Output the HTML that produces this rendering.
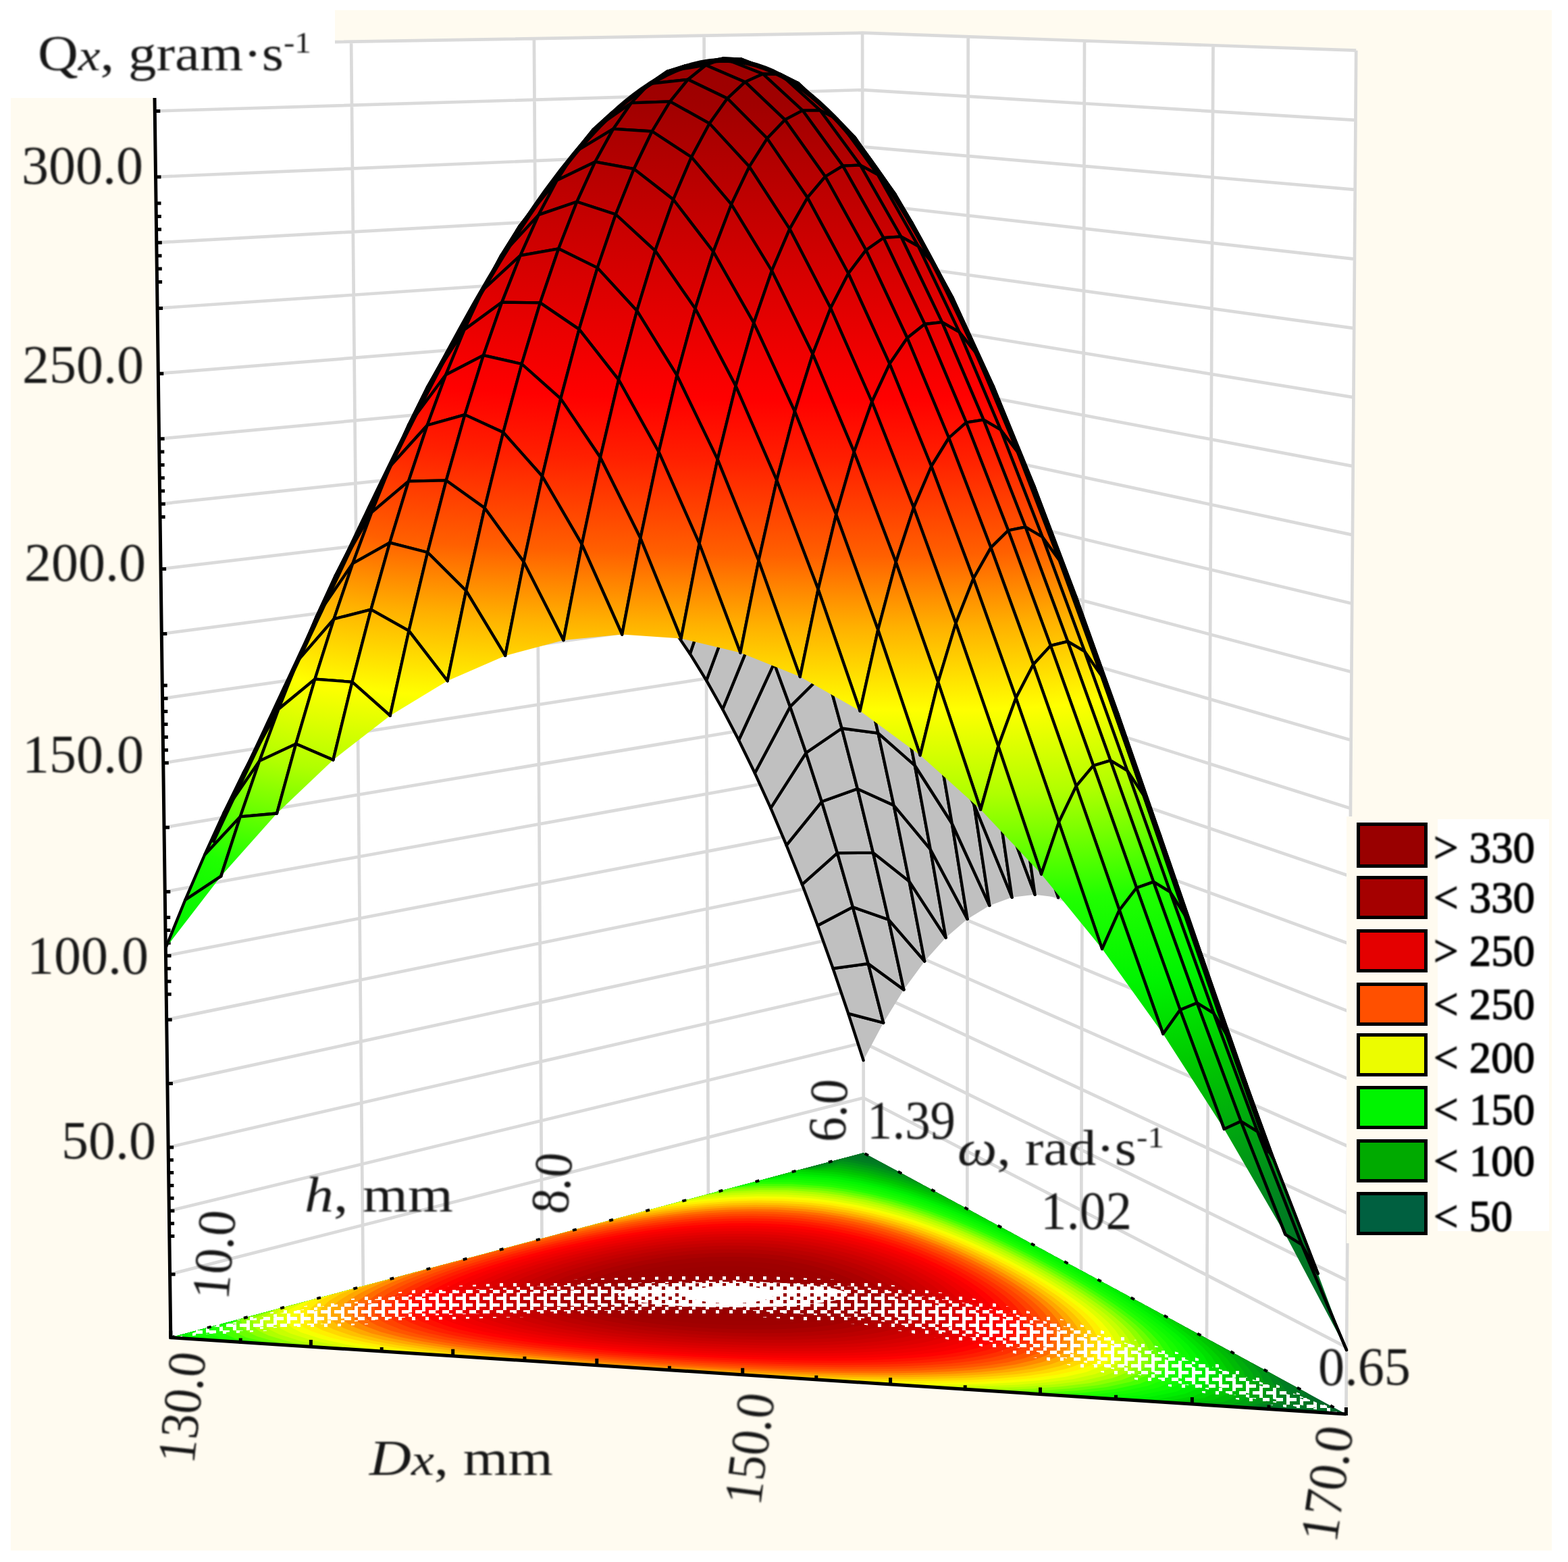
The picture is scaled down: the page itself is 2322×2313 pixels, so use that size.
<!DOCTYPE html><html><head><meta charset="utf-8"><style>html,body{margin:0;padding:0;background:#fff;overflow:hidden}svg{display:block}</style></head><body><svg width="2322" height="2313" viewBox="0 0 2322 2313">
<defs><filter id="tb" x="-5%" y="-5%" width="110%" height="110%"><feGaussianBlur stdDeviation="0.9"/></filter><pattern id="st0" width="20" height="20" patternUnits="userSpaceOnUse"><rect width="5" height="5" fill="#fff"/><rect x="10" y="10" width="5" height="5" fill="#fff"/></pattern><pattern id="st1" width="20" height="10" patternUnits="userSpaceOnUse"><rect x="5" y="5" width="5" height="5" fill="#fff"/><rect x="15" y="0" width="5" height="5" fill="#fff"/></pattern><pattern id="st2" width="10" height="10" patternUnits="userSpaceOnUse"><rect x="5" y="0" width="5" height="5" fill="#fff"/></pattern><pattern id="st3" width="20" height="10" patternUnits="userSpaceOnUse"><rect width="10" height="5" fill="#fff"/><rect x="10" y="5" width="10" height="5" fill="#fff"/></pattern><linearGradient id="g1" gradientUnits="userSpaceOnUse" x1="1028.8" y1="108.9" x2="1030.9" y2="83.1"><stop offset="0" stop-color="#9c0000"/><stop offset="1" stop-color="#9b0000"/></linearGradient><linearGradient id="g2" gradientUnits="userSpaceOnUse" x1="772.7" y1="336.2" x2="850.6" y2="223.7"><stop offset="0" stop-color="#ca0000"/><stop offset="0.237" stop-color="#c40000"/><stop offset="1" stop-color="#b10000"/></linearGradient><linearGradient id="g3" gradientUnits="userSpaceOnUse" x1="910.9" y1="199" x2="929.7" y2="116.6"><stop offset="0" stop-color="#aa0000"/><stop offset="0.617" stop-color="#a00000"/><stop offset="1" stop-color="#9e0000"/></linearGradient><linearGradient id="g4" gradientUnits="userSpaceOnUse" x1="1114.1" y1="111.4" x2="1113.2" y2="85.1"><stop offset="0" stop-color="#9d0000"/><stop offset="1" stop-color="#9b0000"/></linearGradient><linearGradient id="g5" gradientUnits="userSpaceOnUse" x1="622.5" y1="561.7" x2="729.5" y2="441.3"><stop offset="0" stop-color="#ff0300"/><stop offset="0.0485" stop-color="#ff0000"/><stop offset="0.948" stop-color="#e00000"/><stop offset="1" stop-color="#de0000"/></linearGradient><linearGradient id="g6" gradientUnits="userSpaceOnUse" x1="1003" y1="125.4" x2="1004" y2="95.1"><stop offset="0" stop-color="#9e0000"/><stop offset="1" stop-color="#9c0000"/></linearGradient><linearGradient id="g7" gradientUnits="userSpaceOnUse" x1="766.9" y1="384.7" x2="801.3" y2="260.2"><stop offset="0" stop-color="#d30000"/><stop offset="0.608" stop-color="#c40000"/><stop offset="1" stop-color="#ba0000"/></linearGradient><linearGradient id="g8" gradientUnits="userSpaceOnUse" x1="889.4" y1="228.7" x2="897.5" y2="148.5"><stop offset="0" stop-color="#b10000"/><stop offset="1" stop-color="#a00000"/></linearGradient><linearGradient id="g9" gradientUnits="userSpaceOnUse" x1="1202.3" y1="181.2" x2="1193.8" y2="105.8"><stop offset="0" stop-color="#a60000"/><stop offset="0.387" stop-color="#a00000"/><stop offset="1" stop-color="#9d0000"/></linearGradient><linearGradient id="g10" gradientUnits="userSpaceOnUse" x1="475.7" y1="821.9" x2="604.6" y2="723.5"><stop offset="0" stop-color="#ff9900"/><stop offset="0.415" stop-color="#ff6000"/><stop offset="1" stop-color="#ff3100"/></linearGradient><linearGradient id="g11" gradientUnits="userSpaceOnUse" x1="615.7" y1="631.8" x2="680.2" y2="484.4"><stop offset="0" stop-color="#ff1700"/><stop offset="0.424" stop-color="#ff0000"/><stop offset="1" stop-color="#ec0000"/></linearGradient><linearGradient id="g12" gradientUnits="userSpaceOnUse" x1="1308.4" y1="294.1" x2="1257.6" y2="170"><stop offset="0" stop-color="#be0000"/><stop offset="1" stop-color="#a60000"/></linearGradient><linearGradient id="g13" gradientUnits="userSpaceOnUse" x1="1087.6" y1="121.4" x2="1087.5" y2="86.4"><stop offset="0" stop-color="#9e0000"/><stop offset="1" stop-color="#9b0000"/></linearGradient><linearGradient id="g14" gradientUnits="userSpaceOnUse" x1="338.4" y1="1110.3" x2="469.1" y2="1017.5"><stop offset="0" stop-color="#8dff00"/><stop offset="0.2" stop-color="#b0ff00"/><stop offset="0.867" stop-color="#ffff00"/><stop offset="1" stop-color="#ffef00"/></linearGradient><linearGradient id="g15" gradientUnits="userSpaceOnUse" x1="746" y1="434.6" x2="767.7" y2="312.5"><stop offset="0" stop-color="#de0000"/><stop offset="1" stop-color="#c50000"/></linearGradient><linearGradient id="g16" gradientUnits="userSpaceOnUse" x1="976.4" y1="153.5" x2="977.5" y2="116.5"><stop offset="0" stop-color="#a00000"/><stop offset="0.0355" stop-color="#a00000"/><stop offset="1" stop-color="#9d0000"/></linearGradient><linearGradient id="g17" gradientUnits="userSpaceOnUse" x1="1421.4" y1="371" x2="1315.3" y2="355.2"><stop offset="0" stop-color="#e00000"/><stop offset="0.0135" stop-color="#e00000"/><stop offset="0.837" stop-color="#c40000"/><stop offset="1" stop-color="#be0000"/></linearGradient><linearGradient id="g18" gradientUnits="userSpaceOnUse" x1="863.5" y1="269.9" x2="869.7" y2="187.9"><stop offset="0" stop-color="#ba0000"/><stop offset="1" stop-color="#a90000"/></linearGradient><linearGradient id="g19" gradientUnits="userSpaceOnUse" x1="463.2" y1="907.5" x2="560.6" y2="764.9"><stop offset="0" stop-color="#ffc400"/><stop offset="0.184" stop-color="#ffb000"/><stop offset="0.802" stop-color="#ff6000"/><stop offset="1" stop-color="#ff5100"/></linearGradient><linearGradient id="g20" gradientUnits="userSpaceOnUse" x1="1173" y1="164.8" x2="1171.2" y2="108.2"><stop offset="0" stop-color="#a30000"/><stop offset="0.213" stop-color="#a00000"/><stop offset="1" stop-color="#9d0000"/></linearGradient><linearGradient id="g21" gradientUnits="userSpaceOnUse" x1="598.9" y1="695.7" x2="641.4" y2="549.2"><stop offset="0" stop-color="#ff3100"/><stop offset="0.25" stop-color="#ff2000"/><stop offset="0.874" stop-color="#ff0000"/><stop offset="1" stop-color="#fb0000"/></linearGradient><linearGradient id="g22" gradientUnits="userSpaceOnUse" x1="316.7" y1="1185.4" x2="434.5" y2="1070.7"><stop offset="0" stop-color="#57ff00"/><stop offset="0.56" stop-color="#b0ff00"/><stop offset="1" stop-color="#e0ff00"/></linearGradient><linearGradient id="g23" gradientUnits="userSpaceOnUse" x1="1061.1" y1="145.7" x2="1061.3" y2="96.5"><stop offset="0" stop-color="#9f0000"/><stop offset="1" stop-color="#9c0000"/></linearGradient><linearGradient id="g24" gradientUnits="userSpaceOnUse" x1="721.2" y1="492.7" x2="737.9" y2="373.5"><stop offset="0" stop-color="#ec0000"/><stop offset="0.445" stop-color="#e00000"/><stop offset="1" stop-color="#d20000"/></linearGradient><linearGradient id="g25" gradientUnits="userSpaceOnUse" x1="1262" y1="262.1" x2="1252.3" y2="159.9"><stop offset="0" stop-color="#b80000"/><stop offset="1" stop-color="#a30000"/></linearGradient><linearGradient id="g26" gradientUnits="userSpaceOnUse" x1="949.6" y1="194" x2="950.9" y2="149.2"><stop offset="0" stop-color="#a90000"/><stop offset="0.949" stop-color="#a00000"/><stop offset="1" stop-color="#a00000"/></linearGradient><linearGradient id="g27" gradientUnits="userSpaceOnUse" x1="836.9" y1="320.7" x2="842.4" y2="237"><stop offset="0" stop-color="#c50000"/><stop offset="0.0693" stop-color="#c40000"/><stop offset="1" stop-color="#b30000"/></linearGradient><linearGradient id="g28" gradientUnits="userSpaceOnUse" x1="450.9" y1="982.1" x2="516" y2="830.8"><stop offset="0" stop-color="#ffef00"/><stop offset="0.62" stop-color="#ffb000"/><stop offset="1" stop-color="#ff8200"/></linearGradient><linearGradient id="g29" gradientUnits="userSpaceOnUse" x1="1364.3" y1="400.9" x2="1321" y2="252.5"><stop offset="0" stop-color="#d60000"/><stop offset="0.594" stop-color="#c40000"/><stop offset="1" stop-color="#b80000"/></linearGradient><linearGradient id="g30" gradientUnits="userSpaceOnUse" x1="576.7" y1="764.4" x2="607.9" y2="624"><stop offset="0" stop-color="#ff5100"/><stop offset="0.765" stop-color="#ff2000"/><stop offset="1" stop-color="#ff1400"/></linearGradient><linearGradient id="g31" gradientUnits="userSpaceOnUse" x1="1146.5" y1="177.6" x2="1145.6" y2="109.2"><stop offset="0" stop-color="#a50000"/><stop offset="0.359" stop-color="#a00000"/><stop offset="1" stop-color="#9d0000"/></linearGradient><linearGradient id="g32" gradientUnits="userSpaceOnUse" x1="1498.3" y1="517.2" x2="1359" y2="448.6"><stop offset="0" stop-color="#ff0000"/><stop offset="0.74" stop-color="#e00000"/><stop offset="1" stop-color="#d60000"/></linearGradient><linearGradient id="g33" gradientUnits="userSpaceOnUse" x1="305.8" y1="1266" x2="387.2" y2="1127.3"><stop offset="0" stop-color="#1fff00"/><stop offset="0.0248" stop-color="#20ff00"/><stop offset="1" stop-color="#adff00"/></linearGradient><linearGradient id="g34" gradientUnits="userSpaceOnUse" x1="695.1" y1="559.1" x2="709.1" y2="443.4"><stop offset="0" stop-color="#fb0000"/><stop offset="1" stop-color="#e10000"/></linearGradient><linearGradient id="g35" gradientUnits="userSpaceOnUse" x1="1034.4" y1="182.7" x2="1035" y2="117.8"><stop offset="0" stop-color="#a60000"/><stop offset="0.457" stop-color="#a00000"/><stop offset="1" stop-color="#9d0000"/></linearGradient><linearGradient id="g36" gradientUnits="userSpaceOnUse" x1="809.9" y1="380.7" x2="815.2" y2="296.3"><stop offset="0" stop-color="#d20000"/><stop offset="0.798" stop-color="#c40000"/><stop offset="1" stop-color="#c00000"/></linearGradient><linearGradient id="g37" gradientUnits="userSpaceOnUse" x1="922.6" y1="249.7" x2="924.3" y2="191.3"><stop offset="0" stop-color="#b50000"/><stop offset="1" stop-color="#a90000"/></linearGradient><linearGradient id="g38" gradientUnits="userSpaceOnUse" x1="432.4" y1="1055.5" x2="477.6" y2="910.7"><stop offset="0" stop-color="#e0ff00"/><stop offset="0.328" stop-color="#ffff00"/><stop offset="1" stop-color="#ffc000"/></linearGradient><linearGradient id="g39" gradientUnits="userSpaceOnUse" x1="1233" y1="246.4" x2="1229.5" y2="162"><stop offset="0" stop-color="#b40000"/><stop offset="1" stop-color="#a20000"/></linearGradient><linearGradient id="g40" gradientUnits="userSpaceOnUse" x1="552.3" y1="839.5" x2="576.6" y2="707.2"><stop offset="0" stop-color="#ff8200"/><stop offset="0.332" stop-color="#ff6000"/><stop offset="1" stop-color="#ff3800"/></linearGradient><linearGradient id="g41" gradientUnits="userSpaceOnUse" x1="1323.9" y1="368.5" x2="1310.1" y2="240.8"><stop offset="0" stop-color="#cf0000"/><stop offset="0.41" stop-color="#c40000"/><stop offset="1" stop-color="#b40000"/></linearGradient><linearGradient id="g42" gradientUnits="userSpaceOnUse" x1="291" y1="1338.2" x2="343.5" y2="1203.6"><stop offset="0" stop-color="#0ef900"/><stop offset="0.514" stop-color="#20ff00"/><stop offset="1" stop-color="#5eff00"/></linearGradient><linearGradient id="g43" gradientUnits="userSpaceOnUse" x1="1119.9" y1="205.1" x2="1119.6" y2="121.2"><stop offset="0" stop-color="#ab0000"/><stop offset="0.618" stop-color="#a00000"/><stop offset="1" stop-color="#9e0000"/></linearGradient><linearGradient id="g44" gradientUnits="userSpaceOnUse" x1="668.6" y1="633.7" x2="680.7" y2="522.3"><stop offset="0" stop-color="#ff1400"/><stop offset="0.523" stop-color="#ff0000"/><stop offset="1" stop-color="#f30000"/></linearGradient><linearGradient id="g45" gradientUnits="userSpaceOnUse" x1="1428.8" y1="528.7" x2="1377.1" y2="359.4"><stop offset="0" stop-color="#f30000"/><stop offset="0.505" stop-color="#e00000"/><stop offset="1" stop-color="#cf0000"/></linearGradient><linearGradient id="g46" gradientUnits="userSpaceOnUse" x1="782.8" y1="450.1" x2="788" y2="365.9"><stop offset="0" stop-color="#e10000"/><stop offset="0.0686" stop-color="#e00000"/><stop offset="1" stop-color="#cf0000"/></linearGradient><linearGradient id="g47" gradientUnits="userSpaceOnUse" x1="1007.6" y1="232.5" x2="1008.6" y2="150.5"><stop offset="0" stop-color="#b10000"/><stop offset="0.972" stop-color="#a00000"/><stop offset="1" stop-color="#a00000"/></linearGradient><linearGradient id="g48" gradientUnits="userSpaceOnUse" x1="410.4" y1="1132.7" x2="442.8" y2="999.4"><stop offset="0" stop-color="#adff00"/><stop offset="0.0255" stop-color="#b0ff00"/><stop offset="0.945" stop-color="#ffff00"/><stop offset="1" stop-color="#fffa00"/></linearGradient><linearGradient id="g49" gradientUnits="userSpaceOnUse" x1="895.3" y1="317" x2="897.7" y2="240.1"><stop offset="0" stop-color="#c40000"/><stop offset="1" stop-color="#b30000"/></linearGradient><linearGradient id="g50" gradientUnits="userSpaceOnUse" x1="258.1" y1="1408.7" x2="303.5" y2="1288.5"><stop offset="0" stop-color="#00ed00"/><stop offset="0.155" stop-color="#00f400"/><stop offset="1" stop-color="#1afd00"/></linearGradient><linearGradient id="g51" gradientUnits="userSpaceOnUse" x1="1564.7" y1="667.3" x2="1414.2" y2="576.3"><stop offset="0" stop-color="#ff3c00"/><stop offset="0.29" stop-color="#ff2000"/><stop offset="0.731" stop-color="#ff0000"/><stop offset="1" stop-color="#f30000"/></linearGradient><linearGradient id="g52" gradientUnits="userSpaceOnUse" x1="1206.3" y1="261.8" x2="1204.2" y2="163.2"><stop offset="0" stop-color="#b80000"/><stop offset="1" stop-color="#a20000"/></linearGradient><linearGradient id="g53" gradientUnits="userSpaceOnUse" x1="526.8" y1="921.4" x2="546.3" y2="798.5"><stop offset="0" stop-color="#ffc000"/><stop offset="0.196" stop-color="#ffb000"/><stop offset="1" stop-color="#ff6400"/></linearGradient><linearGradient id="g54" gradientUnits="userSpaceOnUse" x1="641.7" y1="716.3" x2="652.5" y2="610.4"><stop offset="0" stop-color="#ff3800"/><stop offset="0.489" stop-color="#ff2000"/><stop offset="1" stop-color="#ff0d00"/></linearGradient><linearGradient id="g55" gradientUnits="userSpaceOnUse" x1="1093.3" y1="246.7" x2="1093.4" y2="145.7"><stop offset="0" stop-color="#b40000"/><stop offset="0.925" stop-color="#a00000"/><stop offset="1" stop-color="#9f0000"/></linearGradient><linearGradient id="g56" gradientUnits="userSpaceOnUse" x1="1294.2" y1="352.9" x2="1288.2" y2="243.5"><stop offset="0" stop-color="#cb0000"/><stop offset="0.32" stop-color="#c40000"/><stop offset="1" stop-color="#b40000"/></linearGradient><linearGradient id="g57" gradientUnits="userSpaceOnUse" x1="755" y1="537.9" x2="760.7" y2="445.9"><stop offset="0" stop-color="#f50000"/><stop offset="1" stop-color="#e10000"/></linearGradient><linearGradient id="g58" gradientUnits="userSpaceOnUse" x1="386.3" y1="1214.9" x2="409.9" y2="1095.6"><stop offset="0" stop-color="#5eff00"/><stop offset="0.731" stop-color="#b0ff00"/><stop offset="1" stop-color="#c5ff00"/></linearGradient><linearGradient id="g59" gradientUnits="userSpaceOnUse" x1="980.5" y1="295.2" x2="982.1" y2="194.6"><stop offset="0" stop-color="#bf0000"/><stop offset="1" stop-color="#a90000"/></linearGradient><linearGradient id="g60" gradientUnits="userSpaceOnUse" x1="867.8" y1="396" x2="871.1" y2="299.3"><stop offset="0" stop-color="#d50000"/><stop offset="0.825" stop-color="#c40000"/><stop offset="1" stop-color="#c00000"/></linearGradient><linearGradient id="g61" gradientUnits="userSpaceOnUse" x1="1387.3" y1="496.2" x2="1367.5" y2="346"><stop offset="0" stop-color="#eb0000"/><stop offset="0.328" stop-color="#e00000"/><stop offset="1" stop-color="#cb0000"/></linearGradient><linearGradient id="g62" gradientUnits="userSpaceOnUse" x1="500.7" y1="1010.2" x2="516.4" y2="897.8"><stop offset="0" stop-color="#fffa00"/><stop offset="1" stop-color="#ffb200"/></linearGradient><linearGradient id="g63" gradientUnits="userSpaceOnUse" x1="352.4" y1="1302.1" x2="371.6" y2="1197.5"><stop offset="0" stop-color="#1afd00"/><stop offset="0.219" stop-color="#20ff00"/><stop offset="1" stop-color="#6cff00"/></linearGradient><linearGradient id="g64" gradientUnits="userSpaceOnUse" x1="1179.7" y1="292.7" x2="1178.5" y2="177.2"><stop offset="0" stop-color="#be0000"/><stop offset="1" stop-color="#a50000"/></linearGradient><linearGradient id="g65" gradientUnits="userSpaceOnUse" x1="1496.8" y1="673.4" x2="1431.1" y2="488.1"><stop offset="0" stop-color="#ff2100"/><stop offset="0.015" stop-color="#ff2000"/><stop offset="0.507" stop-color="#ff0000"/><stop offset="1" stop-color="#eb0000"/></linearGradient><linearGradient id="g66" gradientUnits="userSpaceOnUse" x1="613.8" y1="816.2" x2="624.2" y2="707.8"><stop offset="0" stop-color="#ff6b00"/><stop offset="0.13" stop-color="#ff6000"/><stop offset="1" stop-color="#ff3500"/></linearGradient><linearGradient id="g67" gradientUnits="userSpaceOnUse" x1="1628.9" y1="817.7" x2="1472.7" y2="734.9"><stop offset="0" stop-color="#ffa300"/><stop offset="0.387" stop-color="#ff6000"/><stop offset="1" stop-color="#ff2100"/></linearGradient><linearGradient id="g68" gradientUnits="userSpaceOnUse" x1="726.8" y1="639.1" x2="733.8" y2="527.3"><stop offset="0" stop-color="#ff1500"/><stop offset="0.529" stop-color="#ff0000"/><stop offset="1" stop-color="#f30000"/></linearGradient><linearGradient id="g69" gradientUnits="userSpaceOnUse" x1="1066.4" y1="302.5" x2="1067.1" y2="182.8"><stop offset="0" stop-color="#c00000"/><stop offset="1" stop-color="#a60000"/></linearGradient><linearGradient id="g70" gradientUnits="userSpaceOnUse" x1="840" y1="486.9" x2="844.5" y2="368.9"><stop offset="0" stop-color="#e90000"/><stop offset="0.338" stop-color="#e00000"/><stop offset="1" stop-color="#cf0000"/></linearGradient><linearGradient id="g71" gradientUnits="userSpaceOnUse" x1="953.3" y1="370.9" x2="955.6" y2="250.4"><stop offset="0" stop-color="#cf0000"/><stop offset="0.435" stop-color="#c40000"/><stop offset="1" stop-color="#b50000"/></linearGradient><linearGradient id="g72" gradientUnits="userSpaceOnUse" x1="1267.3" y1="370.7" x2="1263.3" y2="245"><stop offset="0" stop-color="#cf0000"/><stop offset="0.413" stop-color="#c40000"/><stop offset="1" stop-color="#b40000"/></linearGradient><linearGradient id="g73" gradientUnits="userSpaceOnUse" x1="472.1" y1="1122.7" x2="486.8" y2="1005.3"><stop offset="0" stop-color="#baff00"/><stop offset="0.912" stop-color="#ffff00"/><stop offset="1" stop-color="#fff800"/></linearGradient><linearGradient id="g74" gradientUnits="userSpaceOnUse" x1="585.1" y1="932.3" x2="596.7" y2="805.4"><stop offset="0" stop-color="#ffc300"/><stop offset="0.226" stop-color="#ffb000"/><stop offset="1" stop-color="#ff6400"/></linearGradient><linearGradient id="g75" gradientUnits="userSpaceOnUse" x1="1356.5" y1="480.8" x2="1347" y2="349.3"><stop offset="0" stop-color="#e70000"/><stop offset="0.242" stop-color="#e00000"/><stop offset="1" stop-color="#cb0000"/></linearGradient><linearGradient id="g76" gradientUnits="userSpaceOnUse" x1="439.6" y1="1208" x2="452" y2="1103.2"><stop offset="0" stop-color="#6cff00"/><stop offset="0.695" stop-color="#b0ff00"/><stop offset="1" stop-color="#c5ff00"/></linearGradient><linearGradient id="g77" gradientUnits="userSpaceOnUse" x1="1153" y1="339.1" x2="1152.5" y2="205"><stop offset="0" stop-color="#c80000"/><stop offset="0.14" stop-color="#c40000"/><stop offset="1" stop-color="#ab0000"/></linearGradient><linearGradient id="g78" gradientUnits="userSpaceOnUse" x1="698.5" y1="750.9" x2="707.1" y2="615.3"><stop offset="0" stop-color="#ff4600"/><stop offset="0.603" stop-color="#ff2000"/><stop offset="1" stop-color="#ff0d00"/></linearGradient><linearGradient id="g79" gradientUnits="userSpaceOnUse" x1="1452.3" y1="641.4" x2="1424.7" y2="472.4"><stop offset="0" stop-color="#ff1400"/><stop offset="0.34" stop-color="#ff0000"/><stop offset="1" stop-color="#e70000"/></linearGradient><linearGradient id="g80" gradientUnits="userSpaceOnUse" x1="1039.4" y1="372.4" x2="1040.7" y2="232.8"><stop offset="0" stop-color="#cf0000"/><stop offset="0.377" stop-color="#c40000"/><stop offset="1" stop-color="#b10000"/></linearGradient><linearGradient id="g81" gradientUnits="userSpaceOnUse" x1="812.1" y1="589.6" x2="817.9" y2="449"><stop offset="0" stop-color="#ff0200"/><stop offset="0.0395" stop-color="#ff0000"/><stop offset="1" stop-color="#e10000"/></linearGradient><linearGradient id="g82" gradientUnits="userSpaceOnUse" x1="925.8" y1="459.7" x2="929.1" y2="317.8"><stop offset="0" stop-color="#e20000"/><stop offset="0.072" stop-color="#e00000"/><stop offset="0.999" stop-color="#c40000"/><stop offset="1" stop-color="#c40000"/></linearGradient><linearGradient id="g83" gradientUnits="userSpaceOnUse" x1="1567.3" y1="830.7" x2="1483.8" y2="635.8"><stop offset="0" stop-color="#ff7400"/><stop offset="0.129" stop-color="#ff6000"/><stop offset="0.826" stop-color="#ff2000"/><stop offset="1" stop-color="#ff1400"/></linearGradient><linearGradient id="g84" gradientUnits="userSpaceOnUse" x1="1688.5" y1="972.1" x2="1536.8" y2="914.1"><stop offset="0" stop-color="#e7ff00"/><stop offset="0.158" stop-color="#ffff00"/><stop offset="0.673" stop-color="#ffb000"/><stop offset="1" stop-color="#ff7400"/></linearGradient><linearGradient id="g85" gradientUnits="userSpaceOnUse" x1="1240.5" y1="405.2" x2="1237.8" y2="261.1"><stop offset="0" stop-color="#d60000"/><stop offset="0.595" stop-color="#c40000"/><stop offset="1" stop-color="#b80000"/></linearGradient><linearGradient id="g86" gradientUnits="userSpaceOnUse" x1="556.4" y1="1057.9" x2="569.8" y2="904.4"><stop offset="0" stop-color="#e9ff00"/><stop offset="0.225" stop-color="#ffff00"/><stop offset="1" stop-color="#ffb200"/></linearGradient><linearGradient id="g87" gradientUnits="userSpaceOnUse" x1="670.1" y1="873.5" x2="680.4" y2="712.6"><stop offset="0" stop-color="#ff9400"/><stop offset="0.416" stop-color="#ff6000"/><stop offset="1" stop-color="#ff3500"/></linearGradient><linearGradient id="g88" gradientUnits="userSpaceOnUse" x1="1126.2" y1="400.8" x2="1126.3" y2="246.7"><stop offset="0" stop-color="#d50000"/><stop offset="0.522" stop-color="#c40000"/><stop offset="1" stop-color="#b40000"/></linearGradient><linearGradient id="g89" gradientUnits="userSpaceOnUse" x1="525.5" y1="1127.9" x2="535.4" y2="1011"><stop offset="0" stop-color="#baff00"/><stop offset="0.912" stop-color="#ffff00"/><stop offset="1" stop-color="#fff800"/></linearGradient><linearGradient id="g90" gradientUnits="userSpaceOnUse" x1="1329.2" y1="501" x2="1322.7" y2="351.4"><stop offset="0" stop-color="#eb0000"/><stop offset="0.339" stop-color="#e00000"/><stop offset="1" stop-color="#cb0000"/></linearGradient><linearGradient id="g91" gradientUnits="userSpaceOnUse" x1="784" y1="704.3" x2="791.3" y2="539.7"><stop offset="0" stop-color="#ff2e00"/><stop offset="0.188" stop-color="#ff2000"/><stop offset="0.736" stop-color="#ff0000"/><stop offset="1" stop-color="#f50000"/></linearGradient><linearGradient id="g92" gradientUnits="userSpaceOnUse" x1="1012.2" y1="456.7" x2="1014.4" y2="295.6"><stop offset="0" stop-color="#e10000"/><stop offset="0.0346" stop-color="#e00000"/><stop offset="0.852" stop-color="#c40000"/><stop offset="1" stop-color="#bf0000"/></linearGradient><linearGradient id="g93" gradientUnits="userSpaceOnUse" x1="898.1" y1="561.7" x2="902.6" y2="397"><stop offset="0" stop-color="#f90000"/><stop offset="0.685" stop-color="#e00000"/><stop offset="1" stop-color="#d50000"/></linearGradient><linearGradient id="g94" gradientUnits="userSpaceOnUse" x1="1419.9" y1="626.5" x2="1406" y2="476"><stop offset="0" stop-color="#ff0e00"/><stop offset="0.265" stop-color="#ff0000"/><stop offset="1" stop-color="#e70000"/></linearGradient><linearGradient id="g95" gradientUnits="userSpaceOnUse" x1="1213.7" y1="456.3" x2="1212.1" y2="292.4"><stop offset="0" stop-color="#e10000"/><stop offset="0.0244" stop-color="#e00000"/><stop offset="0.832" stop-color="#c40000"/><stop offset="1" stop-color="#be0000"/></linearGradient><linearGradient id="g96" gradientUnits="userSpaceOnUse" x1="1518.7" y1="800.5" x2="1481.7" y2="616.8"><stop offset="0" stop-color="#ff5a00"/><stop offset="0.703" stop-color="#ff2000"/><stop offset="1" stop-color="#ff0d00"/></linearGradient><linearGradient id="g97" gradientUnits="userSpaceOnUse" x1="641.5" y1="1006.8" x2="653.7" y2="819.3"><stop offset="0" stop-color="#fff000"/><stop offset="0.526" stop-color="#ffb000"/><stop offset="1" stop-color="#ff6b00"/></linearGradient><linearGradient id="g98" gradientUnits="userSpaceOnUse" x1="1639.7" y1="996.3" x2="1535.6" y2="799.8"><stop offset="0" stop-color="#ffee00"/><stop offset="0.448" stop-color="#ffb000"/><stop offset="0.935" stop-color="#ff6000"/><stop offset="1" stop-color="#ff5a00"/></linearGradient><linearGradient id="g99" gradientUnits="userSpaceOnUse" x1="1740.7" y1="1132.3" x2="1609.6" y2="1104.9"><stop offset="0" stop-color="#54ff00"/><stop offset="0.396" stop-color="#b0ff00"/><stop offset="0.892" stop-color="#ffff00"/><stop offset="1" stop-color="#ffee00"/></linearGradient><linearGradient id="g100" gradientUnits="userSpaceOnUse" x1="755.8" y1="831.1" x2="764.7" y2="641.1"><stop offset="0" stop-color="#ff7000"/><stop offset="0.105" stop-color="#ff6000"/><stop offset="0.835" stop-color="#ff2000"/><stop offset="1" stop-color="#ff1500"/></linearGradient><linearGradient id="g101" gradientUnits="userSpaceOnUse" x1="1099.1" y1="478.2" x2="1100.1" y2="302.6"><stop offset="0" stop-color="#e60000"/><stop offset="0.148" stop-color="#e00000"/><stop offset="0.9" stop-color="#c40000"/><stop offset="1" stop-color="#c00000"/></linearGradient><linearGradient id="g102" gradientUnits="userSpaceOnUse" x1="611.3" y1="1061.9" x2="619.5" y2="935"><stop offset="0" stop-color="#e9ff00"/><stop offset="0.271" stop-color="#ffff00"/><stop offset="1" stop-color="#ffc300"/></linearGradient><linearGradient id="g103" gradientUnits="userSpaceOnUse" x1="870.2" y1="676.8" x2="876.1" y2="488"><stop offset="0" stop-color="#ff2000"/><stop offset="0.00143" stop-color="#ff2000"/><stop offset="0.479" stop-color="#ff0000"/><stop offset="1" stop-color="#e90000"/></linearGradient><linearGradient id="g104" gradientUnits="userSpaceOnUse" x1="984.7" y1="555.4" x2="988" y2="371.5"><stop offset="0" stop-color="#f70000"/><stop offset="0.569" stop-color="#e00000"/><stop offset="1" stop-color="#cf0000"/></linearGradient><linearGradient id="g105" gradientUnits="userSpaceOnUse" x1="1302.2" y1="539.1" x2="1297.7" y2="369.8"><stop offset="0" stop-color="#f40000"/><stop offset="0.519" stop-color="#e00000"/><stop offset="1" stop-color="#cf0000"/></linearGradient><linearGradient id="g106" gradientUnits="userSpaceOnUse" x1="1392" y1="649.1" x2="1382.4" y2="479.1"><stop offset="0" stop-color="#ff1500"/><stop offset="0.357" stop-color="#ff0000"/><stop offset="1" stop-color="#e70000"/></linearGradient><linearGradient id="g107" gradientUnits="userSpaceOnUse" x1="1186.8" y1="524.3" x2="1186.2" y2="338.9"><stop offset="0" stop-color="#f00000"/><stop offset="0.387" stop-color="#e00000"/><stop offset="1" stop-color="#c80000"/></linearGradient><linearGradient id="g108" gradientUnits="userSpaceOnUse" x1="727.3" y1="969.8" x2="738.2" y2="753.1"><stop offset="0" stop-color="#ffd500"/><stop offset="0.263" stop-color="#ffb000"/><stop offset="0.737" stop-color="#ff6000"/><stop offset="1" stop-color="#ff4600"/></linearGradient><linearGradient id="g109" gradientUnits="userSpaceOnUse" x1="842.1" y1="805.3" x2="849.7" y2="591"><stop offset="0" stop-color="#ff5c00"/><stop offset="0.604" stop-color="#ff2000"/><stop offset="1" stop-color="#ff0200"/></linearGradient><linearGradient id="g110" gradientUnits="userSpaceOnUse" x1="1071.8" y1="571.2" x2="1073.9" y2="372.7"><stop offset="0" stop-color="#fb0000"/><stop offset="0.6" stop-color="#e00000"/><stop offset="1" stop-color="#cf0000"/></linearGradient><linearGradient id="g111" gradientUnits="userSpaceOnUse" x1="1484.3" y1="786.4" x2="1465.3" y2="620.5"><stop offset="0" stop-color="#ff5200"/><stop offset="0.671" stop-color="#ff2000"/><stop offset="1" stop-color="#ff0d00"/></linearGradient><linearGradient id="g112" gradientUnits="userSpaceOnUse" x1="957" y1="668.6" x2="961.6" y2="460.5"><stop offset="0" stop-color="#ff1c00"/><stop offset="0.384" stop-color="#ff0000"/><stop offset="1" stop-color="#e20000"/></linearGradient><linearGradient id="g113" gradientUnits="userSpaceOnUse" x1="697.3" y1="1010" x2="704.2" y2="875.5"><stop offset="0" stop-color="#fff000"/><stop offset="0.733" stop-color="#ffb000"/><stop offset="1" stop-color="#ff9400"/></linearGradient><linearGradient id="g114" gradientUnits="userSpaceOnUse" x1="1586.3" y1="969.8" x2="1538.6" y2="775.7"><stop offset="0" stop-color="#ffd300"/><stop offset="0.281" stop-color="#ffb000"/><stop offset="0.826" stop-color="#ff6000"/><stop offset="1" stop-color="#ff5100"/></linearGradient><linearGradient id="g115" gradientUnits="userSpaceOnUse" x1="1275.2" y1="595.1" x2="1272.2" y2="404.6"><stop offset="0" stop-color="#ff0100"/><stop offset="0.02" stop-color="#ff0000"/><stop offset="0.753" stop-color="#e00000"/><stop offset="1" stop-color="#d60000"/></linearGradient><linearGradient id="g116" gradientUnits="userSpaceOnUse" x1="1713.3" y1="1165.8" x2="1587.5" y2="977.5"><stop offset="0" stop-color="#94ff00"/><stop offset="0.136" stop-color="#b0ff00"/><stop offset="0.689" stop-color="#ffff00"/><stop offset="1" stop-color="#ffd300"/></linearGradient><linearGradient id="g117" gradientUnits="userSpaceOnUse" x1="1785.3" y1="1300.5" x2="1690.8" y2="1297.9"><stop offset="0" stop-color="#00f200"/><stop offset="0.0265" stop-color="#00f400"/><stop offset="0.512" stop-color="#20ff00"/><stop offset="1" stop-color="#94ff00"/></linearGradient><linearGradient id="g118" gradientUnits="userSpaceOnUse" x1="1159.6" y1="609.1" x2="1160.2" y2="400.9"><stop offset="0" stop-color="#ff0600"/><stop offset="0.0845" stop-color="#ff0000"/><stop offset="0.752" stop-color="#e00000"/><stop offset="1" stop-color="#d50000"/></linearGradient><linearGradient id="g119" gradientUnits="userSpaceOnUse" x1="813.8" y1="947.1" x2="823.3" y2="705.9"><stop offset="0" stop-color="#ffc400"/><stop offset="0.126" stop-color="#ffb000"/><stop offset="0.552" stop-color="#ff6000"/><stop offset="1" stop-color="#ff2e00"/></linearGradient><linearGradient id="g120" gradientUnits="userSpaceOnUse" x1="1364.7" y1="690.9" x2="1357.9" y2="499.9"><stop offset="0" stop-color="#ff2400"/><stop offset="0.0494" stop-color="#ff2000"/><stop offset="0.53" stop-color="#ff0000"/><stop offset="1" stop-color="#eb0000"/></linearGradient><linearGradient id="g121" gradientUnits="userSpaceOnUse" x1="1044.3" y1="679.9" x2="1047.6" y2="457.2"><stop offset="0" stop-color="#ff2000"/><stop offset="0.402" stop-color="#ff0000"/><stop offset="1" stop-color="#e10000"/></linearGradient><linearGradient id="g122" gradientUnits="userSpaceOnUse" x1="929" y1="796.4" x2="935.3" y2="562.6"><stop offset="0" stop-color="#ff5600"/><stop offset="0.504" stop-color="#ff2000"/><stop offset="0.891" stop-color="#ff0000"/><stop offset="1" stop-color="#f90000"/></linearGradient><linearGradient id="g123" gradientUnits="userSpaceOnUse" x1="783.7" y1="972.5" x2="789.7" y2="832.7"><stop offset="0" stop-color="#ffd500"/><stop offset="0.408" stop-color="#ffb000"/><stop offset="1" stop-color="#ff7000"/></linearGradient><linearGradient id="g124" gradientUnits="userSpaceOnUse" x1="1455.8" y1="811.6" x2="1442.6" y2="624.7"><stop offset="0" stop-color="#ff5c00"/><stop offset="0.717" stop-color="#ff2000"/><stop offset="1" stop-color="#ff0e00"/></linearGradient><linearGradient id="g125" gradientUnits="userSpaceOnUse" x1="1248.1" y1="669.3" x2="1246.6" y2="456"><stop offset="0" stop-color="#ff1b00"/><stop offset="0.364" stop-color="#ff0000"/><stop offset="1" stop-color="#e10000"/></linearGradient><linearGradient id="g126" gradientUnits="userSpaceOnUse" x1="1549.5" y1="956.8" x2="1524.8" y2="779.4"><stop offset="0" stop-color="#ffc700"/><stop offset="0.208" stop-color="#ffb000"/><stop offset="0.809" stop-color="#ff6000"/><stop offset="1" stop-color="#ff5100"/></linearGradient><linearGradient id="g127" gradientUnits="userSpaceOnUse" x1="1132.3" y1="710.9" x2="1134.1" y2="478.4"><stop offset="0" stop-color="#ff2d00"/><stop offset="0.123" stop-color="#ff2000"/><stop offset="0.514" stop-color="#ff0000"/><stop offset="1" stop-color="#e60000"/></linearGradient><linearGradient id="g128" gradientUnits="userSpaceOnUse" x1="900.9" y1="938.7" x2="909.1" y2="678"><stop offset="0" stop-color="#ffbc00"/><stop offset="0.0724" stop-color="#ffb000"/><stop offset="0.467" stop-color="#ff6000"/><stop offset="1" stop-color="#ff2000"/></linearGradient><linearGradient id="g129" gradientUnits="userSpaceOnUse" x1="1016.5" y1="804.5" x2="1021.5" y2="556.1"><stop offset="0" stop-color="#ff5900"/><stop offset="0.499" stop-color="#ff2000"/><stop offset="0.864" stop-color="#ff0000"/><stop offset="1" stop-color="#f70000"/></linearGradient><linearGradient id="g130" gradientUnits="userSpaceOnUse" x1="1655" y1="1145.6" x2="1595.6" y2="945.7"><stop offset="0" stop-color="#b9ff00"/><stop offset="0.549" stop-color="#ffff00"/><stop offset="1" stop-color="#ffc600"/></linearGradient><linearGradient id="g131" gradientUnits="userSpaceOnUse" x1="1786.7" y1="1334.5" x2="1640.7" y2="1166.3"><stop offset="0" stop-color="#11fa00"/><stop offset="0.257" stop-color="#20ff00"/><stop offset="0.937" stop-color="#b0ff00"/><stop offset="1" stop-color="#b9ff00"/></linearGradient><linearGradient id="g132" gradientUnits="userSpaceOnUse" x1="1826.4" y1="1477.6" x2="1776.7" y2="1485.2"><stop offset="0" stop-color="#00b20a"/><stop offset="0.262" stop-color="#00c800"/><stop offset="0.746" stop-color="#00f400"/><stop offset="1" stop-color="#11fa00"/></linearGradient><linearGradient id="g133" gradientUnits="userSpaceOnUse" x1="1337.5" y1="752" x2="1332.9" y2="538.3"><stop offset="0" stop-color="#ff4000"/><stop offset="0.327" stop-color="#ff2000"/><stop offset="0.756" stop-color="#ff0000"/><stop offset="1" stop-color="#f40000"/></linearGradient><linearGradient id="g134" gradientUnits="userSpaceOnUse" x1="870.6" y1="949.3" x2="875.7" y2="806.6"><stop offset="0" stop-color="#ffc400"/><stop offset="0.213" stop-color="#ffb000"/><stop offset="0.935" stop-color="#ff6000"/><stop offset="1" stop-color="#ff5c00"/></linearGradient><linearGradient id="g135" gradientUnits="userSpaceOnUse" x1="1220.8" y1="761.8" x2="1220.9" y2="524.2"><stop offset="0" stop-color="#ff4400"/><stop offset="0.331" stop-color="#ff2000"/><stop offset="0.716" stop-color="#ff0000"/><stop offset="1" stop-color="#f00000"/></linearGradient><linearGradient id="g136" gradientUnits="userSpaceOnUse" x1="1428" y1="857.1" x2="1418.7" y2="647.8"><stop offset="0" stop-color="#ff7b00"/><stop offset="0.171" stop-color="#ff6000"/><stop offset="0.849" stop-color="#ff2000"/><stop offset="1" stop-color="#ff1500"/></linearGradient><linearGradient id="g137" gradientUnits="userSpaceOnUse" x1="1104.6" y1="829.8" x2="1108.1" y2="571.6"><stop offset="0" stop-color="#ff6600"/><stop offset="0.0315" stop-color="#ff6000"/><stop offset="0.572" stop-color="#ff2000"/><stop offset="0.925" stop-color="#ff0000"/><stop offset="1" stop-color="#fb0000"/></linearGradient><linearGradient id="g138" gradientUnits="userSpaceOnUse" x1="988.5" y1="945" x2="995.4" y2="669.5"><stop offset="0" stop-color="#ffbf00"/><stop offset="0.0813" stop-color="#ffb000"/><stop offset="0.456" stop-color="#ff6000"/><stop offset="0.962" stop-color="#ff2000"/><stop offset="1" stop-color="#ff1c00"/></linearGradient><linearGradient id="g139" gradientUnits="userSpaceOnUse" x1="1520.2" y1="984.7" x2="1503.2" y2="784.5"><stop offset="0" stop-color="#ffd700"/><stop offset="0.309" stop-color="#ffb000"/><stop offset="0.84" stop-color="#ff6000"/><stop offset="1" stop-color="#ff5200"/></linearGradient><linearGradient id="g140" gradientUnits="userSpaceOnUse" x1="1310.2" y1="832.5" x2="1307.6" y2="594.7"><stop offset="0" stop-color="#ff6700"/><stop offset="0.0385" stop-color="#ff6000"/><stop offset="0.63" stop-color="#ff2000"/><stop offset="1" stop-color="#ff0100"/></linearGradient><linearGradient id="g141" gradientUnits="userSpaceOnUse" x1="957.9" y1="944.1" x2="962.3" y2="797.5"><stop offset="0" stop-color="#ffbf00"/><stop offset="0.153" stop-color="#ffb000"/><stop offset="0.856" stop-color="#ff6000"/><stop offset="1" stop-color="#ff5600"/></linearGradient><linearGradient id="g142" gradientUnits="userSpaceOnUse" x1="1615.4" y1="1134.2" x2="1584.9" y2="949"><stop offset="0" stop-color="#c5ff00"/><stop offset="0.505" stop-color="#ffff00"/><stop offset="1" stop-color="#ffc600"/></linearGradient><linearGradient id="g143" gradientUnits="userSpaceOnUse" x1="1193.3" y1="872.5" x2="1195.1" y2="609.2"><stop offset="0" stop-color="#ff8600"/><stop offset="0.188" stop-color="#ff6000"/><stop offset="0.72" stop-color="#ff2000"/><stop offset="1" stop-color="#ff0600"/></linearGradient><linearGradient id="g144" gradientUnits="userSpaceOnUse" x1="1724.5" y1="1324.1" x2="1653" y2="1123.3"><stop offset="0" stop-color="#1dfe00"/><stop offset="0.0586" stop-color="#20ff00"/><stop offset="0.825" stop-color="#b0ff00"/><stop offset="1" stop-color="#c6ff00"/></linearGradient><linearGradient id="g145" gradientUnits="userSpaceOnUse" x1="1076.7" y1="965.9" x2="1082.2" y2="680.6"><stop offset="0" stop-color="#ffcb00"/><stop offset="0.144" stop-color="#ffb000"/><stop offset="0.506" stop-color="#ff6000"/><stop offset="0.997" stop-color="#ff2000"/><stop offset="1" stop-color="#ff2000"/></linearGradient><linearGradient id="g146" gradientUnits="userSpaceOnUse" x1="1857.5" y1="1498.1" x2="1697.7" y2="1363"><stop offset="0" stop-color="#00cb00"/><stop offset="0.508" stop-color="#00f400"/><stop offset="1" stop-color="#1dfe00"/></linearGradient><linearGradient id="g147" gradientUnits="userSpaceOnUse" x1="1400.4" y1="923.3" x2="1394.2" y2="690"><stop offset="0" stop-color="#ffad00"/><stop offset="0.433" stop-color="#ff6000"/><stop offset="1" stop-color="#ff2400"/></linearGradient><linearGradient id="g148" gradientUnits="userSpaceOnUse" x1="1045.4" y1="965.2" x2="1049.4" y2="805.4"><stop offset="0" stop-color="#ffcb00"/><stop offset="0.257" stop-color="#ffb000"/><stop offset="0.904" stop-color="#ff6000"/><stop offset="1" stop-color="#ff5900"/></linearGradient><linearGradient id="g149" gradientUnits="userSpaceOnUse" x1="1282.7" y1="932.6" x2="1282.2" y2="669.1"><stop offset="0" stop-color="#ffb300"/><stop offset="0.0186" stop-color="#ffb000"/><stop offset="0.414" stop-color="#ff6000"/><stop offset="0.949" stop-color="#ff2000"/><stop offset="1" stop-color="#ff1b00"/></linearGradient><linearGradient id="g150" gradientUnits="userSpaceOnUse" x1="1491.9" y1="1034.1" x2="1480" y2="810"><stop offset="0" stop-color="#fff500"/><stop offset="0.489" stop-color="#ffb000"/><stop offset="0.962" stop-color="#ff6000"/><stop offset="1" stop-color="#ff5c00"/></linearGradient><linearGradient id="g151" gradientUnits="userSpaceOnUse" x1="1165.5" y1="1001.7" x2="1169.4" y2="711.3"><stop offset="0" stop-color="#ffe100"/><stop offset="0.258" stop-color="#ffb000"/><stop offset="0.616" stop-color="#ff6000"/><stop offset="1" stop-color="#ff2d00"/></linearGradient><linearGradient id="g152" gradientUnits="userSpaceOnUse" x1="1585.1" y1="1164.8" x2="1564.4" y2="955.1"><stop offset="0" stop-color="#b4ff00"/><stop offset="0.575" stop-color="#ffff00"/><stop offset="1" stop-color="#ffc700"/></linearGradient><linearGradient id="g153" gradientUnits="userSpaceOnUse" x1="1372.8" y1="1010.2" x2="1369.3" y2="751.4"><stop offset="0" stop-color="#ffe500"/><stop offset="0.319" stop-color="#ffb000"/><stop offset="0.724" stop-color="#ff6000"/><stop offset="1" stop-color="#ff4000"/></linearGradient><linearGradient id="g154" gradientUnits="userSpaceOnUse" x1="1133.5" y1="1001" x2="1137" y2="830.5"><stop offset="0" stop-color="#ffe100"/><stop offset="0.44" stop-color="#ffb000"/><stop offset="1" stop-color="#ff6600"/></linearGradient><linearGradient id="g155" gradientUnits="userSpaceOnUse" x1="1681.7" y1="1314.8" x2="1645.7" y2="1125.7"><stop offset="0" stop-color="#26ff00"/><stop offset="0.808" stop-color="#b0ff00"/><stop offset="1" stop-color="#c6ff00"/></linearGradient><linearGradient id="g156" gradientUnits="userSpaceOnUse" x1="1794.6" y1="1501.6" x2="1711" y2="1304.9"><stop offset="0" stop-color="#00dc00"/><stop offset="0.333" stop-color="#00f400"/><stop offset="0.951" stop-color="#20ff00"/><stop offset="1" stop-color="#29ff00"/></linearGradient><linearGradient id="g157" gradientUnits="userSpaceOnUse" x1="1255" y1="1052.4" x2="1256.8" y2="761.8"><stop offset="0" stop-color="#feff00"/><stop offset="0.00675" stop-color="#ffff00"/><stop offset="0.429" stop-color="#ffb000"/><stop offset="0.788" stop-color="#ff6000"/><stop offset="1" stop-color="#ff4400"/></linearGradient><linearGradient id="g158" gradientUnits="userSpaceOnUse" x1="1922.1" y1="1653.3" x2="1762" y2="1563.7"><stop offset="0" stop-color="#009119"/><stop offset="0.745" stop-color="#00c800"/><stop offset="1" stop-color="#00dc00"/></linearGradient><linearGradient id="g159" gradientUnits="userSpaceOnUse" x1="1463.9" y1="1105.4" x2="1456.1" y2="856"><stop offset="0" stop-color="#dcff00"/><stop offset="0.222" stop-color="#ffff00"/><stop offset="0.72" stop-color="#ffb000"/><stop offset="1" stop-color="#ff7b00"/></linearGradient><linearGradient id="g160" gradientUnits="userSpaceOnUse" x1="1222.1" y1="1051.9" x2="1224.9" y2="873"><stop offset="0" stop-color="#feff00"/><stop offset="0.011" stop-color="#ffff00"/><stop offset="0.696" stop-color="#ffb000"/><stop offset="1" stop-color="#ff8600"/></linearGradient><linearGradient id="g161" gradientUnits="userSpaceOnUse" x1="1556.2" y1="1218.2" x2="1542.1" y2="983.1"><stop offset="0" stop-color="#86ff00"/><stop offset="0.195" stop-color="#b0ff00"/><stop offset="0.73" stop-color="#ffff00"/><stop offset="1" stop-color="#ffd700"/></linearGradient><linearGradient id="g162" gradientUnits="userSpaceOnUse" x1="1345.1" y1="1118.1" x2="1344.3" y2="832.3"><stop offset="0" stop-color="#d4ff00"/><stop offset="0.234" stop-color="#ffff00"/><stop offset="0.665" stop-color="#ffb000"/><stop offset="1" stop-color="#ff6700"/></linearGradient><linearGradient id="g163" gradientUnits="userSpaceOnUse" x1="1650.5" y1="1348.4" x2="1626.5" y2="1132.7"><stop offset="0" stop-color="#1afd00"/><stop offset="0.106" stop-color="#20ff00"/><stop offset="0.846" stop-color="#b0ff00"/><stop offset="1" stop-color="#c5ff00"/></linearGradient><linearGradient id="g164" gradientUnits="userSpaceOnUse" x1="1311.4" y1="1117.7" x2="1313.1" y2="932.9"><stop offset="0" stop-color="#d4ff00"/><stop offset="0.361" stop-color="#ffff00"/><stop offset="1" stop-color="#ffb300"/></linearGradient><linearGradient id="g165" gradientUnits="userSpaceOnUse" x1="1435.9" y1="1198.8" x2="1431.7" y2="922.6"><stop offset="0" stop-color="#9aff00"/><stop offset="0.0861" stop-color="#b0ff00"/><stop offset="0.536" stop-color="#ffff00"/><stop offset="0.986" stop-color="#ffb000"/><stop offset="1" stop-color="#ffad00"/></linearGradient><linearGradient id="g166" gradientUnits="userSpaceOnUse" x1="1748.4" y1="1495" x2="1707.4" y2="1305.8"><stop offset="0" stop-color="#00e300"/><stop offset="0.266" stop-color="#00f400"/><stop offset="0.946" stop-color="#20ff00"/><stop offset="1" stop-color="#29ff00"/></linearGradient><linearGradient id="g167" gradientUnits="userSpaceOnUse" x1="1865.2" y1="1674.3" x2="1769.7" y2="1486.9"><stop offset="0" stop-color="#00a211"/><stop offset="0.593" stop-color="#00c800"/><stop offset="1" stop-color="#00e400"/></linearGradient><linearGradient id="g168" gradientUnits="userSpaceOnUse" x1="1976.1" y1="1799.9" x2="1838.4" y2="1761.2"><stop offset="0" stop-color="#007026"/><stop offset="0.532" stop-color="#008020"/><stop offset="1" stop-color="#00a211"/></linearGradient><linearGradient id="g169" gradientUnits="userSpaceOnUse" x1="1527.7" y1="1294.7" x2="1518.8" y2="1032.9"><stop offset="0" stop-color="#41ff00"/><stop offset="0.463" stop-color="#b0ff00"/><stop offset="0.942" stop-color="#ffff00"/><stop offset="1" stop-color="#fff500"/></linearGradient><linearGradient id="g170" gradientUnits="userSpaceOnUse" x1="1401.3" y1="1198.7" x2="1401.4" y2="1010.2"><stop offset="0" stop-color="#9aff00"/><stop offset="0.126" stop-color="#b0ff00"/><stop offset="0.783" stop-color="#ffff00"/><stop offset="1" stop-color="#ffe500"/></linearGradient><linearGradient id="g171" gradientUnits="userSpaceOnUse" x1="1620.9" y1="1405.7" x2="1605" y2="1163.2"><stop offset="0" stop-color="#0cf800"/><stop offset="0.322" stop-color="#20ff00"/><stop offset="0.977" stop-color="#b0ff00"/><stop offset="1" stop-color="#b4ff00"/></linearGradient><linearGradient id="g172" gradientUnits="userSpaceOnUse" x1="1492" y1="1295" x2="1489.8" y2="1105"><stop offset="0" stop-color="#41ff00"/><stop offset="0.635" stop-color="#b0ff00"/><stop offset="1" stop-color="#dcff00"/></linearGradient><linearGradient id="g173" gradientUnits="userSpaceOnUse" x1="1716" y1="1531.6" x2="1689.6" y2="1313.7"><stop offset="0" stop-color="#00d800"/><stop offset="0.377" stop-color="#00f400"/><stop offset="0.97" stop-color="#20ff00"/><stop offset="1" stop-color="#26ff00"/></linearGradient><linearGradient id="g174" gradientUnits="userSpaceOnUse" x1="1583.8" y1="1406.6" x2="1578" y2="1217.3"><stop offset="0" stop-color="#0cf800"/><stop offset="0.409" stop-color="#20ff00"/><stop offset="1" stop-color="#86ff00"/></linearGradient><linearGradient id="g175" gradientUnits="userSpaceOnUse" x1="1815.1" y1="1671.2" x2="1770.3" y2="1485.6"><stop offset="0" stop-color="#00a80e"/><stop offset="0.55" stop-color="#00c800"/><stop offset="1" stop-color="#00e400"/></linearGradient><linearGradient id="g176" gradientUnits="userSpaceOnUse" x1="1936.1" y1="1838.2" x2="1829.5" y2="1665.8"><stop offset="0" stop-color="#007723"/><stop offset="0.332" stop-color="#008020"/><stop offset="1" stop-color="#00a90e"/></linearGradient><linearGradient id="g177" gradientUnits="userSpaceOnUse" x1="1677.3" y1="1533.8" x2="1665.7" y2="1347.2"><stop offset="0" stop-color="#00d800"/><stop offset="0.437" stop-color="#00f400"/><stop offset="1" stop-color="#1afd00"/></linearGradient><linearGradient id="g178" gradientUnits="userSpaceOnUse" x1="1995.6" y1="1910" x2="1926.5" y2="1908.8"><stop offset="0" stop-color="#00632b"/><stop offset="1" stop-color="#007723"/></linearGradient><linearGradient id="g179" gradientUnits="userSpaceOnUse" x1="1774.3" y1="1676.6" x2="1752.4" y2="1494.8"><stop offset="0" stop-color="#00a80e"/><stop offset="0.562" stop-color="#00c800"/><stop offset="1" stop-color="#00e300"/></linearGradient><linearGradient id="g180" gradientUnits="userSpaceOnUse" x1="1879.8" y1="1833.9" x2="1836.4" y2="1660.8"><stop offset="0" stop-color="#007b22"/><stop offset="0.233" stop-color="#008020"/><stop offset="1" stop-color="#00a90e"/></linearGradient><linearGradient id="g181" gradientUnits="userSpaceOnUse" x1="2011.7" y1="1986.2" x2="1898.9" y2="1831.3"><stop offset="0" stop-color="#00632b"/><stop offset="1" stop-color="#007b22"/></linearGradient></defs>
<rect width="2322" height="2313" fill="#fff"/>
<rect x="16" y="15" width="2282" height="2281" fill="#fffbf0"/>
<polygon points="228,66.8 1277.1,48.7 2008.2,74.7 1993.4,2093.9 252.8,1980.6" fill="#fff"/>
<path d="M251.6,1886.9L1278.7,1625.7L1994.1,1995.1M250.4,1793L1278.6,1544.1L1994.8,1896.1M249.2,1698.9L1278.5,1462.3L1995.5,1796.9M247.9,1604.6L1278.4,1380.4L1996.3,1697.5M246.7,1510L1278.3,1298.4L1997,1597.8M245.5,1415.3L1278.3,1216.2L1997.7,1497.9M244.3,1320.4L1278.2,1133.8L1998.5,1397.8M243,1225.2L1278.1,1051.3L1999.2,1297.5M241.8,1129.8L1278,968.6L1999.9,1196.9M240.5,1034.3L1277.9,885.8L2000.7,1096M239.3,938.5L1277.8,802.8L2001.4,995M238.1,842.5L1277.8,719.7L2002.2,893.7M236.8,746.3L1277.7,636.4L2002.9,792.1M235.6,649.8L1277.6,552.9L2003.7,690.4M234.3,553.2L1277.5,469.3L2004.4,588.4M233.1,456.4L1277.4,385.5L2005.2,486.1M231.8,359.3L1277.3,301.5L2005.9,383.6M230.5,262L1277.3,217.4L2006.7,280.9M229.3,164.5L1277.2,133.1L2007.4,177.9M228,66.8L1277.1,48.7L2008.2,74.7M537.9,1904.6L520.1,61.7M802.5,1834.1L790.9,57.1M1048.9,1768.4L1042.6,52.7M1278.8,1707.1L1277.1,48.7M1432.3,1790.2L1433.7,54.3M1601,1881.5L1606,60.4M1787,1982.2L1796.5,67.2M1993.4,2093.9L2008.2,74.7" fill="none" stroke="#dadada" stroke-width="4.7"/>
<polygon points="252.8,1980.6 1278.8,1707.1 1993.4,2093.9" fill="#00612c"/>
<polygon points="1458.2,1804.2 1477.1,1814.5 1495,1824.1 1512.2,1833.4 1528.7,1842.4 1544.8,1851.1 1560.7,1859.7 1576.4,1868.2 1592.1,1876.7 1608,1885.3 1624.1,1894 1640.7,1903 1657.9,1912.3 1675.8,1922 1694.8,1932.2 1715,1943.2 1736.8,1955 1760.6,1967.9 1787,1982.2 1816.6,1998.2 1850.4,2016.5 1889.6,2037.7 1936.1,2062.9 1982,2090.3 1981.5,2091.4 1981.5,2091.5 1980.9,2092.7 1847.1,2084.3 1730.6,2076.8 1635.5,2070.6 1555.8,2065.4 1487.5,2060.9 1427.8,2057.1 1374.8,2053.6 1327.1,2050.5 1283.4,2047.7 1243,2045 1205.3,2042.6 1169.6,2040.3 1135.6,2038.1 1102.8,2035.9 1070.9,2033.9 1039.6,2031.8 1008.7,2029.8 977.8,2027.8 946.7,2025.8 915.1,2023.7 882.8,2021.6 849.3,2019.4 814.4,2017.2 777.7,2014.8 738.6,2012.2 696.5,2009.5 650.7,2006.5 600.1,2003.2 543.7,1999.5 479.5,1995.4 405.3,1990.5 317.7,1984.8 259.4,1981.1 252.8,1980.6 258,1979.3 282.3,1972.8 351.2,1954.4 406.8,1939.6 453.1,1927.2 492.4,1916.7 526.6,1907.6 556.8,1899.6 583.9,1892.4 608.6,1885.8 631.3,1879.7 652.4,1874.1 672.3,1868.8 691.3,1863.7 709.5,1858.9 727.2,1854.2 744.4,1849.6 761.5,1845 778.4,1840.5 795.4,1836 812.7,1831.4 830.3,1826.7 848.4,1821.8 867.3,1816.8 887.1,1811.5 908.1,1805.9 930.6,1799.9 955.1,1793.4 981.9,1786.2 1011.7,1778.3 1045.4,1769.3 1084.2,1759 1129.6,1746.9 1184.1,1732.3 1251.3,1714.4 1273.8,1708.4 1278.8,1707.1 1281.2,1708.4 1303.4,1720.4 1336.9,1738.6 1366.4,1754.5 1392.6,1768.7 1416.3,1781.5 1438.1,1793.3" fill="#006a28"/>
<polygon points="1458.2,1804.2 1477.1,1814.5 1495,1824.1 1512.2,1833.4 1528.7,1842.4 1544.8,1851.1 1560.7,1859.7 1576.4,1868.2 1592.1,1876.7 1608,1885.3 1624.1,1894 1640.7,1903 1657.9,1912.3 1675.8,1922 1694.8,1932.2 1715,1943.2 1736.8,1955 1760.6,1967.9 1787,1982.2 1816.6,1998.2 1850.4,2016.5 1889.6,2037.7 1936.1,2062.9 1964.7,2087 1964.2,2088 1964.1,2088.1 1963.4,2089.3 1847.1,2084.3 1730.6,2076.8 1635.5,2070.6 1555.8,2065.4 1487.5,2060.9 1427.8,2057.1 1374.8,2053.6 1327.1,2050.5 1283.4,2047.7 1243,2045 1205.3,2042.6 1169.6,2040.3 1135.6,2038.1 1102.8,2035.9 1070.9,2033.9 1039.6,2031.8 1008.7,2029.8 977.8,2027.8 946.7,2025.8 915.1,2023.7 882.8,2021.6 849.3,2019.4 814.4,2017.2 777.7,2014.8 738.6,2012.2 696.5,2009.5 650.7,2006.5 600.1,2003.2 543.7,1999.5 479.5,1995.4 405.3,1990.5 317.7,1984.8 259.4,1981.1 252.8,1980.6 258,1979.3 282.3,1972.8 351.2,1954.4 406.8,1939.6 453.1,1927.2 492.4,1916.7 526.6,1907.6 556.8,1899.6 583.9,1892.4 608.6,1885.8 631.3,1879.7 652.4,1874.1 672.3,1868.8 691.3,1863.7 709.5,1858.9 727.2,1854.2 744.4,1849.6 761.5,1845 778.4,1840.5 795.4,1836 812.7,1831.4 830.3,1826.7 848.4,1821.8 867.3,1816.8 887.1,1811.5 908.1,1805.9 930.6,1799.9 955.1,1793.4 981.9,1786.2 1011.7,1778.3 1045.4,1769.3 1084.2,1759 1129.6,1746.9 1184.1,1732.3 1251.3,1714.4 1273.8,1708.4 1278.8,1707.1 1281.2,1708.4 1303.4,1720.4 1336.9,1738.6 1366.4,1754.5 1392.6,1768.7 1416.3,1781.5 1438.1,1793.3" fill="#006f26"/>
<polygon points="1458.2,1804.2 1477.1,1814.5 1495,1824.1 1512.2,1833.4 1528.7,1842.4 1544.8,1851.1 1560.7,1859.7 1576.4,1868.2 1592.1,1876.7 1608,1885.3 1624.1,1894 1640.7,1903 1657.9,1912.3 1675.8,1922 1694.8,1932.2 1715,1943.2 1736.8,1955 1760.6,1967.9 1787,1982.2 1816.6,1998.2 1850.4,2016.5 1889.6,2037.7 1936.1,2062.9 1947.9,2083.7 1947.3,2084.7 1947.2,2084.8 1946.4,2085.9 1847.1,2084.3 1730.6,2076.8 1635.5,2070.6 1555.8,2065.4 1487.5,2060.9 1427.8,2057.1 1374.8,2053.6 1327.1,2050.5 1283.4,2047.7 1243,2045 1205.3,2042.6 1169.6,2040.3 1135.6,2038.1 1102.8,2035.9 1070.9,2033.9 1039.6,2031.8 1008.7,2029.8 977.8,2027.8 946.7,2025.8 915.1,2023.7 882.8,2021.6 849.3,2019.4 814.4,2017.2 777.7,2014.8 738.6,2012.2 696.5,2009.5 650.7,2006.5 600.1,2003.2 543.7,1999.5 479.5,1995.4 405.3,1990.5 317.7,1984.8 259.4,1981.1 252.8,1980.6 258,1979.3 282.3,1972.8 351.2,1954.4 406.8,1939.6 453.1,1927.2 492.4,1916.7 526.6,1907.6 556.8,1899.6 583.9,1892.4 608.6,1885.8 631.3,1879.7 652.4,1874.1 672.3,1868.8 691.3,1863.7 709.5,1858.9 727.2,1854.2 744.4,1849.6 761.5,1845 778.4,1840.5 795.4,1836 812.7,1831.4 830.3,1826.7 848.4,1821.8 867.3,1816.8 887.1,1811.5 908.1,1805.9 930.6,1799.9 955.1,1793.4 981.9,1786.2 1011.7,1778.3 1045.4,1769.3 1084.2,1759 1129.6,1746.9 1184.1,1732.3 1251.3,1714.4 1273.5,1708.7 1276.6,1709.3 1279.7,1709.9 1303.4,1720.4 1336.9,1738.6 1366.4,1754.5 1392.6,1768.7 1416.3,1781.5 1438.1,1793.3" fill="#007424"/>
<polygon points="1458.2,1804.2 1477.1,1814.5 1495,1824.1 1512.2,1833.4 1528.7,1842.4 1544.8,1851.1 1560.7,1859.7 1576.4,1868.2 1592.1,1876.7 1608,1885.3 1624.1,1894 1640.7,1903 1657.9,1912.3 1675.8,1922 1694.8,1932.2 1715,1943.2 1736.8,1955 1760.6,1967.9 1787,1982.2 1816.6,1998.2 1850.4,2016.5 1889.6,2037.7 1931.9,2062.2 1931.5,2080.5 1930.8,2081.5 1930.7,2081.6 1929.9,2082.7 1847.1,2084.3 1730.6,2076.8 1635.5,2070.6 1555.8,2065.4 1487.5,2060.9 1427.8,2057.1 1374.8,2053.6 1327.1,2050.5 1283.4,2047.7 1243,2045 1205.3,2042.6 1169.6,2040.3 1135.6,2038.1 1102.8,2035.9 1070.9,2033.9 1039.6,2031.8 1008.7,2029.8 977.8,2027.8 946.7,2025.8 915.1,2023.7 882.8,2021.6 849.3,2019.4 814.4,2017.2 777.7,2014.8 738.6,2012.2 696.5,2009.5 650.7,2006.5 600.1,2003.2 543.7,1999.5 479.5,1995.4 405.3,1990.5 317.7,1984.8 259.4,1981.1 252.8,1980.6 258,1979.3 282.3,1972.8 351.2,1954.4 406.8,1939.6 453.1,1927.2 492.4,1916.7 526.6,1907.6 556.8,1899.6 583.9,1892.4 608.6,1885.8 631.3,1879.7 652.4,1874.1 672.3,1868.8 691.3,1863.7 709.5,1858.9 727.2,1854.2 744.4,1849.6 761.5,1845 778.4,1840.5 795.4,1836 812.7,1831.4 830.3,1826.7 848.4,1821.8 867.3,1816.8 887.1,1811.5 908.1,1805.9 930.6,1799.9 955.1,1793.4 981.9,1786.2 1011.7,1778.3 1045.4,1769.3 1084.2,1759 1129.6,1746.9 1184.1,1732.3 1251.3,1714.4 1270.3,1712 1273.4,1712.6 1276.5,1713.1 1303.4,1720.4 1336.9,1738.6 1366.4,1754.5 1392.6,1768.7 1416.3,1781.5 1438.1,1793.3" fill="#007923"/>
<polygon points="1458.2,1804.2 1477.1,1814.5 1495,1824.1 1512.2,1833.4 1528.7,1842.4 1544.8,1851.1 1560.7,1859.7 1576.4,1868.2 1592.1,1876.7 1608,1885.3 1624.1,1894 1640.7,1903 1657.9,1912.3 1675.8,1922 1694.8,1932.2 1715,1943.2 1736.8,1955 1760.6,1967.9 1787,1982.2 1816.6,1998.2 1850.4,2016.5 1889.6,2037.7 1917.4,2059.7 1915.4,2077.4 1914.7,2078.3 1914.6,2078.5 1913.7,2079.5 1847.1,2084.3 1730.6,2076.8 1635.5,2070.6 1555.8,2065.4 1487.5,2060.9 1427.8,2057.1 1374.8,2053.6 1327.1,2050.5 1283.4,2047.7 1243,2045 1205.3,2042.6 1169.6,2040.3 1135.6,2038.1 1102.8,2035.9 1070.9,2033.9 1039.6,2031.8 1008.7,2029.8 977.8,2027.8 946.7,2025.8 915.1,2023.7 882.8,2021.6 849.3,2019.4 814.4,2017.2 777.7,2014.8 738.6,2012.2 696.5,2009.5 650.7,2006.5 600.1,2003.2 543.7,1999.5 479.5,1995.4 405.3,1990.5 317.7,1984.8 259.4,1981.1 252.8,1980.6 258,1979.3 282.3,1972.8 351.2,1954.4 406.8,1939.6 453.1,1927.2 492.4,1916.7 526.6,1907.6 556.8,1899.6 583.9,1892.4 608.6,1885.8 631.3,1879.7 652.4,1874.1 672.3,1868.8 691.3,1863.7 709.5,1858.9 727.2,1854.2 744.4,1849.6 761.5,1845 778.4,1840.5 795.4,1836 812.7,1831.4 830.3,1826.7 848.4,1821.8 867.3,1816.8 887.1,1811.5 908.1,1805.9 930.6,1799.9 955.1,1793.4 981.9,1786.2 1011.7,1778.3 1045.4,1769.3 1084.2,1759 1129.6,1746.9 1184.1,1732.3 1251.3,1714.4 1267.2,1715.2 1270.3,1715.8 1273.3,1716.3 1301.1,1722.4 1336.9,1738.6 1366.4,1754.5 1392.6,1768.7 1416.3,1781.5 1438.1,1793.3" fill="#007e21"/>
<polygon points="1458.2,1804.2 1477.1,1814.5 1495,1824.1 1512.2,1833.4 1528.7,1842.4 1544.8,1851.1 1560.7,1859.7 1576.4,1868.2 1592.1,1876.7 1608,1885.3 1624.1,1894 1640.7,1903 1657.9,1912.3 1675.8,1922 1694.8,1932.2 1715,1943.2 1736.8,1955 1760.6,1967.9 1787,1982.2 1816.6,1998.2 1850.4,2016.5 1889.6,2037.7 1903,2057.2 1899.7,2074.3 1899,2075.2 1898.9,2075.4 1897.9,2076.4 1847.1,2084.3 1730.6,2076.8 1635.5,2070.6 1555.8,2065.4 1487.5,2060.9 1427.8,2057.1 1374.8,2053.6 1327.1,2050.5 1283.4,2047.7 1243,2045 1205.3,2042.6 1169.6,2040.3 1135.6,2038.1 1102.8,2035.9 1070.9,2033.9 1039.6,2031.8 1008.7,2029.8 977.8,2027.8 946.7,2025.8 915.1,2023.7 882.8,2021.6 849.3,2019.4 814.4,2017.2 777.7,2014.8 738.6,2012.2 696.5,2009.5 650.7,2006.5 600.1,2003.2 543.7,1999.5 479.5,1995.4 405.3,1990.5 317.7,1984.8 259.4,1981.1 252.8,1980.6 258,1979.3 282.3,1972.8 351.2,1954.4 406.8,1939.6 453.1,1927.2 492.4,1916.7 526.6,1907.6 556.8,1899.6 583.9,1892.4 608.6,1885.8 631.3,1879.7 652.4,1874.1 672.3,1868.8 691.3,1863.7 709.5,1858.9 727.2,1854.2 744.4,1849.6 761.5,1845 778.4,1840.5 795.4,1836 812.7,1831.4 830.3,1826.7 848.4,1821.8 867.3,1816.8 887.1,1811.5 908.1,1805.9 930.6,1799.9 955.1,1793.4 981.9,1786.2 1011.7,1778.3 1045.4,1769.3 1084.2,1759 1129.6,1746.9 1184.1,1732.3 1249.7,1716.2 1264.2,1718.4 1267.2,1718.9 1270.2,1719.5 1297.8,1725.2 1336.9,1738.6 1366.4,1754.5 1392.6,1768.7 1416.3,1781.5 1438.1,1793.3" fill="#00881c"/>
<polygon points="1458.2,1804.2 1477.1,1814.5 1495,1824.1 1512.2,1833.4 1528.7,1842.4 1544.8,1851.1 1560.7,1859.7 1576.4,1868.2 1592.1,1876.7 1608,1885.3 1624.1,1894 1640.7,1903 1657.9,1912.3 1675.8,1922 1694.8,1932.2 1715,1943.2 1736.8,1955 1760.6,1967.9 1787,1982.2 1816.6,1998.2 1850.4,2016.5 1879.2,2036.1 1888.8,2054.7 1884.3,2071.3 1883.5,2072.2 1883.4,2072.3 1882.4,2073.3 1847.1,2084.3 1730.6,2076.8 1635.5,2070.6 1555.8,2065.4 1487.5,2060.9 1427.8,2057.1 1374.8,2053.6 1327.1,2050.5 1283.4,2047.7 1243,2045 1205.3,2042.6 1169.6,2040.3 1135.6,2038.1 1102.8,2035.9 1070.9,2033.9 1039.6,2031.8 1008.7,2029.8 977.8,2027.8 946.7,2025.8 915.1,2023.7 882.8,2021.6 849.3,2019.4 814.4,2017.2 777.7,2014.8 738.6,2012.2 696.5,2009.5 650.7,2006.5 600.1,2003.2 543.7,1999.5 479.5,1995.4 405.3,1990.5 317.7,1984.8 259.4,1981.1 252.8,1980.6 258,1979.3 282.3,1972.8 351.2,1954.4 406.8,1939.6 453.1,1927.2 492.4,1916.7 526.6,1907.6 556.8,1899.6 583.9,1892.4 608.6,1885.8 631.3,1879.7 652.4,1874.1 672.3,1868.8 691.3,1863.7 709.5,1858.9 727.2,1854.2 744.4,1849.6 761.5,1845 778.4,1840.5 795.4,1836 812.7,1831.4 830.3,1826.7 848.4,1821.8 867.3,1816.8 887.1,1811.5 908.1,1805.9 930.6,1799.9 955.1,1793.4 981.9,1786.2 1011.7,1778.3 1045.4,1769.3 1084.2,1759 1129.6,1746.9 1184.1,1732.3 1246.9,1719.5 1261.2,1721.6 1264.2,1722.1 1267.1,1722.6 1294.5,1728.1 1335.9,1739.2 1366.4,1754.5 1392.6,1768.7 1416.3,1781.5 1438.1,1793.3" fill="#009517"/>
<polygon points="1458.2,1804.2 1477.1,1814.5 1495,1824.1 1512.2,1833.4 1528.7,1842.4 1544.8,1851.1 1560.7,1859.7 1576.4,1868.2 1592.1,1876.7 1608,1885.3 1624.1,1894 1640.7,1903 1657.9,1912.3 1675.8,1922 1694.8,1932.2 1715,1943.2 1736.8,1955 1760.6,1967.9 1787,1982.2 1816.6,1998.2 1850.4,2016.5 1866.6,2034.2 1874.7,2052.3 1869.2,2068.4 1868.3,2069.3 1868.2,2069.4 1867.2,2070.3 1840.7,2082.9 1730.6,2076.8 1635.5,2070.6 1555.8,2065.4 1487.5,2060.9 1427.8,2057.1 1374.8,2053.6 1327.1,2050.5 1283.4,2047.7 1243,2045 1205.3,2042.6 1169.6,2040.3 1135.6,2038.1 1102.8,2035.9 1070.9,2033.9 1039.6,2031.8 1008.7,2029.8 977.8,2027.8 946.7,2025.8 915.1,2023.7 882.8,2021.6 849.3,2019.4 814.4,2017.2 777.7,2014.8 738.6,2012.2 696.5,2009.5 650.7,2006.5 600.1,2003.2 543.7,1999.5 479.5,1995.4 405.3,1990.5 317.7,1984.8 259.4,1981.1 252.8,1980.6 258,1979.3 282.3,1972.8 351.2,1954.4 406.8,1939.6 453.1,1927.2 492.4,1916.7 526.6,1907.6 556.8,1899.6 583.9,1892.4 608.6,1885.8 631.3,1879.7 652.4,1874.1 672.3,1868.8 691.3,1863.7 709.5,1858.9 727.2,1854.2 744.4,1849.6 761.5,1845 778.4,1840.5 795.4,1836 812.7,1831.4 830.3,1826.7 848.4,1821.8 867.3,1816.8 887.1,1811.5 908.1,1805.9 930.6,1799.9 955.1,1793.4 981.9,1786.2 1011.7,1778.3 1045.4,1769.3 1084.2,1759 1129.6,1746.9 1184.1,1732.3 1244.1,1722.7 1258.2,1724.7 1261.2,1725.1 1264.1,1725.6 1291.1,1730.9 1332.4,1741.7 1366.4,1754.5 1392.6,1768.7 1416.3,1781.5 1438.1,1793.3" fill="#00a111"/>
<polygon points="1458.2,1804.2 1477.1,1814.5 1495,1824.1 1512.2,1833.4 1528.7,1842.4 1544.8,1851.1 1560.7,1859.7 1576.4,1868.2 1592.1,1876.7 1608,1885.3 1624.1,1894 1640.7,1903 1657.9,1912.3 1675.8,1922 1694.8,1932.2 1715,1943.2 1736.8,1955 1760.6,1967.9 1787,1982.2 1816.6,1998.2 1839.6,2015 1854,2032.3 1860.7,2049.9 1854.2,2065.5 1853.4,2066.3 1853.2,2066.4 1852.2,2067.4 1825.9,2079.7 1730.6,2076.8 1635.5,2070.6 1555.8,2065.4 1487.5,2060.9 1427.8,2057.1 1374.8,2053.6 1327.1,2050.5 1283.4,2047.7 1243,2045 1205.3,2042.6 1169.6,2040.3 1135.6,2038.1 1102.8,2035.9 1070.9,2033.9 1039.6,2031.8 1008.7,2029.8 977.8,2027.8 946.7,2025.8 915.1,2023.7 882.8,2021.6 849.3,2019.4 814.4,2017.2 777.7,2014.8 738.6,2012.2 696.5,2009.5 650.7,2006.5 600.1,2003.2 543.7,1999.5 479.5,1995.4 405.3,1990.5 317.7,1984.8 259.4,1981.1 252.8,1980.6 258,1979.3 282.3,1972.8 351.2,1954.4 406.8,1939.6 453.1,1927.2 492.4,1916.7 526.6,1907.6 556.8,1899.6 583.9,1892.4 608.6,1885.8 631.3,1879.7 652.4,1874.1 672.3,1868.8 691.3,1863.7 709.5,1858.9 727.2,1854.2 744.4,1849.6 761.5,1845 778.4,1840.5 795.4,1836 812.7,1831.4 830.3,1826.7 848.4,1821.8 867.3,1816.8 887.1,1811.5 908.1,1805.9 930.6,1799.9 955.1,1793.4 981.9,1786.2 1011.7,1778.3 1045.4,1769.3 1084.2,1759 1129.6,1746.9 1184.1,1732.3 1241.4,1725.8 1255.3,1727.7 1258.2,1728.2 1261.1,1728.7 1287.9,1733.7 1328.7,1744.1 1364.6,1755.5 1392.6,1768.7 1416.3,1781.5 1438.1,1793.3" fill="#00ad0c"/>
<polygon points="1458.2,1804.2 1477.1,1814.5 1495,1824.1 1512.2,1833.4 1528.7,1842.4 1544.8,1851.1 1560.7,1859.7 1576.4,1868.2 1592.1,1876.7 1608,1885.3 1624.1,1894 1640.7,1903 1657.9,1912.3 1675.8,1922 1694.8,1932.2 1715,1943.2 1736.8,1955 1760.6,1967.9 1787,1982.2 1811.3,1997.6 1828.3,2013.5 1841.4,2030.4 1846.8,2047.5 1839.5,2062.6 1838.6,2063.4 1838.5,2063.6 1837.4,2064.5 1811.3,2076.5 1730.6,2076.8 1635.5,2070.6 1555.8,2065.4 1487.5,2060.9 1427.8,2057.1 1374.8,2053.6 1327.1,2050.5 1283.4,2047.7 1243,2045 1205.3,2042.6 1169.6,2040.3 1135.6,2038.1 1102.8,2035.9 1070.9,2033.9 1039.6,2031.8 1008.7,2029.8 977.8,2027.8 946.7,2025.8 915.1,2023.7 882.8,2021.6 849.3,2019.4 814.4,2017.2 777.7,2014.8 738.6,2012.2 696.5,2009.5 650.7,2006.5 600.1,2003.2 543.7,1999.5 479.5,1995.4 405.3,1990.5 317.7,1984.8 259.4,1981.1 252.8,1980.6 258,1979.3 282.3,1972.8 351.2,1954.4 406.8,1939.6 453.1,1927.2 492.4,1916.7 526.6,1907.6 556.8,1899.6 583.9,1892.4 608.6,1885.8 631.3,1879.7 652.4,1874.1 672.3,1868.8 691.3,1863.7 709.5,1858.9 727.2,1854.2 744.4,1849.6 761.5,1845 778.4,1840.5 795.4,1836 812.7,1831.4 830.3,1826.7 848.4,1821.8 867.3,1816.8 887.1,1811.5 908.1,1805.9 930.6,1799.9 955.1,1793.4 981.9,1786.2 1011.7,1778.3 1045.4,1769.3 1084.2,1759 1129.6,1746.9 1184.1,1732.3 1238.6,1728.9 1252.4,1730.8 1255.2,1731.2 1258.1,1731.7 1284.6,1736.5 1325.1,1746.6 1360.7,1757.6 1392.2,1768.9 1416.3,1781.5 1438.1,1793.3" fill="#00ba06"/>
<polygon points="1458.2,1804.2 1477.1,1814.5 1495,1824.1 1512.2,1833.4 1528.7,1842.4 1544.8,1851.1 1560.7,1859.7 1576.4,1868.2 1592.1,1876.7 1608,1885.3 1624.1,1894 1640.7,1903 1657.9,1912.3 1675.8,1922 1694.8,1932.2 1715,1943.2 1736.8,1955 1760.6,1967.9 1783.4,1981.8 1801,1996.4 1816.9,2012.1 1828.9,2028.5 1833.1,2045.1 1825,2059.8 1824.1,2060.6 1823.9,2060.7 1822.8,2061.6 1796.9,2073.3 1730.6,2076.8 1635.5,2070.6 1555.8,2065.4 1487.5,2060.9 1427.8,2057.1 1374.8,2053.6 1327.1,2050.5 1283.4,2047.7 1243,2045 1205.3,2042.6 1169.6,2040.3 1135.6,2038.1 1102.8,2035.9 1070.9,2033.9 1039.6,2031.8 1008.7,2029.8 977.8,2027.8 946.7,2025.8 915.1,2023.7 882.8,2021.6 849.3,2019.4 814.4,2017.2 777.7,2014.8 738.6,2012.2 696.5,2009.5 650.7,2006.5 600.1,2003.2 543.7,1999.5 479.5,1995.4 405.3,1990.5 317.7,1984.8 259.4,1981.1 252.8,1980.6 258,1979.3 282.3,1972.8 351.2,1954.4 406.8,1939.6 453.1,1927.2 492.4,1916.7 526.6,1907.6 556.8,1899.6 583.9,1892.4 608.6,1885.8 631.3,1879.7 652.4,1874.1 672.3,1868.8 691.3,1863.7 709.5,1858.9 727.2,1854.2 744.4,1849.6 761.5,1845 778.4,1840.5 795.4,1836 812.7,1831.4 830.3,1826.7 848.4,1821.8 867.3,1816.8 887.1,1811.5 908.1,1805.9 930.6,1799.9 955.1,1793.4 981.9,1786.2 1011.7,1778.3 1045.4,1769.3 1084.2,1759 1129.6,1746.9 1184.1,1732.3 1235.9,1732 1249.5,1733.8 1252.3,1734.2 1255.1,1734.6 1281.3,1739.3 1321.5,1749 1356.9,1759.7 1388.2,1770.7 1416.2,1781.6 1438.1,1793.3" fill="#00c601"/>
<polygon points="1458.2,1804.2 1477.1,1814.5 1495,1824.1 1512.2,1833.4 1528.7,1842.4 1544.8,1851.1 1560.7,1859.7 1576.4,1868.2 1592.1,1876.7 1608,1885.3 1624.1,1894 1640.7,1903 1657.9,1912.3 1675.8,1922 1694.8,1932.2 1715,1943.2 1736.8,1955 1756.3,1967.6 1773.8,1980.9 1790.6,1995.3 1805.5,2010.6 1816.4,2026.6 1819.4,2042.7 1810.6,2057 1809.7,2057.8 1809.6,2057.9 1808.4,2058.7 1782.8,2070.2 1730.6,2076.8 1635.5,2070.6 1555.8,2065.4 1487.5,2060.9 1427.8,2057.1 1374.8,2053.6 1327.1,2050.5 1283.4,2047.7 1243,2045 1205.3,2042.6 1169.6,2040.3 1135.6,2038.1 1102.8,2035.9 1070.9,2033.9 1039.6,2031.8 1008.7,2029.8 977.8,2027.8 946.7,2025.8 915.1,2023.7 882.8,2021.6 849.3,2019.4 814.4,2017.2 777.7,2014.8 738.6,2012.2 696.5,2009.5 650.7,2006.5 600.1,2003.2 543.7,1999.5 479.5,1995.4 405.3,1990.5 317.7,1984.8 259.4,1981.1 252.8,1980.6 258,1979.3 282.3,1972.8 351.2,1954.4 406.8,1939.6 453.1,1927.2 492.4,1916.7 526.6,1907.6 556.8,1899.6 583.9,1892.4 608.6,1885.8 631.3,1879.7 652.4,1874.1 672.3,1868.8 691.3,1863.7 709.5,1858.9 727.2,1854.2 744.4,1849.6 761.5,1845 778.4,1840.5 795.4,1836 812.7,1831.4 830.3,1826.7 848.4,1821.8 867.3,1816.8 887.1,1811.5 908.1,1805.9 930.6,1799.9 955.1,1793.4 981.9,1786.2 1011.7,1778.3 1045.4,1769.3 1084.2,1759 1129.6,1746.9 1184.1,1732.3 1233.3,1735.1 1246.6,1736.8 1249.4,1737.2 1252.2,1737.6 1278.1,1742.1 1317.9,1751.4 1353,1761.9 1384.2,1772.6 1412,1783.2 1437.3,1793.6" fill="#00d300"/>
<polygon points="1455.9,1804.9 1477.1,1814.5 1495,1824.1 1512.2,1833.4 1528.7,1842.4 1544.8,1851.1 1560.7,1859.7 1576.4,1868.2 1592.1,1876.7 1608,1885.3 1624.1,1894 1640.7,1903 1657.9,1912.3 1675.8,1922 1694.8,1932.2 1713.3,1943.1 1730.3,1954.6 1747.3,1966.9 1764.2,1980 1780.2,1994.1 1794.1,2009 1803.8,2024.7 1805.8,2040.4 1796.4,2054.3 1795.5,2055 1795.4,2055.1 1794.2,2055.9 1768.8,2067.1 1725.8,2075.6 1635.5,2070.6 1555.8,2065.4 1487.5,2060.9 1427.8,2057.1 1374.8,2053.6 1327.1,2050.5 1283.4,2047.7 1243,2045 1205.3,2042.6 1169.6,2040.3 1135.6,2038.1 1102.8,2035.9 1070.9,2033.9 1039.6,2031.8 1008.7,2029.8 977.8,2027.8 946.7,2025.8 915.1,2023.7 882.8,2021.6 849.3,2019.4 814.4,2017.2 777.7,2014.8 738.6,2012.2 696.5,2009.5 650.7,2006.5 600.1,2003.2 543.7,1999.5 479.5,1995.4 405.3,1990.5 317.7,1984.8 259.4,1981.1 252.8,1980.6 258,1979.3 282.3,1972.8 351.2,1954.4 406.8,1939.6 453.1,1927.2 492.4,1916.7 526.6,1907.6 556.8,1899.6 583.9,1892.4 608.6,1885.8 631.3,1879.7 652.4,1874.1 672.3,1868.8 691.3,1863.7 709.5,1858.9 727.2,1854.2 744.4,1849.6 761.5,1845 778.4,1840.5 795.4,1836 812.7,1831.4 830.3,1826.7 848.4,1821.8 867.3,1816.8 887.1,1811.5 908.1,1805.9 930.6,1799.9 955.1,1793.4 981.9,1786.2 1011.7,1778.3 1045.4,1769.3 1084.2,1759 1129.6,1746.9 1182.7,1734.8 1230.6,1738.1 1243.8,1739.8 1246.5,1740.2 1249.3,1740.6 1274.8,1744.9 1314.3,1753.9 1349.1,1764 1380.1,1774.5 1407.8,1784.9 1432.9,1795" fill="#00e000"/>
<polygon points="1451.4,1806.2 1472.5,1815.6 1492.3,1824.7 1511,1833.6 1528.7,1842.4 1544.8,1851.1 1560.7,1859.7 1576.4,1868.2 1592.1,1876.7 1608,1885.3 1624.1,1894 1640.7,1903 1657.1,1912.3 1673,1922 1689.1,1932.1 1705.4,1942.8 1721.8,1954.1 1738.3,1966.2 1754.5,1979.1 1769.6,1992.9 1782.6,2007.5 1791.3,2022.8 1792.3,2038.1 1782.4,2051.5 1781.4,2052.3 1781.3,2052.4 1780.1,2053.2 1754.9,2064 1713.1,2072.4 1635.5,2070.6 1555.8,2065.4 1487.5,2060.9 1427.8,2057.1 1374.8,2053.6 1327.1,2050.5 1283.4,2047.7 1243,2045 1205.3,2042.6 1169.6,2040.3 1135.6,2038.1 1102.8,2035.9 1070.9,2033.9 1039.6,2031.8 1008.7,2029.8 977.8,2027.8 946.7,2025.8 915.1,2023.7 882.8,2021.6 849.3,2019.4 814.4,2017.2 777.7,2014.8 738.6,2012.2 696.5,2009.5 650.7,2006.5 600.1,2003.2 543.7,1999.5 479.5,1995.4 405.3,1990.5 317.7,1984.8 259.4,1981.1 252.8,1980.6 258,1979.3 282.3,1972.8 351.2,1954.4 406.8,1939.6 453.1,1927.2 492.4,1916.7 526.6,1907.6 556.8,1899.6 583.9,1892.4 608.6,1885.8 631.3,1879.7 652.4,1874.1 672.3,1868.8 691.3,1863.7 709.5,1858.9 727.2,1854.2 744.4,1849.6 761.5,1845 778.4,1840.5 795.4,1836 812.7,1831.4 830.3,1826.7 848.4,1821.8 867.3,1816.8 887.1,1811.5 908.1,1805.9 930.6,1799.9 955.1,1793.4 981.9,1786.2 1011.7,1778.3 1045.4,1769.3 1084.2,1759 1129.6,1746.9 1180.8,1737.9 1228,1741.2 1240.9,1742.8 1243.6,1743.1 1246.3,1743.5 1271.6,1747.7 1310.6,1756.4 1345.2,1766.2 1376,1776.4 1403.5,1786.6 1428.5,1796.5" fill="#00ed00"/>
<polygon points="1446.7,1807.6 1467.7,1816.8 1487.4,1825.8 1505.9,1834.6 1523.6,1843.2 1540.5,1851.7 1556.9,1860.1 1572.8,1868.5 1588.5,1877 1604,1885.5 1619.3,1894.2 1634.7,1903.1 1650.1,1912.3 1665.7,1921.9 1681.4,1931.9 1697.3,1942.4 1713.3,1953.6 1729.2,1965.4 1744.6,1978.1 1759,1991.7 1771.1,2006 1778.8,2020.9 1778.9,2035.7 1768.4,2048.8 1767.4,2049.5 1767.3,2049.6 1766.1,2050.4 1741.2,2061 1700.5,2069.3 1635.5,2070.6 1555.8,2065.4 1487.5,2060.9 1427.8,2057.1 1374.8,2053.6 1327.1,2050.5 1283.4,2047.7 1243,2045 1205.3,2042.6 1169.6,2040.3 1135.6,2038.1 1102.8,2035.9 1070.9,2033.9 1039.6,2031.8 1008.7,2029.8 977.8,2027.8 946.7,2025.8 915.1,2023.7 882.8,2021.6 849.3,2019.4 814.4,2017.2 777.7,2014.8 738.6,2012.2 696.5,2009.5 650.7,2006.5 600.1,2003.2 543.7,1999.5 479.5,1995.4 405.3,1990.5 317.7,1984.8 260.6,1981 259.1,1980.1 258,1979.3 282.3,1972.8 351.2,1954.4 406.8,1939.6 453.1,1927.2 492.4,1916.7 526.6,1907.6 556.8,1899.6 583.9,1892.4 608.6,1885.8 631.3,1879.7 652.4,1874.1 672.3,1868.8 691.3,1863.7 709.5,1858.9 727.2,1854.2 744.4,1849.6 761.5,1845 778.4,1840.5 795.4,1836 812.7,1831.4 830.3,1826.7 848.4,1821.8 867.3,1816.8 887.1,1811.5 908.1,1805.9 930.6,1799.9 955.1,1793.4 981.9,1786.2 1011.7,1778.3 1045.4,1769.3 1084.2,1759 1129.6,1746.9 1179,1741 1225.3,1744.2 1238.1,1745.7 1240.8,1746.1 1243.4,1746.4 1268.3,1750.5 1306.9,1758.9 1341.3,1768.4 1371.8,1778.3 1399.2,1788.3 1424,1798" fill="#05f600"/>
<polygon points="1442,1808.9 1462.9,1818 1482.4,1826.9 1500.8,1835.5 1518.2,1844 1535,1852.4 1551.2,1860.8 1567,1869.1 1582.4,1877.4 1597.7,1885.8 1612.8,1894.4 1627.9,1903.2 1643.1,1912.3 1658.3,1921.8 1673.7,1931.6 1689.1,1942 1704.6,1953 1719.9,1964.7 1734.7,1977.2 1748.3,1990.5 1759.5,2004.5 1766.2,2019 1765.5,2033.4 1754.6,2046.2 1753.6,2046.8 1753.4,2046.9 1752.3,2047.7 1727.7,2058 1688,2066.2 1635.5,2070.6 1555.8,2065.4 1487.5,2060.9 1427.8,2057.1 1374.8,2053.6 1327.1,2050.5 1283.4,2047.7 1243,2045 1205.3,2042.6 1169.6,2040.3 1135.6,2038.1 1102.8,2035.9 1070.9,2033.9 1039.6,2031.8 1008.7,2029.8 977.8,2027.8 946.7,2025.8 915.1,2023.7 882.8,2021.6 849.3,2019.4 814.4,2017.2 777.7,2014.8 738.6,2012.2 696.5,2009.5 650.7,2006.5 600.1,2003.2 543.7,1999.5 479.5,1995.4 405.3,1990.5 317.7,1984.8 279.1,1979.5 277.7,1978.6 276.5,1977.8 282.3,1972.8 351.2,1954.4 406.8,1939.6 453.1,1927.2 492.4,1916.7 526.6,1907.6 556.8,1899.6 583.9,1892.4 608.6,1885.8 631.3,1879.7 652.4,1874.1 672.3,1868.8 691.3,1863.7 709.5,1858.9 727.2,1854.2 744.4,1849.6 761.5,1845 778.4,1840.5 795.4,1836 812.7,1831.4 830.3,1826.7 848.4,1821.8 867.3,1816.8 887.1,1811.5 908.1,1805.9 930.6,1799.9 955.1,1793.4 981.9,1786.2 1011.7,1778.3 1045.4,1769.3 1084.2,1759 1129.6,1746.9 1177.2,1744.1 1222.7,1747.2 1235.3,1748.7 1237.9,1749 1240.5,1749.4 1265.1,1753.2 1303.3,1761.3 1337.3,1770.6 1367.6,1780.2 1394.8,1790 1419.4,1799.6" fill="#0ef900"/>
<polygon points="1437.2,1810.3 1457.9,1819.3 1477.3,1828 1495.5,1836.5 1512.8,1844.9 1529.4,1853.2 1545.4,1861.4 1561,1869.6 1576.3,1877.9 1591.3,1886.2 1606.2,1894.7 1621.1,1903.4 1635.9,1912.4 1650.8,1921.7 1665.8,1931.4 1680.8,1941.7 1695.8,1952.5 1710.6,1964 1724.7,1976.2 1737.5,1989.2 1747.8,2002.9 1753.6,2017.1 1752.1,2031.1 1740.8,2043.5 1739.8,2044.1 1739.7,2044.2 1738.5,2045 1714.2,2055 1675.6,2063.1 1627.4,2068.3 1555.8,2065.4 1487.5,2060.9 1427.8,2057.1 1374.8,2053.6 1327.1,2050.5 1283.4,2047.7 1243,2045 1205.3,2042.6 1169.6,2040.3 1135.6,2038.1 1102.8,2035.9 1070.9,2033.9 1039.6,2031.8 1008.7,2029.8 977.8,2027.8 946.7,2025.8 915.1,2023.7 882.8,2021.6 849.3,2019.4 814.4,2017.2 777.7,2014.8 738.6,2012.2 696.5,2009.5 650.7,2006.5 600.1,2003.2 543.7,1999.5 479.5,1995.4 405.3,1990.5 317.7,1984.8 297.3,1978 296,1977.2 294.7,1976.3 289.8,1972.2 351.2,1954.4 406.8,1939.6 453.1,1927.2 492.4,1916.7 526.6,1907.6 556.8,1899.6 583.9,1892.4 608.6,1885.8 631.3,1879.7 652.4,1874.1 672.3,1868.8 691.3,1863.7 709.5,1858.9 727.2,1854.2 744.4,1849.6 761.5,1845 778.4,1840.5 795.4,1836 812.7,1831.4 830.3,1826.7 848.4,1821.8 867.3,1816.8 887.1,1811.5 908.1,1805.9 930.6,1799.9 955.1,1793.4 981.9,1786.2 1011.7,1778.3 1045.4,1769.3 1084.2,1759 1129.5,1747.1 1175.4,1747.1 1220.1,1750.2 1232.5,1751.6 1235.1,1751.9 1237.6,1752.3 1261.8,1756 1299.6,1763.8 1333.2,1772.8 1363.3,1782.2 1390.3,1791.7 1414.8,1801.1" fill="#18fc00"/>
<polygon points="1432.3,1811.7 1452.9,1820.5 1472.1,1829.1 1490.2,1837.5 1507.3,1845.8 1523.7,1854 1539.6,1862.1 1555,1870.2 1570,1878.3 1584.8,1886.6 1599.5,1894.9 1614.1,1903.5 1628.6,1912.4 1643.2,1921.6 1657.8,1931.2 1672.4,1941.3 1686.9,1951.9 1701.1,1963.3 1714.6,1975.3 1726.6,1988 1736.1,2001.4 1741,2015.2 1738.8,2028.8 1727.1,2040.8 1726.1,2041.5 1726,2041.5 1724.8,2042.3 1700.8,2052.1 1663.2,2060.1 1616.5,2065.3 1555.8,2065.4 1487.5,2060.9 1427.8,2057.1 1374.8,2053.6 1327.1,2050.5 1283.4,2047.7 1243,2045 1205.3,2042.6 1169.6,2040.3 1135.6,2038.1 1102.8,2035.9 1070.9,2033.9 1039.6,2031.8 1008.7,2029.8 977.8,2027.8 946.7,2025.8 915.1,2023.7 882.8,2021.6 849.3,2019.4 814.4,2017.2 777.7,2014.8 738.6,2012.2 696.5,2009.5 650.7,2006.5 600.1,2003.2 543.7,1999.5 479.5,1995.4 405.3,1990.5 330.9,1983.6 315.1,1976.5 313.9,1975.7 312.7,1974.9 307.8,1970.9 351.2,1954.4 406.8,1939.6 453.1,1927.2 492.4,1916.7 526.6,1907.6 556.8,1899.6 583.9,1892.4 608.6,1885.8 631.3,1879.7 652.4,1874.1 672.3,1868.8 691.3,1863.7 709.5,1858.9 727.2,1854.2 744.4,1849.6 761.5,1845 778.4,1840.5 795.4,1836 812.7,1831.4 830.3,1826.7 848.4,1821.8 867.3,1816.8 887.1,1811.5 908.1,1805.9 930.6,1799.9 955.1,1793.4 981.9,1786.2 1011.7,1778.3 1045.4,1769.3 1084.2,1759 1128.6,1750.1 1173.5,1750.2 1217.5,1753.2 1229.6,1754.6 1232.2,1754.9 1234.7,1755.2 1258.6,1758.8 1295.8,1766.4 1329.2,1775 1359,1784.2 1385.8,1793.5 1410.1,1802.7" fill="#26ff00"/>
<polygon points="1427.4,1813.1 1447.8,1821.8 1466.8,1830.2 1484.7,1838.5 1501.7,1846.7 1517.9,1854.7 1533.6,1862.7 1548.8,1870.7 1563.6,1878.8 1578.2,1886.9 1592.6,1895.2 1606.9,1903.7 1621.2,1912.4 1635.5,1921.5 1649.7,1931 1663.9,1940.9 1677.9,1951.4 1691.5,1962.5 1704.3,1974.3 1715.7,1986.8 1724.3,1999.8 1728.4,2013.3 1725.5,2026.5 1713.5,2038.2 1712.5,2038.8 1712.4,2038.9 1711.2,2039.6 1687.5,2049.2 1650.9,2057 1605.6,2062.2 1555.5,2065.3 1487.5,2060.9 1427.8,2057.1 1374.8,2053.6 1327.1,2050.5 1283.4,2047.7 1243,2045 1205.3,2042.6 1169.6,2040.3 1135.6,2038.1 1102.8,2035.9 1070.9,2033.9 1039.6,2031.8 1008.7,2029.8 977.8,2027.8 946.7,2025.8 915.1,2023.7 882.8,2021.6 849.3,2019.4 814.4,2017.2 777.7,2014.8 738.6,2012.2 696.5,2009.5 650.7,2006.5 600.1,2003.2 543.7,1999.5 479.5,1995.4 405.3,1990.5 347.8,1982.1 332.7,1975.1 331.4,1974.3 330.3,1973.5 325.6,1969.6 351.2,1954.4 406.8,1939.6 453.1,1927.2 492.4,1916.7 526.6,1907.6 556.8,1899.6 583.9,1892.4 608.6,1885.8 631.3,1879.7 652.4,1874.1 672.3,1868.8 691.3,1863.7 709.5,1858.9 727.2,1854.2 744.4,1849.6 761.5,1845 778.4,1840.5 795.4,1836 812.7,1831.4 830.3,1826.7 848.4,1821.8 867.3,1816.8 887.1,1811.5 908.1,1805.9 930.6,1799.9 955.1,1793.4 981.9,1786.2 1011.7,1778.3 1045.4,1769.3 1084.2,1759 1127.6,1753.1 1171.7,1753.3 1214.9,1756.2 1226.8,1757.5 1229.3,1757.8 1231.8,1758.1 1255.3,1761.6 1292.1,1768.9 1325.1,1777.3 1354.6,1786.2 1381.2,1795.3 1405.3,1804.3" fill="#48ff00"/>
<polygon points="1422.4,1814.6 1442.6,1823.1 1461.5,1831.4 1479.2,1839.6 1496,1847.6 1512.1,1855.5 1527.5,1863.4 1542.5,1871.3 1557.1,1879.3 1571.5,1887.3 1585.7,1895.5 1599.7,1903.8 1613.7,1912.4 1627.6,1921.4 1641.4,1930.7 1655.2,1940.5 1668.7,1950.8 1681.8,1961.7 1694,1973.3 1704.6,1985.5 1712.4,1998.3 1715.7,2011.3 1712.1,2024.2 1699.9,2035.5 1698.9,2036.1 1698.8,2036.2 1697.6,2036.9 1674.3,2046.3 1638.7,2054 1594.7,2059.2 1546.1,2062.3 1487.5,2060.9 1427.8,2057.1 1374.8,2053.6 1327.1,2050.5 1283.4,2047.7 1243,2045 1205.3,2042.6 1169.6,2040.3 1135.6,2038.1 1102.8,2035.9 1070.9,2033.9 1039.6,2031.8 1008.7,2029.8 977.8,2027.8 946.7,2025.8 915.1,2023.7 882.8,2021.6 849.3,2019.4 814.4,2017.2 777.7,2014.8 738.6,2012.2 696.5,2009.5 650.7,2006.5 600.1,2003.2 543.7,1999.5 479.5,1995.4 405.3,1990.5 364.5,1980.5 350,1973.7 348.8,1972.9 347.6,1972.2 343,1968.3 351.2,1954.4 406.8,1939.6 453.1,1927.2 492.4,1916.7 526.6,1907.6 556.8,1899.6 583.9,1892.4 608.6,1885.8 631.3,1879.7 652.4,1874.1 672.3,1868.8 691.3,1863.7 709.5,1858.9 727.2,1854.2 744.4,1849.6 761.5,1845 778.4,1840.5 795.4,1836 812.7,1831.4 830.3,1826.7 848.4,1821.8 867.3,1816.8 887.1,1811.5 908.1,1805.9 930.6,1799.9 955.1,1793.4 981.9,1786.2 1011.7,1778.3 1045.4,1769.3 1084.2,1759 1126.7,1756.2 1169.9,1756.4 1212.2,1759.2 1224,1760.5 1226.5,1760.8 1228.9,1761.1 1252,1764.4 1288.3,1771.4 1320.9,1779.6 1350.2,1788.3 1376.6,1797.1 1400.5,1805.9" fill="#6bff00"/>
<polygon points="1417.3,1816.1 1437.3,1824.4 1456,1832.6 1473.5,1840.6 1490.2,1848.5 1506.1,1856.4 1521.3,1864.1 1536.1,1871.9 1550.5,1879.7 1564.7,1887.7 1578.6,1895.7 1592.3,1904 1606,1912.5 1619.6,1921.3 1633.1,1930.5 1646.4,1940.1 1659.4,1950.3 1671.9,1961 1683.5,1972.3 1693.4,1984.3 1700.5,1996.7 1703,2009.4 1698.8,2021.9 1686.4,2032.9 1685.4,2033.5 1685.3,2033.6 1684.1,2034.2 1661.2,2043.4 1626.5,2050.9 1583.8,2056.2 1536.6,2059.4 1487.5,2060.9 1427.8,2057.1 1374.8,2053.6 1327.1,2050.5 1283.4,2047.7 1243,2045 1205.3,2042.6 1169.6,2040.3 1135.6,2038.1 1102.8,2035.9 1070.9,2033.9 1039.6,2031.8 1008.7,2029.8 977.8,2027.8 946.7,2025.8 915.1,2023.7 882.8,2021.6 849.3,2019.4 814.4,2017.2 777.7,2014.8 738.6,2012.2 696.5,2009.5 650.7,2006.5 600.1,2003.2 543.7,1999.5 479.5,1995.4 416.2,1989.3 381,1979 367.1,1972.3 365.9,1971.6 364.8,1970.8 360.3,1967 356.5,1954.1 406.8,1939.6 453.1,1927.2 492.4,1916.7 526.6,1907.6 556.8,1899.6 583.9,1892.4 608.6,1885.8 631.3,1879.7 652.4,1874.1 672.3,1868.8 691.3,1863.7 709.5,1858.9 727.2,1854.2 744.4,1849.6 761.5,1845 778.4,1840.5 795.4,1836 812.7,1831.4 830.3,1826.7 848.4,1821.8 867.3,1816.8 887.1,1811.5 908.1,1805.9 930.6,1799.9 955.1,1793.4 981.9,1786.2 1011.7,1778.3 1045.4,1769.3 1084.1,1761 1125.7,1759.2 1168.1,1759.5 1209.6,1762.2 1221.2,1763.4 1223.6,1763.7 1226,1764 1248.7,1767.2 1284.5,1774 1316.8,1781.9 1345.7,1790.3 1371.9,1798.9 1395.6,1807.6" fill="#8dff00"/>
<polygon points="1412.1,1817.6 1431.9,1825.7 1450.4,1833.8 1467.8,1841.7 1484.3,1849.5 1499.9,1857.2 1515,1864.9 1529.6,1872.5 1543.8,1880.2 1557.7,1888 1571.4,1896 1584.8,1904.1 1598.2,1912.5 1611.4,1921.2 1624.5,1930.2 1637.4,1939.7 1650,1949.7 1661.9,1960.2 1672.9,1971.3 1682.1,1983 1688.4,1995.1 1690.3,2007.5 1685.5,2019.6 1672.9,2030.3 1671.9,2030.9 1671.8,2030.9 1670.6,2031.6 1648,2040.5 1614.3,2047.9 1573,2053.1 1527.2,2056.4 1479.7,2058.2 1427.8,2057.1 1374.8,2053.6 1327.1,2050.5 1283.4,2047.7 1243,2045 1205.3,2042.6 1169.6,2040.3 1135.6,2038.1 1102.8,2035.9 1070.9,2033.9 1039.6,2031.8 1008.7,2029.8 977.8,2027.8 946.7,2025.8 915.1,2023.7 882.8,2021.6 849.3,2019.4 814.4,2017.2 777.7,2014.8 738.6,2012.2 696.5,2009.5 650.7,2006.5 600.1,2003.2 543.7,1999.5 479.5,1995.4 431,1987.6 397.4,1977.5 384,1970.9 382.8,1970.2 381.8,1969.5 377.3,1965.8 373.2,1953.2 406.8,1939.6 453.1,1927.2 492.4,1916.7 526.6,1907.6 556.8,1899.6 583.9,1892.4 608.6,1885.8 631.3,1879.7 652.4,1874.1 672.3,1868.8 691.3,1863.7 709.5,1858.9 727.2,1854.2 744.4,1849.6 761.5,1845 778.4,1840.5 795.4,1836 812.7,1831.4 830.3,1826.7 848.4,1821.8 867.3,1816.8 887.1,1811.5 908.1,1805.9 930.6,1799.9 955.1,1793.4 981.9,1786.2 1011.7,1778.3 1045.4,1769.3 1083.9,1763.9 1124.8,1762.2 1166.3,1762.5 1207,1765.2 1218.3,1766.4 1220.7,1766.7 1223.1,1767 1245.4,1770.1 1280.7,1776.6 1312.5,1784.2 1341.2,1792.4 1367.1,1800.8 1390.6,1809.2" fill="#b0ff00"/>
<polygon points="1406.8,1819.1 1426.4,1827.1 1444.8,1835 1461.9,1842.8 1478.2,1850.4 1493.7,1858 1508.6,1865.6 1523,1873.1 1536.9,1880.7 1550.6,1888.4 1564,1896.3 1577.2,1904.3 1590.2,1912.5 1603.1,1921.1 1615.8,1930 1628.3,1939.3 1640.4,1949.1 1651.8,1959.4 1662.1,1970.3 1670.6,1981.7 1676.3,1993.5 1677.5,2005.5 1672.2,2017.3 1659.4,2027.7 1658.4,2028.2 1658.3,2028.3 1657.1,2028.9 1634.9,2037.6 1602.1,2044.9 1562,2050.1 1517.7,2053.4 1471.5,2055.3 1425.4,2056.1 1374.8,2053.6 1327.1,2050.5 1283.4,2047.7 1243,2045 1205.3,2042.6 1169.6,2040.3 1135.6,2038.1 1102.8,2035.9 1070.9,2033.9 1039.6,2031.8 1008.7,2029.8 977.8,2027.8 946.7,2025.8 915.1,2023.7 882.8,2021.6 849.3,2019.4 814.4,2017.2 777.7,2014.8 738.6,2012.2 696.5,2009.5 650.7,2006.5 600.1,2003.2 543.7,1999.5 486.4,1994.4 445.8,1986 413.6,1976 400.7,1969.6 399.6,1968.8 398.6,1968.1 394.2,1964.6 389.7,1952.3 406.8,1939.6 453.1,1927.2 492.4,1916.7 526.6,1907.6 556.8,1899.6 583.9,1892.4 608.6,1885.8 631.3,1879.7 652.4,1874.1 672.3,1868.8 691.3,1863.7 709.5,1858.9 727.2,1854.2 744.4,1849.6 761.5,1845 778.4,1840.5 795.4,1836 812.7,1831.4 830.3,1826.7 848.4,1821.8 867.3,1816.8 887.1,1811.5 908.1,1805.9 930.6,1799.9 955.1,1793.4 981.9,1786.2 1011.7,1778.3 1045.5,1769.9 1083.8,1766.8 1123.8,1765.3 1164.5,1765.6 1204.3,1768.2 1215.5,1769.4 1217.8,1769.6 1220.1,1769.9 1242.1,1772.9 1276.8,1779.2 1308.3,1786.6 1336.6,1794.5 1362.2,1802.7 1385.5,1810.9" fill="#c8ff00"/>
<polygon points="1401.4,1820.6 1420.9,1828.5 1439,1836.3 1456,1843.9 1472,1851.4 1487.3,1858.9 1502,1866.3 1516.2,1873.8 1529.9,1881.3 1543.3,1888.8 1556.5,1896.5 1569.4,1904.4 1582.1,1912.6 1594.7,1921 1607,1929.7 1619.1,1938.9 1630.6,1948.5 1641.5,1958.6 1651.2,1969.2 1659.1,1980.4 1664,1991.9 1664.6,2003.6 1658.8,2015 1645.9,2025.1 1645,2025.6 1644.8,2025.7 1643.7,2026.3 1621.8,2034.7 1589.9,2041.9 1551.1,2047 1508.1,2050.4 1463.3,2052.3 1418.4,2053.2 1374.4,2053.4 1327.1,2050.5 1283.4,2047.7 1243,2045 1205.3,2042.6 1169.6,2040.3 1135.6,2038.1 1102.8,2035.9 1070.9,2033.9 1039.6,2031.8 1008.7,2029.8 977.8,2027.8 946.7,2025.8 915.1,2023.7 882.8,2021.6 849.3,2019.4 814.4,2017.2 777.7,2014.8 738.6,2012.2 696.5,2009.5 650.7,2006.5 600.1,2003.2 543.7,1999.5 499.5,1992.7 460.6,1984.3 429.7,1974.5 417.3,1968.2 416.2,1967.5 415.2,1966.8 411,1963.3 406.2,1951.4 413.6,1939.3 453.1,1927.2 492.4,1916.7 526.6,1907.6 556.8,1899.6 583.9,1892.4 608.6,1885.8 631.3,1879.7 652.4,1874.1 672.3,1868.8 691.3,1863.7 709.5,1858.9 727.2,1854.2 744.4,1849.6 761.5,1845 778.4,1840.5 795.4,1836 812.7,1831.4 830.3,1826.7 848.4,1821.8 867.3,1816.8 887.1,1811.5 908.1,1805.9 930.6,1799.9 955.1,1793.4 981.9,1786.2 1011.7,1778.3 1046.1,1772.7 1083.6,1769.8 1122.8,1768.3 1162.6,1768.7 1201.7,1771.3 1212.6,1772.4 1214.9,1772.6 1217.2,1772.9 1238.7,1775.8 1272.9,1781.9 1303.9,1789 1331.9,1796.7 1357.3,1804.7 1380.3,1812.7" fill="#dfff00"/>
<polygon points="1395.9,1822.2 1415.2,1829.9 1433.1,1837.5 1449.9,1845 1465.7,1852.4 1480.8,1859.8 1495.3,1867.1 1509.3,1874.4 1522.8,1881.8 1535.9,1889.2 1548.8,1896.8 1561.4,1904.6 1573.9,1912.6 1586.1,1920.9 1598,1929.5 1609.6,1938.5 1620.7,1947.9 1631.1,1957.8 1640.2,1968.2 1647.4,1979 1651.7,1990.3 1651.6,2001.6 1645.4,2012.7 1632.5,2022.4 1631.5,2023 1631.4,2023 1630.2,2023.6 1608.8,2031.8 1577.7,2038.8 1540.1,2043.9 1498.5,2047.3 1455,2049.4 1411.4,2050.4 1368.5,2050.7 1326.8,2050.4 1283.4,2047.7 1243,2045 1205.3,2042.6 1169.6,2040.3 1135.6,2038.1 1102.8,2035.9 1070.9,2033.9 1039.6,2031.8 1008.7,2029.8 977.8,2027.8 946.7,2025.8 915.1,2023.7 882.8,2021.6 849.3,2019.4 814.4,2017.2 777.7,2014.8 738.6,2012.2 696.5,2009.5 650.7,2006.5 600.1,2003.2 554,1997.9 512.6,1990.9 475.3,1982.6 445.8,1973 433.8,1966.9 432.8,1966.2 431.8,1965.5 427.7,1962.1 422.6,1950.5 429,1938.7 453.1,1927.2 492.4,1916.7 526.6,1907.6 556.8,1899.6 583.9,1892.4 608.6,1885.8 631.3,1879.7 652.4,1874.1 672.3,1868.8 691.3,1863.7 709.5,1858.9 727.2,1854.2 744.4,1849.6 761.5,1845 778.4,1840.5 795.4,1836 812.7,1831.4 830.3,1826.7 848.4,1821.8 867.3,1816.8 887.1,1811.5 908.1,1805.9 930.6,1799.9 955.1,1793.4 981.9,1786.2 1012.1,1779.1 1046.7,1775.5 1083.5,1772.7 1121.8,1771.4 1160.8,1771.9 1199,1774.3 1209.7,1775.4 1212,1775.6 1214.2,1775.9 1235.4,1778.7 1268.9,1784.5 1299.5,1791.4 1327.2,1798.9 1352.2,1806.6 1375,1814.4" fill="#f7ff00"/>
<polygon points="1390.3,1823.9 1409.3,1831.4 1427,1838.8 1443.6,1846.2 1459.3,1853.4 1474.2,1860.7 1488.5,1867.9 1502.2,1875.1 1515.4,1882.3 1528.4,1889.7 1541,1897.1 1553.3,1904.8 1565.4,1912.6 1577.3,1920.8 1588.8,1929.2 1600,1938 1610.6,1947.3 1620.4,1957 1629,1967.1 1635.5,1977.7 1639.2,1988.6 1638.5,1999.6 1632,2010.4 1619,2019.8 1618,2020.3 1617.9,2020.4 1616.7,2021 1595.7,2028.9 1565.5,2035.8 1529.1,2040.9 1488.8,2044.3 1446.7,2046.4 1404.3,2047.5 1362.5,2047.9 1321.8,2047.7 1282.5,2047.1 1243,2045 1205.3,2042.6 1169.6,2040.3 1135.6,2038.1 1102.8,2035.9 1070.9,2033.9 1039.6,2031.8 1008.7,2029.8 977.8,2027.8 946.7,2025.8 915.1,2023.7 882.8,2021.6 849.3,2019.4 814.4,2017.2 777.7,2014.8 738.6,2012.2 696.5,2009.5 650.7,2006.5 606.9,2002 565.6,1996 525.9,1989.1 490.1,1980.9 461.8,1971.5 450.2,1965.5 449.2,1964.9 448.3,1964.2 444.3,1960.9 438.9,1949.6 444.5,1938.2 458,1927.1 492.4,1916.7 526.6,1907.6 556.8,1899.6 583.9,1892.4 608.6,1885.8 631.3,1879.7 652.4,1874.1 672.3,1868.8 691.3,1863.7 709.5,1858.9 727.2,1854.2 744.4,1849.6 761.5,1845 778.4,1840.5 795.4,1836 812.7,1831.4 830.3,1826.7 848.4,1821.8 867.3,1816.8 887.1,1811.5 908.1,1805.9 930.6,1799.9 955.1,1793.4 981.9,1786.2 1013.4,1781.8 1047.4,1778.3 1083.4,1775.7 1120.9,1774.5 1158.9,1775 1196.3,1777.4 1206.8,1778.4 1209,1778.7 1211.2,1778.9 1232,1781.6 1265,1787.2 1295.1,1793.9 1322.4,1801.1 1347.1,1808.6 1369.6,1816.3" fill="#ffef00"/>
<polygon points="1384.6,1825.5 1403.4,1832.9 1420.9,1840.2 1437.3,1847.4 1452.7,1854.5 1467.4,1861.6 1481.4,1868.7 1494.9,1875.7 1508,1882.9 1520.6,1890.1 1533,1897.4 1545,1904.9 1556.8,1912.7 1568.3,1920.6 1579.5,1928.9 1590.2,1937.6 1600.4,1946.6 1609.6,1956.1 1617.6,1966 1623.5,1976.4 1626.6,1987 1625.4,1997.6 1618.5,2008 1605.4,2017.2 1604.5,2017.7 1604.3,2017.7 1603.2,2018.3 1582.6,2026 1553.3,2032.8 1518.1,2037.8 1479.1,2041.2 1438.3,2043.4 1397.1,2044.6 1356.4,2045 1316.8,2044.9 1278.4,2044.5 1241.3,2043.7 1205.3,2042.6 1169.6,2040.3 1135.6,2038.1 1102.8,2035.9 1070.9,2033.9 1039.6,2031.8 1008.7,2029.8 977.8,2027.8 946.7,2025.8 915.1,2023.7 882.8,2021.6 849.3,2019.4 814.4,2017.2 777.7,2014.8 738.6,2012.2 696.5,2009.5 657.2,2005.1 617.2,2000 577.4,1994.2 539.1,1987.3 504.9,1979.3 477.8,1970 466.6,1964.2 465.7,1963.5 464.7,1962.9 460.8,1959.7 455.3,1948.7 460,1937.6 472.4,1926.8 492.4,1916.7 526.6,1907.6 556.8,1899.6 583.9,1892.4 608.6,1885.8 631.3,1879.7 652.4,1874.1 672.3,1868.8 691.3,1863.7 709.5,1858.9 727.2,1854.2 744.4,1849.6 761.5,1845 778.4,1840.5 795.4,1836 812.7,1831.4 830.3,1826.7 848.4,1821.8 867.3,1816.8 887.1,1811.5 908.1,1805.9 930.6,1799.9 955.1,1793.4 983.4,1788.3 1014.6,1784.4 1048,1781.2 1083.2,1778.8 1119.9,1777.6 1157.1,1778.2 1193.6,1780.5 1203.9,1781.5 1206,1781.7 1208.2,1782 1228.5,1784.5 1260.9,1790 1290.6,1796.4 1317.5,1803.4 1341.9,1810.7 1364.2,1818.1" fill="#ffd800"/>
<polygon points="1378.7,1827.2 1397.3,1834.4 1414.6,1841.5 1430.8,1848.6 1446,1855.6 1460.5,1862.5 1474.3,1869.5 1487.5,1876.4 1500.3,1883.4 1512.7,1890.5 1524.8,1897.7 1536.5,1905.1 1548,1912.7 1559.1,1920.5 1569.9,1928.7 1580.2,1937.1 1589.9,1946 1598.6,1955.3 1606,1964.9 1611.4,1975 1613.8,1985.3 1612.1,1995.6 1604.9,2005.7 1591.8,2014.5 1590.9,2015 1590.8,2015.1 1589.7,2015.6 1569.5,2023.1 1541,2029.7 1507,2034.7 1469.3,2038.1 1429.7,2040.4 1389.8,2041.6 1350.2,2042.2 1311.7,2042.1 1274.2,2041.7 1238,2041 1202.8,2040.1 1168.7,2039 1135.5,2037.8 1102.8,2035.9 1070.9,2033.9 1039.6,2031.8 1008.7,2029.8 977.8,2027.8 946.7,2025.8 915.1,2023.7 882.8,2021.6 849.3,2019.4 814.4,2017.2 777.7,2014.8 741.6,2011.3 704.5,2007.5 666.3,2003.1 627.7,1998.1 589.2,1992.3 552.5,1985.5 519.7,1977.6 493.7,1968.5 483,1962.9 482,1962.2 481.1,1961.6 477.3,1958.5 471.6,1947.8 475.6,1937 487,1926.5 503,1916.7 526.6,1907.6 556.8,1899.6 583.9,1892.4 608.6,1885.8 631.3,1879.7 652.4,1874.1 672.3,1868.8 691.3,1863.7 709.5,1858.9 727.2,1854.2 744.4,1849.6 761.5,1845 778.4,1840.5 795.4,1836 812.7,1831.4 830.3,1826.7 848.4,1821.8 867.3,1816.8 887.1,1811.5 908.1,1805.9 930.6,1799.9 956.6,1794.9 985.3,1790.9 1016,1787.2 1048.6,1784.1 1083.1,1781.8 1118.9,1780.8 1155.2,1781.4 1190.9,1783.6 1200.9,1784.6 1203,1784.8 1205.1,1785 1225,1787.5 1256.8,1792.7 1286,1798.9 1312.5,1805.7 1336.6,1812.8 1358.6,1820" fill="#ffc000"/>
<polygon points="1372.7,1828.9 1391.1,1835.9 1408.1,1842.9 1424.1,1849.8 1439.1,1856.7 1453.3,1863.5 1466.9,1870.3 1479.9,1877.1 1492.5,1884 1504.6,1891 1516.4,1898 1527.8,1905.3 1539,1912.7 1549.7,1920.4 1560.1,1928.4 1570,1936.7 1579.2,1945.3 1587.4,1954.4 1594.2,1963.8 1599,1973.6 1600.9,1983.6 1598.7,1993.6 1591.2,2003.3 1578.2,2011.9 1577.3,2012.4 1577.1,2012.4 1576,2012.9 1556.3,2020.2 1528.7,2026.7 1495.8,2031.6 1459.4,2035 1421.1,2037.3 1382.4,2038.6 1344,2039.2 1306.4,2039.3 1269.9,2039 1234.5,2038.4 1200.2,2037.5 1166.8,2036.5 1134.3,2035.3 1102.4,2033.9 1071,2032.5 1039.9,2030.9 1009.1,2029.2 978.2,2027.3 947.1,2025.4 915.8,2023.3 883.9,2021 851.5,2018.4 818.2,2015.7 784,2012.7 748.8,2009.3 712.7,2005.4 675.7,2001.1 638.3,1996.1 601.2,1990.4 565.9,1983.7 534.5,1975.9 509.7,1967.1 499.3,1961.5 498.4,1960.9 497.6,1960.3 493.8,1957.3 487.9,1946.9 491.3,1936.4 501.6,1926.2 516.6,1916.7 534.3,1907.7 556.8,1899.6 583.9,1892.4 608.6,1885.8 631.3,1879.7 652.4,1874.1 672.3,1868.8 691.3,1863.7 709.5,1858.9 727.2,1854.2 744.4,1849.6 761.5,1845 778.4,1840.5 795.4,1836 812.7,1831.4 830.3,1826.7 848.4,1821.8 867.3,1816.8 887.1,1811.5 908.1,1805.9 932.7,1801.5 959.1,1797.4 987.2,1793.5 1017.3,1790 1049.2,1787 1082.9,1784.9 1117.9,1784 1153.3,1784.6 1188.2,1786.8 1198,1787.7 1200,1787.9 1202.1,1788.1 1221.5,1790.5 1252.7,1795.5 1281.3,1801.5 1307.4,1808 1331.2,1814.9 1352.9,1821.9" fill="#ffa700"/>
<polygon points="1366.6,1830.7 1384.7,1837.5 1401.5,1844.3 1417.2,1851.1 1432,1857.8 1446,1864.5 1459.4,1871.2 1472.2,1877.9 1484.4,1884.6 1496.3,1891.4 1507.8,1898.4 1518.9,1905.5 1529.7,1912.8 1540.1,1920.3 1550.1,1928.1 1559.6,1936.2 1568.3,1944.7 1576,1953.5 1582.3,1962.7 1586.5,1972.2 1587.8,1981.9 1585.2,1991.6 1577.5,2001 1564.5,2009.2 1563.6,2009.7 1563.4,2009.7 1562.4,2010.2 1543,2017.3 1516.3,2023.6 1484.5,2028.4 1449.3,2031.9 1412.4,2034.2 1374.9,2035.6 1337.6,2036.3 1301.1,2036.4 1265.6,2036.2 1231,2035.6 1197.5,2034.8 1164.9,2033.9 1133.1,2032.7 1101.8,2031.4 1071.1,2030 1040.7,2028.5 1010.5,2026.8 980.2,2025 949.8,2023.1 919.1,2021 888,2018.7 856.2,2016.2 823.7,2013.5 790.4,2010.5 756.1,2007.1 721,2003.4 685.2,1999.1 649,1994.1 613.3,1988.4 579.5,1981.8 549.4,1974.2 525.6,1965.6 515.7,1960.2 514.8,1959.6 514,1959 510.3,1956 504.3,1946 507,1935.8 516.4,1925.9 530.4,1916.6 547.1,1907.9 565.2,1899.8 584.1,1892.4 608.6,1885.8 631.3,1879.7 652.4,1874.1 672.3,1868.8 691.3,1863.7 709.5,1858.9 727.2,1854.2 744.4,1849.6 761.5,1845 778.4,1840.5 795.4,1836 812.7,1831.4 830.3,1826.7 848.4,1821.8 867.3,1816.8 888.3,1812.2 911.3,1808 935.7,1803.9 961.6,1799.9 989.2,1796.2 1018.6,1792.8 1049.9,1790 1082.8,1788.1 1116.9,1787.2 1151.4,1787.8 1185.4,1790 1194.9,1790.8 1197,1791 1199,1791.3 1218,1793.5 1248.5,1798.4 1276.6,1804.1 1302.2,1810.4 1325.6,1817 1347,1823.8" fill="#ff8a00"/>
<polygon points="1360.4,1832.5 1378.2,1839.2 1394.8,1845.8 1410.2,1852.4 1424.8,1859 1438.5,1865.5 1451.6,1872 1464.2,1878.6 1476.2,1885.2 1487.8,1891.9 1499,1898.7 1509.8,1905.7 1520.2,1912.8 1530.3,1920.2 1539.9,1927.8 1548.9,1935.7 1557.2,1944 1564.4,1952.6 1570.1,1961.5 1573.8,1970.7 1574.6,1980.1 1571.5,1989.5 1563.6,1998.6 1550.7,2006.6 1549.8,2007 1549.6,2007 1548.6,2007.5 1529.7,2014.4 1503.8,2020.5 1473.1,2025.2 1439.2,2028.7 1403.6,2031 1367.3,2032.5 1331.2,2033.3 1295.7,2033.5 1261.1,2033.3 1227.5,2032.8 1194.8,2032.1 1162.9,2031.2 1131.8,2030.1 1101.3,2028.9 1071.2,2027.5 1041.5,2026 1011.9,2024.4 982.3,2022.6 952.6,2020.7 922.6,2018.7 892.1,2016.4 861.1,2014 829.4,2011.3 796.9,2008.3 763.6,2005 729.5,2001.2 694.8,1997 659.9,1992.1 625.6,1986.5 593.1,1980 564.4,1972.5 541.7,1964.1 532.1,1958.9 531.3,1958.3 530.4,1957.7 526.9,1954.8 520.8,1945.1 522.9,1935.2 531.4,1925.6 544.4,1916.5 560.1,1908 577.3,1900.2 595.3,1892.9 613.6,1886.1 631.9,1879.8 652.4,1874.1 672.3,1868.8 691.3,1863.7 709.5,1858.9 727.2,1854.2 744.4,1849.6 761.5,1845 778.4,1840.5 795.4,1836 812.7,1831.4 830.4,1826.7 850.2,1822.5 870.7,1818.4 892.2,1814.3 914.9,1810.3 938.8,1806.3 964.2,1802.5 991.2,1798.9 1020,1795.7 1050.5,1793.1 1082.6,1791.2 1115.8,1790.5 1149.4,1791.1 1182.6,1793.2 1191.9,1794 1193.8,1794.2 1195.8,1794.4 1214.4,1796.6 1244.2,1801.3 1271.8,1806.8 1297,1812.8 1320,1819.3 1341,1825.8" fill="#ff6c00"/>
<polygon points="1353.9,1834.4 1371.5,1840.8 1387.8,1847.3 1403,1853.7 1417.3,1860.1 1430.8,1866.5 1443.7,1872.9 1456,1879.4 1467.7,1885.8 1479,1892.4 1489.9,1899 1500.4,1905.8 1510.5,1912.8 1520.2,1920 1529.4,1927.5 1538,1935.2 1545.8,1943.3 1552.5,1951.7 1557.7,1960.3 1560.8,1969.3 1561.1,1978.3 1557.7,1987.4 1549.6,1996.1 1536.7,2003.9 1535.9,2004.3 1535.7,2004.3 1534.7,2004.8 1516.3,2011.4 1491.2,2017.4 1461.7,2022 1429,2025.5 1394.6,2027.8 1359.6,2029.4 1324.6,2030.2 1290.2,2030.5 1256.6,2030.4 1223.8,2030 1192,2029.3 1160.9,2028.5 1130.5,2027.4 1100.7,2026.2 1071.4,2024.9 1042.3,2023.5 1013.3,2021.9 984.4,2020.2 955.4,2018.3 926.1,2016.3 896.4,2014.1 866.1,2011.7 835.2,2009 803.6,2006.1 771.2,2002.8 738.2,1999.1 704.6,1994.9 671,1990 638,1984.5 607,1978.1 579.5,1970.8 557.8,1962.6 548.6,1957.5 547.8,1957 547,1956.4 543.5,1953.6 537.4,1944.2 538.9,1934.6 546.6,1925.3 558.5,1916.5 573.3,1908.2 589.6,1900.5 606.8,1893.4 624.3,1886.7 642,1880.6 659.5,1874.8 677,1869.3 694.3,1864.1 711.6,1859.2 728.8,1854.4 746,1849.9 763.4,1845.4 780.9,1841.1 798.7,1836.9 816.9,1832.7 835.7,1828.6 855.1,1824.5 875.2,1820.5 896.3,1816.5 918.5,1812.6 941.9,1808.8 966.8,1805.1 993.3,1801.7 1021.4,1798.7 1051.2,1796.2 1082.5,1794.5 1114.8,1793.8 1147.5,1794.5 1179.7,1796.4 1188.8,1797.3 1190.7,1797.5 1192.6,1797.7 1210.7,1799.8 1239.9,1804.2 1266.8,1809.5 1291.6,1815.3 1314.2,1821.5 1334.9,1827.9" fill="#ff5500"/>
<polygon points="1347.3,1836.3 1364.6,1842.6 1380.6,1848.9 1395.6,1855.1 1409.7,1861.4 1422.9,1867.6 1435.5,1873.9 1447.5,1880.1 1459,1886.5 1470,1892.9 1480.6,1899.4 1490.8,1906 1500.5,1912.9 1509.8,1919.9 1518.6,1927.2 1526.8,1934.7 1534.1,1942.6 1540.3,1950.7 1545,1959.1 1547.6,1967.8 1547.5,1976.5 1543.7,1985.3 1535.4,1993.7 1522.7,2001.1 1521.8,2001.5 1521.7,2001.6 1520.7,2002 1502.8,2008.4 1478.5,2014.2 1450.1,2018.8 1418.7,2022.2 1385.5,2024.6 1351.7,2026.2 1317.9,2027.1 1284.6,2027.4 1251.9,2027.4 1220.1,2027.1 1189.1,2026.5 1158.8,2025.7 1129.2,2024.7 1100.2,2023.6 1071.5,2022.3 1043.1,2020.9 1014.8,2019.4 986.6,2017.7 958.3,2015.9 929.7,2013.9 900.7,2011.7 871.2,2009.3 841.2,2006.7 810.4,2003.8 779,2000.5 747,1996.9 714.6,1992.7 682.2,1987.9 650.6,1982.5 620.9,1976.2 594.8,1969.1 574,1961.1 565.1,1956.2 564.3,1955.6 563.6,1955.1 560.2,1952.4 554,1943.2 555.1,1934 561.9,1925 573,1916.4 586.8,1908.4 602.2,1900.9 618.6,1893.9 635.4,1887.4 652.3,1881.4 669.3,1875.7 686.2,1870.3 703,1865.3 719.8,1860.4 736.5,1855.8 753.4,1851.3 770.3,1847 787.4,1842.7 804.9,1838.6 822.7,1834.5 841.1,1830.5 860.1,1826.6 879.8,1822.7 900.5,1818.8 922.2,1815 945.2,1811.3 969.5,1807.8 995.4,1804.6 1022.9,1801.7 1051.9,1799.3 1082.3,1797.8 1113.7,1797.2 1145.5,1797.8 1176.8,1799.8 1185.7,1800.6 1187.5,1800.7 1189.4,1800.9 1207,1802.9 1235.4,1807.2 1261.8,1812.2 1286.1,1817.9 1308.3,1823.8 1328.6,1830" fill="#ff4300"/>
<polygon points="1340.6,1838.2 1357.5,1844.3 1373.3,1850.4 1388,1856.5 1401.7,1862.6 1414.7,1868.7 1427.1,1874.8 1438.8,1880.9 1450,1887.1 1460.7,1893.4 1471,1899.7 1480.8,1906.2 1490.3,1912.9 1499.2,1919.8 1507.6,1926.9 1515.3,1934.2 1522.1,1941.8 1527.8,1949.7 1532,1957.9 1534.2,1966.2 1533.6,1974.7 1529.5,1983.1 1521.1,1991.2 1508.5,1998.4 1507.7,1998.8 1507.6,1998.8 1506.6,1999.2 1489.1,2005.4 1465.7,2011 1438.4,2015.5 1408.2,2018.9 1376.3,2021.3 1343.7,2022.9 1311.1,2023.9 1278.8,2024.3 1247.2,2024.4 1216.3,2024.1 1186.2,2023.5 1156.7,2022.8 1127.9,2021.9 1099.6,2020.8 1071.6,2019.6 1043.9,2018.2 1016.4,2016.7 988.9,2015.1 961.2,2013.3 933.4,2011.4 905.1,2009.2 876.5,2006.9 847.3,2004.3 817.4,2001.4 787,1998.2 756.1,1994.6 724.9,1990.5 693.7,1985.8 663.4,1980.4 635.1,1974.3 610.2,1967.3 590.3,1959.6 581.8,1954.8 581,1954.3 580.3,1953.8 577,1951.2 570.8,1942.3 571.4,1933.4 577.5,1924.7 587.6,1916.4 600.5,1908.6 615.1,1901.3 630.6,1894.5 646.7,1888.1 663,1882.2 679.3,1876.6 695.7,1871.4 712,1866.4 728.2,1861.7 744.6,1857.2 760.9,1852.8 777.5,1848.5 794.2,1844.4 811.2,1840.4 828.7,1836.4 846.7,1832.5 865.2,1828.7 884.6,1824.9 904.8,1821.1 926.1,1817.5 948.5,1814 972.3,1810.6 997.6,1807.5 1024.3,1804.7 1052.6,1802.6 1082.1,1801.1 1112.6,1800.6 1143.4,1801.3 1173.9,1803.1 1182.5,1803.9 1184.3,1804.1 1186.1,1804.2 1203.2,1806.2 1230.9,1810.2 1256.7,1815.1 1280.4,1820.5 1302.2,1826.2 1322.2,1832.2" fill="#ff3000"/>
<polygon points="1333.6,1840.2 1350.2,1846.2 1365.7,1852.1 1380.1,1858 1393.6,1863.9 1406.3,1869.9 1418.4,1875.8 1429.8,1881.8 1440.7,1887.8 1451.1,1893.9 1461.1,1900.1 1470.6,1906.5 1479.7,1913 1488.2,1919.6 1496.2,1926.5 1503.5,1933.7 1509.9,1941.1 1515.1,1948.7 1518.8,1956.6 1520.4,1964.7 1519.4,1972.8 1515,1980.9 1506.5,1988.7 1494.2,1995.6 1493.4,1996 1493.2,1996 1492.3,1996.4 1475.3,2002.4 1452.8,2007.8 1426.5,2012.2 1397.5,2015.5 1366.9,2018 1335.5,2019.6 1304.1,2020.6 1272.9,2021.1 1242.3,2021.2 1212.4,2021 1183.2,2020.5 1154.6,2019.9 1126.5,2019 1099,2018 1071.7,2016.8 1044.8,2015.5 1018,2014.1 991.2,2012.5 964.3,2010.7 937.2,2008.8 909.7,2006.7 881.9,2004.4 853.5,2001.9 824.6,1999 795.2,1995.9 765.4,1992.3 735.3,1988.2 705.4,1983.6 676.5,1978.4 649.4,1972.4 625.7,1965.6 606.8,1958.1 598.6,1953.4 597.9,1952.9 597.2,1952.4 594,1949.9 587.8,1941.4 588,1932.8 593.3,1924.4 602.6,1916.3 614.6,1908.7 628.3,1901.6 643,1895 658.3,1888.8 673.9,1883.1 689.6,1877.6 705.4,1872.5 721.2,1867.7 737,1863 752.8,1858.6 768.8,1854.3 784.9,1850.2 801.2,1846.1 817.8,1842.2 834.9,1838.3 852.4,1834.6 870.6,1830.8 889.5,1827.2 909.2,1823.6 930,1820 952,1816.6 975.2,1813.4 999.8,1810.5 1025.8,1807.9 1053.3,1805.8 1082,1804.5 1111.5,1804.1 1141.4,1804.8 1170.9,1806.6 1179.2,1807.3 1181,1807.5 1182.7,1807.6 1199.4,1809.5 1226.3,1813.3 1251.5,1818 1274.7,1823.1 1296,1828.7 1315.6,1834.4" fill="#ff1e00"/>
<polygon points="1326.4,1842.3 1342.7,1848 1357.8,1853.8 1371.9,1859.5 1385.2,1865.3 1397.6,1871 1409.4,1876.8 1420.5,1882.6 1431.1,1888.5 1441.2,1894.5 1450.9,1900.5 1460,1906.7 1468.7,1913 1476.9,1919.5 1484.5,1926.2 1491.3,1933.1 1497.2,1940.3 1502,1947.7 1505.2,1955.3 1506.4,1963.1 1505,1970.9 1500.4,1978.7 1491.8,1986.2 1479.7,1992.8 1478.8,1993.1 1478.7,1993.2 1477.8,1993.6 1461.4,1999.3 1439.6,2004.6 1414.4,2008.8 1386.7,2012.1 1357.3,2014.5 1327.2,2016.2 1296.9,2017.3 1266.9,2017.8 1237.4,2018 1208.4,2017.9 1180.1,2017.5 1152.3,2016.8 1125.1,2016 1098.3,2015.1 1071.9,2013.9 1045.7,2012.7 1019.6,2011.3 993.6,2009.7 967.4,2008 941.1,2006.2 914.4,2004.1 887.4,2001.9 860,1999.3 832,1996.6 803.6,1993.4 774.9,1989.9 746,1985.9 717.4,1981.4 689.7,1976.2 664,1970.4 641.5,1963.8 623.5,1956.5 615.6,1952 614.9,1951.6 614.2,1951.1 611.1,1948.6 605,1940.4 604.7,1932.2 609.4,1924 617.9,1916.3 629,1908.9 641.8,1902 655.8,1895.6 670.3,1889.6 685.2,1883.9 700.3,1878.6 715.5,1873.7 730.7,1868.9 746,1864.4 761.4,1860.1 776.9,1855.9 792.5,1851.9 808.4,1847.9 824.6,1844.1 841.2,1840.4 858.4,1836.7 876.1,1833.1 894.5,1829.5 913.8,1826 934.1,1822.7 955.5,1819.4 978.1,1816.4 1002.1,1813.6 1027.4,1811.1 1054,1809.2 1081.8,1808 1110.4,1807.7 1139.3,1808.3 1167.8,1810.1 1175.9,1810.7 1177.6,1810.9 1179.3,1811.1 1195.5,1812.8 1221.6,1816.5 1246.1,1820.9 1268.7,1825.9 1289.6,1831.2 1308.7,1836.7" fill="#ff1000"/>
<polygon points="1319,1844.5 1334.9,1850 1349.7,1855.5 1363.5,1861.1 1376.4,1866.7 1388.6,1872.3 1400,1877.9 1410.9,1883.5 1421.2,1889.2 1431,1895 1440.3,1900.9 1449.1,1906.9 1457.4,1913 1465.2,1919.4 1472.4,1925.9 1478.8,1932.6 1484.2,1939.5 1488.5,1946.7 1491.3,1954 1492,1961.5 1490.3,1969 1485.4,1976.4 1476.8,1983.6 1464.9,1989.9 1464.1,1990.2 1464,1990.3 1463.1,1990.7 1447.2,1996.2 1426.3,2001.3 1402.2,2005.4 1375.6,2008.7 1347.5,2011.1 1318.7,2012.8 1289.6,2013.9 1260.7,2014.5 1232.2,2014.7 1204.3,2014.6 1176.9,2014.3 1150,2013.7 1123.6,2013 1097.7,2012.1 1072,2011 1046.6,2009.8 1021.3,2008.4 996,2006.9 970.6,2005.3 945.1,2003.4 919.3,2001.4 893.1,1999.2 866.6,1996.7 839.6,1994 812.3,1990.9 784.6,1987.5 756.9,1983.6 729.6,1979.1 703.3,1974.1 678.8,1968.4 657.4,1962 640.3,1954.9 632.8,1950.6 632.2,1950.2 631.5,1949.7 628.5,1947.4 622.4,1939.5 621.8,1931.5 625.9,1923.7 633.5,1916.2 643.8,1909.1 655.8,1902.4 668.9,1896.2 682.7,1890.3 696.9,1884.8 711.3,1879.7 725.9,1874.8 740.6,1870.2 755.4,1865.8 770.2,1861.6 785.2,1857.5 800.4,1853.6 815.9,1849.8 831.7,1846.1 847.8,1842.4 864.5,1838.9 881.8,1835.4 899.8,1832 918.6,1828.6 938.3,1825.4 959.1,1822.3 981.1,1819.4 1004.4,1816.7 1029,1814.5 1054.8,1812.7 1081.6,1811.6 1109.3,1811.3 1137.1,1812 1164.7,1813.6 1172.5,1814.3 1174.2,1814.4 1175.8,1814.6 1191.4,1816.3 1216.8,1819.8 1240.6,1824 1262.6,1828.7 1283,1833.7 1301.7,1839" fill="#ff0200"/>
<polygon points="1311.3,1846.7 1326.8,1852 1341.3,1857.4 1354.8,1862.7 1367.4,1868.1 1379.2,1873.5 1390.4,1879 1400.9,1884.5 1410.9,1890 1420.3,1895.6 1429.3,1901.3 1437.8,1907.1 1445.7,1913.1 1453.1,1919.2 1459.8,1925.5 1465.8,1932 1470.8,1938.7 1474.6,1945.6 1476.9,1952.6 1477.3,1959.8 1475.2,1967 1470.1,1974.1 1461.5,1981 1449.9,1987 1449.1,1987.3 1449,1987.4 1448.1,1987.7 1432.8,1993 1412.8,1997.9 1389.7,2001.9 1364.4,2005.1 1337.6,2007.5 1310,2009.2 1282.1,2010.4 1254.4,2011 1227,2011.3 1200,2011.3 1173.6,2011 1147.6,2010.5 1122.1,2009.8 1097,2009 1072.2,2007.9 1047.5,2006.8 1023,2005.5 998.5,2004 974,2002.4 949.3,2000.6 924.3,1998.7 899,1996.5 873.4,1994.1 847.5,1991.4 821.2,1988.4 794.6,1985 768.2,1981.1 742.1,1976.8 717.1,1971.9 693.9,1966.3 673.7,1960.1 657.5,1953.4 650.3,1949.2 649.7,1948.8 649,1948.3 646.1,1946.1 640.1,1938.5 639.2,1930.9 642.6,1923.4 649.5,1916.1 658.9,1909.3 670.1,1902.8 682.4,1896.8 695.4,1891.1 709,1885.8 722.8,1880.8 736.7,1876.1 750.8,1871.6 765.1,1867.3 779.4,1863.2 793.9,1859.2 808.7,1855.4 823.7,1851.7 839,1848.1 854.7,1844.6 870.9,1841.2 887.7,1837.8 905.2,1834.5 923.5,1831.3 942.7,1828.2 962.9,1825.2 984.3,1822.5 1006.8,1820 1030.6,1817.9 1055.5,1816.2 1081.5,1815.2 1108.1,1815 1135,1815.7 1161.5,1817.3 1169.1,1817.9 1170.6,1818 1172.2,1818.2 1187.3,1819.8 1211.9,1823.1 1234.9,1827.1 1256.3,1831.6 1276.1,1836.4 1294.4,1841.5" fill="#f70000"/>
<polygon points="1303.3,1849 1318.5,1854.1 1332.6,1859.2 1345.7,1864.4 1358,1869.6 1369.5,1874.9 1380.3,1880.1 1390.5,1885.4 1400.2,1890.8 1409.3,1896.2 1417.9,1901.7 1426,1907.4 1433.6,1913.1 1440.5,1919 1446.9,1925.1 1452.4,1931.4 1457,1937.8 1460.3,1944.5 1462.2,1951.2 1462.1,1958.1 1459.7,1965 1454.5,1971.8 1446,1978.3 1434.6,1984 1433.9,1984.3 1433.8,1984.4 1432.9,1984.7 1418.1,1989.8 1399,1994.5 1377,1998.4 1352.9,2001.5 1327.3,2003.9 1301,2005.6 1274.4,2006.8 1247.8,2007.5 1221.5,2007.8 1195.6,2007.8 1170.2,2007.6 1145.2,2007.2 1120.6,2006.5 1096.3,2005.7 1072.3,2004.8 1048.5,2003.7 1024.8,2002.4 1001.2,2001 977.4,1999.4 953.6,1997.7 929.5,1995.8 905.2,1993.7 880.5,1991.3 855.6,1988.7 830.3,1985.7 805,1982.4 779.7,1978.6 755,1974.4 731.3,1969.6 709.4,1964.2 690.2,1958.3 674.9,1951.7 668.1,1947.8 667.4,1947.3 666.8,1946.9 664.1,1944.8 658.1,1937.5 656.9,1930.2 659.8,1923 665.9,1916.1 674.5,1909.5 684.9,1903.3 696.4,1897.4 708.7,1891.9 721.5,1886.8 734.6,1881.9 748,1877.3 761.5,1873 775.2,1868.8 789,1864.8 803,1861 817.3,1857.3 831.8,1853.7 846.6,1850.2 861.8,1846.8 877.6,1843.5 893.9,1840.3 910.9,1837.1 928.6,1834.1 947.2,1831.1 966.8,1828.3 987.5,1825.7 1009.3,1823.4 1032.3,1821.4 1056.3,1819.9 1081.3,1819 1106.9,1818.8 1132.7,1819.5 1158.3,1821 1165.5,1821.6 1167,1821.8 1168.6,1821.9 1183.1,1823.4 1206.8,1826.5 1229.1,1830.3 1249.9,1834.6 1269.1,1839.2 1286.9,1844" fill="#ef0000"/>
<polygon points="1295,1851.4 1309.7,1856.3 1323.4,1861.2 1336.2,1866.2 1348.1,1871.2 1359.3,1876.2 1369.8,1881.3 1379.7,1886.4 1389,1891.6 1397.7,1896.8 1406,1902.2 1413.7,1907.6 1420.9,1913.2 1427.5,1918.9 1433.4,1924.7 1438.5,1930.8 1442.6,1937 1445.5,1943.3 1446.9,1949.8 1446.5,1956.3 1443.8,1962.9 1438.5,1969.3 1430,1975.5 1419,1981 1418.3,1981.3 1418.2,1981.3 1417.3,1981.7 1403.1,1986.5 1384.9,1991 1364,1994.7 1341.1,1997.8 1316.8,2000.1 1291.8,2001.8 1266.4,2003 1241.1,2003.8 1215.9,2004.2 1191.1,2004.3 1166.7,2004.1 1142.6,2003.7 1119,2003.1 1095.6,2002.4 1072.5,2001.5 1049.6,2000.4 1026.7,1999.2 1003.9,1997.9 981,1996.4 958.1,1994.7 934.9,1992.8 911.5,1990.7 887.9,1988.4 863.9,1985.8 839.8,1983 815.7,1979.7 791.7,1976.1 768.2,1971.9 745.8,1967.3 725.2,1962.1 707.2,1956.4 692.7,1950.1 686.2,1946.3 685.6,1945.9 685,1945.5 682.3,1943.4 676.5,1936.5 675,1929.5 677.4,1922.7 682.8,1916 690.7,1909.7 700.2,1903.7 710.9,1898.1 722.4,1892.8 734.5,1887.8 747,1883.1 759.7,1878.7 772.6,1874.4 785.7,1870.4 799,1866.6 812.5,1862.9 826.2,1859.3 840.2,1855.8 854.6,1852.5 869.3,1849.2 884.5,1846 900.3,1842.9 916.8,1839.9 933.9,1837 952,1834.2 970.9,1831.5 990.9,1829.1 1011.9,1826.9 1034,1825.1 1057.1,1823.7 1081.1,1822.9 1105.6,1822.8 1130.4,1823.4 1154.9,1824.9 1161.9,1825.4 1163.3,1825.6 1164.8,1825.7 1178.8,1827.1 1201.6,1830.1 1223.1,1833.6 1243.1,1837.7 1261.8,1842 1279,1846.6" fill="#e60000"/>
<polygon points="1286.3,1853.9 1300.6,1858.6 1313.9,1863.3 1326.3,1868 1337.8,1872.8 1348.6,1877.7 1358.8,1882.6 1368.3,1887.5 1377.2,1892.5 1385.7,1897.5 1393.5,1902.6 1400.9,1907.9 1407.7,1913.2 1413.8,1918.7 1419.3,1924.3 1423.9,1930.1 1427.6,1936 1430.1,1942.1 1431.1,1948.3 1430.4,1954.5 1427.5,1960.7 1422,1966.8 1413.7,1972.7 1403,1977.9 1402.3,1978.2 1402.2,1978.2 1401.4,1978.5 1387.8,1983.1 1370.4,1987.4 1350.6,1991 1329,1994 1306,1996.3 1282.3,1998 1258.2,1999.2 1234.1,2000 1210.1,2000.4 1186.4,2000.6 1163,2000.5 1140,2000.1 1117.3,1999.6 1094.8,1998.9 1072.6,1998.1 1050.6,1997.1 1028.7,1995.9 1006.8,1994.6 984.8,1993.1 962.7,1991.5 940.5,1989.7 918.1,1987.7 895.5,1985.4 872.7,1982.9 849.7,1980.1 826.8,1976.9 804,1973.4 781.8,1969.4 760.8,1964.9 741.4,1959.9 724.5,1954.4 710.8,1948.4 704.7,1944.8 704.1,1944.4 703.6,1944 701,1942.1 695.3,1935.5 693.6,1928.8 695.5,1922.3 700.3,1915.9 707.3,1909.9 716.1,1904.1 726,1898.7 736.7,1893.6 748.1,1888.8 759.9,1884.3 771.9,1880 784.2,1876 796.7,1872.1 809.5,1868.4 822.4,1864.8 835.6,1861.4 849.1,1858 862.9,1854.8 877.1,1851.7 891.8,1848.6 907.1,1845.6 922.9,1842.8 939.5,1840 956.9,1837.3 975.2,1834.8 994.4,1832.6 1014.6,1830.5 1035.8,1828.8 1058,1827.6 1080.9,1826.9 1104.4,1826.8 1128,1827.4 1151.4,1828.8 1158.1,1829.4 1159.5,1829.5 1160.9,1829.6 1174.3,1831 1196.1,1833.8 1216.8,1837.1 1236.2,1840.9 1254.2,1845 1270.9,1849.4" fill="#dd0000"/>
<polygon points="1277.2,1856.5 1291.1,1860.9 1303.9,1865.4 1315.9,1870 1327,1874.6 1337.4,1879.2 1347.2,1883.9 1356.4,1888.6 1364.9,1893.4 1373,1898.2 1380.5,1903.1 1387.4,1908.2 1393.8,1913.3 1399.5,1918.5 1404.6,1923.9 1408.8,1929.4 1412,1935.1 1414.1,1940.8 1414.7,1946.7 1413.7,1952.6 1410.5,1958.5 1405,1964.3 1396.9,1969.8 1386.5,1974.7 1385.9,1974.9 1385.8,1975 1385,1975.3 1372,1979.6 1355.6,1983.7 1336.9,1987.2 1316.5,1990 1294.8,1992.3 1272.4,1994 1249.7,1995.2 1226.8,1996 1204,1996.5 1181.5,1996.7 1159.2,1996.7 1137.2,1996.4 1115.5,1995.9 1094.1,1995.3 1072.8,1994.5 1051.7,1993.5 1030.7,1992.4 1009.7,1991.2 988.7,1989.8 967.6,1988.2 946.4,1986.5 925,1984.5 903.5,1982.3 881.8,1979.9 860,1977.1 838.3,1974.1 816.8,1970.6 796,1966.8 776.2,1962.4 758.1,1957.6 742.3,1952.4 729.5,1946.7 723.7,1943.2 723.2,1942.9 722.6,1942.5 720.2,1940.6 714.7,1934.4 712.8,1928.1 714.2,1921.9 718.3,1915.9 724.6,1910.1 732.6,1904.6 741.7,1899.4 751.7,1894.6 762.3,1890 773.4,1885.6 784.8,1881.5 796.4,1877.6 808.3,1873.8 820.5,1870.3 832.8,1866.8 845.5,1863.5 858.4,1860.3 871.7,1857.2 885.3,1854.2 899.5,1851.3 914.1,1848.5 929.4,1845.8 945.3,1843.2 962.1,1840.7 979.6,1838.3 998,1836.2 1017.4,1834.3 1037.7,1832.8 1058.8,1831.6 1080.7,1831 1103,1831 1125.5,1831.6 1147.9,1832.9 1154.2,1833.5 1155.5,1833.6 1156.9,1833.7 1169.6,1834.9 1190.5,1837.6 1210.3,1840.7 1228.9,1844.2 1246.2,1848.1 1262.3,1852.2" fill="#d50000"/>
<polygon points="1267.7,1859.3 1281,1863.5 1293.4,1867.7 1304.9,1872 1315.6,1876.4 1325.6,1880.8 1335,1885.2 1343.8,1889.8 1351.9,1894.3 1359.6,1898.9 1366.7,1903.7 1373.2,1908.4 1379.2,1913.3 1384.5,1918.3 1389.1,1923.5 1392.9,1928.7 1395.7,1934.1 1397.3,1939.5 1397.6,1945.1 1396.3,1950.6 1393,1956.2 1387.4,1961.6 1379.5,1966.8 1369.5,1971.4 1368.9,1971.6 1368.8,1971.7 1368.1,1971.9 1355.8,1976 1340.3,1979.9 1322.7,1983.2 1303.6,1986 1283.3,1988.1 1262.2,1989.8 1240.8,1991.1 1219.2,1991.9 1197.7,1992.4 1176.3,1992.7 1155.2,1992.7 1134.3,1992.5 1113.7,1992 1093.2,1991.5 1073,1990.7 1052.9,1989.8 1032.9,1988.8 1012.9,1987.6 992.8,1986.3 972.8,1984.7 952.6,1983 932.3,1981.2 911.8,1979 891.3,1976.7 870.7,1974 850.3,1971.1 830.2,1967.7 810.7,1964 792.2,1959.9 775.4,1955.3 760.7,1950.3 748.7,1944.9 743.3,1941.7 742.8,1941.3 742.3,1941 740,1939.2 734.6,1933.3 732.6,1927.4 733.6,1921.5 737.1,1915.8 742.7,1910.3 749.9,1905.1 758.2,1900.2 767.4,1895.5 777.3,1891.1 787.6,1887 798.3,1883 809.3,1879.3 820.6,1875.7 832.1,1872.3 843.9,1869 855.9,1865.8 868.2,1862.8 880.9,1859.8 894,1857 907.5,1854.2 921.6,1851.5 936.2,1849 951.5,1846.5 967.5,1844.2 984.3,1842 1001.9,1840 1020.3,1838.3 1039.7,1836.9 1059.8,1835.9 1080.5,1835.3 1101.7,1835.4 1123,1836 1144.1,1837.2 1150.1,1837.7 1151.4,1837.8 1152.7,1837.9 1164.8,1839.1 1184.7,1841.5 1203.5,1844.4 1221.3,1847.8 1237.9,1851.4 1253.4,1855.3" fill="#cc0000"/>
<polygon points="1257.6,1862.2 1270.4,1866.1 1282.2,1870.1 1293.3,1874.2 1303.5,1878.3 1313.1,1882.5 1322,1886.7 1330.4,1891 1338.1,1895.3 1345.4,1899.7 1352,1904.2 1358.1,1908.8 1363.7,1913.4 1368.6,1918.1 1372.7,1923 1376.1,1928 1378.5,1933 1379.8,1938.2 1379.7,1943.4 1378.1,1948.6 1374.6,1953.8 1369.2,1958.8 1361.4,1963.7 1351.9,1968 1351.3,1968.2 1351.2,1968.2 1350.6,1968.5 1338.9,1972.3 1324.4,1976 1308,1979.1 1290.1,1981.7 1271.2,1983.8 1251.5,1985.5 1231.5,1986.7 1211.3,1987.6 1191,1988.2 1170.9,1988.4 1151,1988.5 1131.2,1988.3 1111.7,1988 1092.4,1987.4 1073.2,1986.8 1054.1,1985.9 1035.1,1985 1016.2,1983.8 997.2,1982.5 978.2,1981.1 959.1,1979.5 939.9,1977.6 920.6,1975.6 901.3,1973.3 882,1970.8 862.9,1967.9 844.1,1964.7 826,1961.2 808.9,1957.2 793.3,1952.9 779.7,1948.1 768.7,1943 763.6,1940 763.1,1939.7 762.6,1939.3 760.5,1937.7 755.3,1932.2 753.2,1926.6 753.8,1921.1 756.7,1915.7 761.6,1910.6 768,1905.6 775.5,1901 784,1896.5 793.1,1892.4 802.7,1888.4 812.6,1884.6 823,1881.1 833.6,1877.7 844.4,1874.4 855.6,1871.3 867,1868.3 878.7,1865.4 890.8,1862.6 903.2,1859.9 916.1,1857.3 929.5,1854.8 943.5,1852.3 958,1850 973.2,1847.9 989.2,1845.9 1005.9,1844.1 1023.4,1842.5 1041.7,1841.2 1060.7,1840.3 1080.3,1839.9 1100.2,1839.9 1120.3,1840.5 1140.2,1841.7 1145.9,1842.1 1147.1,1842.2 1148.3,1842.3 1159.7,1843.4 1178.5,1845.7 1196.4,1848.4 1213.3,1851.4 1229.1,1854.8 1243.9,1858.4" fill="#c40000"/>
<polygon points="1246.9,1865.3 1259,1868.9 1270.3,1872.7 1280.8,1876.5 1290.6,1880.4 1299.7,1884.3 1308.2,1888.3 1316.1,1892.3 1323.4,1896.4 1330.2,1900.6 1336.4,1904.8 1342.1,1909.1 1347.2,1913.5 1351.6,1917.9 1355.3,1922.5 1358.3,1927.2 1360.3,1931.9 1361.2,1936.7 1360.8,1941.6 1358.9,1946.4 1355.4,1951.2 1350,1955.9 1342.6,1960.4 1333.6,1964.4 1333,1964.6 1332.9,1964.6 1332.3,1964.9 1321.4,1968.5 1307.9,1971.9 1292.7,1974.8 1276.1,1977.3 1258.6,1979.3 1240.4,1981 1221.7,1982.2 1202.9,1983.1 1184,1983.6 1165.2,1984 1146.5,1984 1128,1983.9 1109.7,1983.6 1091.5,1983.2 1073.4,1982.6 1055.4,1981.8 1037.5,1980.9 1019.7,1979.8 1001.8,1978.6 983.9,1977.2 966,1975.6 948,1973.9 929.9,1971.9 911.9,1969.8 893.9,1967.3 876.2,1964.6 858.8,1961.6 842.1,1958.2 826.4,1954.4 812.1,1950.3 799.6,1945.9 789.4,1941.1 784.7,1938.3 784.3,1938 783.8,1937.7 781.8,1936.1 776.9,1931 774.7,1925.8 774.9,1920.7 777.3,1915.7 781.5,1910.8 787.2,1906.2 793.9,1901.8 801.6,1897.6 809.9,1893.7 818.7,1889.9 827.9,1886.4 837.5,1883 847.4,1879.8 857.6,1876.7 868.1,1873.7 878.8,1870.9 889.9,1868.2 901.3,1865.5 913.1,1863 925.3,1860.5 938,1858.2 951.2,1855.9 965,1853.8 979.4,1851.8 994.4,1850 1010.2,1848.3 1026.7,1846.9 1043.9,1845.8 1061.7,1845 1080,1844.6 1098.7,1844.7 1117.5,1845.3 1136.1,1846.4 1141.4,1846.8 1142.6,1846.9 1143.7,1847 1154.4,1848 1172.1,1850 1188.9,1852.5 1204.9,1855.3 1219.8,1858.5 1233.8,1861.8" fill="#bb0000"/>
<polygon points="1235.4,1868.6 1246.9,1872 1257.5,1875.4 1267.5,1879 1276.7,1882.6 1285.3,1886.3 1293.3,1890 1300.7,1893.7 1307.5,1897.6 1313.9,1901.5 1319.6,1905.4 1324.8,1909.4 1329.5,1913.5 1333.4,1917.7 1336.7,1922 1339.2,1926.3 1340.8,1930.7 1341.4,1935.2 1340.7,1939.7 1338.7,1944.1 1335.1,1948.6 1329.8,1952.9 1322.7,1957 1314.3,1960.6 1313.8,1960.8 1313.7,1960.9 1313.1,1961.1 1303,1964.4 1290.5,1967.6 1276.5,1970.3 1261.3,1972.7 1245.3,1974.6 1228.5,1976.1 1211.4,1977.3 1194,1978.2 1176.5,1978.8 1159.1,1979.2 1141.8,1979.3 1124.5,1979.3 1107.4,1979 1090.5,1978.6 1073.6,1978 1056.8,1977.3 1040.1,1976.5 1023.5,1975.5 1006.8,1974.3 990.1,1973 973.4,1971.6 956.6,1969.9 939.9,1968 923.2,1966 906.6,1963.7 890.3,1961.1 874.4,1958.2 859.1,1955 844.8,1951.5 831.8,1947.7 820.5,1943.5 811.2,1939.1 806.9,1936.5 806.4,1936.2 806,1935.9 804.2,1934.5 799.5,1929.7 797.3,1925 797.2,1920.2 799.1,1915.6 802.7,1911.1 807.6,1906.8 813.5,1902.7 820.4,1898.8 827.9,1895.1 835.9,1891.6 844.4,1888.2 853.2,1885.1 862.4,1882 871.8,1879.1 881.6,1876.4 891.6,1873.7 902,1871.1 912.6,1868.7 923.7,1866.3 935.2,1864.1 947.1,1861.9 959.5,1859.8 972.4,1857.9 985.9,1856 1000.1,1854.4 1014.8,1852.9 1030.2,1851.6 1046.2,1850.7 1062.8,1850 1079.8,1849.7 1097.1,1849.8 1114.5,1850.3 1131.8,1851.3 1136.7,1851.7 1137.8,1851.8 1138.8,1851.9 1148.8,1852.8 1165.2,1854.7 1180.9,1856.9 1195.8,1859.5 1209.9,1862.3 1223.1,1865.4" fill="#b30000"/>
<polygon points="1222.9,1872.2 1233.7,1875.3 1243.6,1878.4 1252.9,1881.7 1261.6,1885 1269.6,1888.4 1277,1891.8 1283.9,1895.3 1290.3,1898.8 1296.1,1902.4 1301.3,1906.1 1306.1,1909.8 1310.2,1913.6 1313.7,1917.5 1316.6,1921.4 1318.6,1925.4 1319.8,1929.4 1320.1,1933.5 1319.2,1937.6 1317,1941.7 1313.5,1945.7 1308.4,1949.6 1301.7,1953.4 1293.9,1956.7 1293.4,1956.9 1293.3,1956.9 1292.7,1957.1 1283.5,1960.1 1272.1,1963 1259.4,1965.5 1245.6,1967.7 1231.1,1969.5 1215.9,1971 1200.3,1972.2 1184.5,1973 1168.5,1973.7 1152.6,1974 1136.6,1974.2 1120.8,1974.2 1105.1,1974 1089.4,1973.7 1073.8,1973.2 1058.4,1972.5 1042.9,1971.7 1027.5,1970.8 1012.1,1969.7 996.8,1968.5 981.4,1967.1 966,1965.6 950.7,1963.8 935.4,1961.9 920.3,1959.7 905.5,1957.3 891.1,1954.6 877.3,1951.6 864.5,1948.4 852.8,1944.8 842.6,1941 834.3,1937 830.3,1934.6 830,1934.3 829.6,1934 827.9,1932.8 823.5,1928.4 821.3,1924.1 821,1919.7 822.4,1915.5 825.3,1911.4 829.5,1907.4 834.7,1903.6 840.7,1900 847.4,1896.6 854.6,1893.3 862.2,1890.2 870.3,1887.3 878.6,1884.5 887.3,1881.8 896.3,1879.2 905.5,1876.8 915.1,1874.4 925,1872.1 935.3,1870 945.9,1867.9 957,1865.9 968.5,1864 980.5,1862.3 993.1,1860.6 1006.1,1859.2 1019.8,1857.8 1034,1856.7 1048.7,1855.9 1063.9,1855.3 1079.5,1855.1 1095.4,1855.2 1111.3,1855.7 1127.2,1856.7 1131.7,1857 1132.6,1857.1 1133.6,1857.1 1142.7,1858 1157.8,1859.6 1172.3,1861.7 1186.1,1864 1199.2,1866.5 1211.5,1869.3" fill="#aa0000"/>
<polygon points="1209.2,1876.2 1219.1,1878.9 1228.3,1881.8 1236.9,1884.7 1244.8,1887.7 1252.2,1890.7 1259.1,1893.8 1265.4,1897 1271.1,1900.2 1276.4,1903.5 1281.2,1906.9 1285.4,1910.2 1289,1913.7 1292,1917.2 1294.4,1920.8 1296.1,1924.4 1296.9,1928 1296.8,1931.7 1295.7,1935.4 1293.5,1939 1290,1942.6 1285.2,1946.1 1279,1949.4 1271.9,1952.4 1271.5,1952.6 1271.4,1952.6 1270.9,1952.8 1262.5,1955.5 1252.3,1958.1 1241,1960.4 1228.7,1962.4 1215.7,1964.1 1202.2,1965.5 1188.3,1966.6 1174.1,1967.4 1159.8,1968 1145.4,1968.4 1131,1968.6 1116.7,1968.7 1102.4,1968.5 1088.2,1968.2 1074.1,1967.8 1060,1967.2 1046,1966.5 1032,1965.7 1018,1964.7 1004.1,1963.6 990.1,1962.3 976.2,1960.9 962.4,1959.2 948.7,1957.4 935.2,1955.4 922,1953.2 909.2,1950.7 897,1948 885.7,1945 875.4,1941.8 866.5,1938.3 859,1934.7 855.5,1932.5 855.2,1932.3 854.9,1932 853.3,1930.9 849.4,1927 847.2,1923.1 846.7,1919.2 847.7,1915.4 850,1911.7 853.4,1908.1 857.8,1904.7 863,1901.4 868.8,1898.3 875.1,1895.3 881.9,1892.5 889.1,1889.8 896.6,1887.2 904.4,1884.8 912.5,1882.4 921,1880.2 929.7,1878 938.7,1876 948.1,1874 957.8,1872.1 968,1870.4 978.5,1868.7 989.5,1867.1 1000.9,1865.7 1012.8,1864.4 1025.2,1863.3 1038.1,1862.3 1051.4,1861.6 1065.2,1861.2 1079.3,1861 1093.5,1861.1 1107.9,1861.6 1122.1,1862.4 1126.2,1862.7 1127.1,1862.8 1127.9,1862.8 1136.2,1863.6 1149.8,1865.1 1163,1866.8 1175.6,1868.9 1187.5,1871.1 1198.7,1873.6" fill="#a20000"/>
<polygon points="1193.9,1880.6 1202.8,1883 1211,1885.5 1218.8,1888 1226,1890.7 1232.6,1893.4 1238.7,1896.1 1244.4,1899 1249.5,1901.8 1254.2,1904.7 1258.4,1907.7 1262,1910.7 1265.1,1913.8 1267.7,1916.9 1269.6,1920 1270.8,1923.2 1271.3,1926.4 1271,1929.7 1269.8,1932.9 1267.5,1936.1 1264.2,1939.2 1259.8,1942.3 1254.2,1945.2 1247.8,1947.7 1247.5,1947.9 1247.4,1947.9 1247,1948.1 1239.6,1950.4 1230.7,1952.7 1220.8,1954.8 1210.2,1956.5 1198.9,1958.1 1187.1,1959.3 1175,1960.4 1162.6,1961.2 1150.1,1961.8 1137.4,1962.2 1124.8,1962.4 1112.1,1962.5 1099.5,1962.4 1086.9,1962.2 1074.4,1961.8 1061.9,1961.3 1049.4,1960.7 1037,1959.9 1024.6,1959.1 1012.3,1958 1000,1956.9 987.7,1955.6 975.5,1954.1 963.5,1952.4 951.7,1950.6 940.3,1948.6 929.2,1946.4 918.7,1943.9 909,1941.3 900.2,1938.4 892.5,1935.4 886.1,1932.2 883.1,1930.3 882.8,1930.1 882.5,1929.9 881.2,1928.8 877.6,1925.4 875.6,1922 874.9,1918.6 875.5,1915.3 877.3,1912 880,1908.9 883.6,1905.8 887.9,1902.9 892.8,1900.1 898.3,1897.5 904.1,1895 910.3,1892.6 916.9,1890.3 923.8,1888.1 931,1886 938.4,1884 946.2,1882.1 954.2,1880.3 962.6,1878.6 971.3,1876.9 980.3,1875.4 989.7,1873.9 999.5,1872.6 1009.7,1871.4 1020.3,1870.3 1031.3,1869.3 1042.7,1868.5 1054.5,1868 1066.6,1867.6 1078.9,1867.5 1091.5,1867.6 1104.1,1868.1 1116.6,1868.8 1120.1,1869 1120.9,1869.1 1121.7,1869.2 1128.9,1869.8 1141,1871.1 1152.6,1872.6 1163.8,1874.3 1174.4,1876.3 1184.4,1878.4" fill="#9e0000"/>
<polygon points="1176.1,1885.8 1183.8,1887.7 1191,1889.8 1197.7,1892 1203.9,1894.2 1209.7,1896.5 1215,1898.8 1219.9,1901.2 1224.3,1903.7 1228.3,1906.2 1231.8,1908.7 1234.8,1911.3 1237.4,1913.9 1239.4,1916.5 1240.9,1919.2 1241.7,1921.9 1241.9,1924.6 1241.4,1927.4 1240.1,1930.1 1237.9,1932.7 1234.9,1935.4 1231,1937.9 1226.2,1940.3 1220.7,1942.5 1220.4,1942.6 1220.3,1942.6 1220,1942.7 1213.7,1944.7 1206.3,1946.7 1198,1948.4 1189.2,1949.9 1179.8,1951.3 1170,1952.4 1159.9,1953.3 1149.5,1954.1 1139,1954.6 1128.3,1955 1117.6,1955.3 1106.9,1955.4 1096.1,1955.3 1085.4,1955.2 1074.7,1954.9 1064.1,1954.5 1053.4,1953.9 1042.8,1953.3 1032.3,1952.5 1021.7,1951.6 1011.3,1950.6 1000.9,1949.5 990.7,1948.2 980.6,1946.7 970.7,1945.1 961.2,1943.4 952.1,1941.4 943.4,1939.3 935.5,1937 928.3,1934.6 922,1932 916.7,1929.3 914.2,1927.7 914,1927.6 913.7,1927.4 912.6,1926.5 909.6,1923.7 907.7,1920.8 907,1918 907.3,1915.2 908.5,1912.4 910.6,1909.7 913.3,1907.2 916.7,1904.7 920.7,1902.3 925.1,1900.1 929.9,1897.9 935.1,1895.8 940.6,1893.9 946.4,1892 952.5,1890.2 958.8,1888.5 965.5,1886.9 972.4,1885.4 979.5,1883.9 987,1882.5 994.8,1881.2 1002.8,1880 1011.2,1878.9 1019.9,1877.9 1029,1877.1 1038.3,1876.3 1048,1875.7 1058,1875.3 1068.2,1875 1078.6,1875 1089.1,1875.1 1099.7,1875.5 1110.2,1876.1 1113.2,1876.3 1113.9,1876.3 1114.5,1876.4 1120.6,1876.9 1130.8,1877.9 1140.7,1879.2 1150.2,1880.6 1159.3,1882.2 1167.9,1883.9" fill="#9b0000"/>
<polygon points="1154.2,1892.1 1160.3,1893.6 1166.1,1895.2 1171.5,1896.8 1176.5,1898.6 1181.2,1900.3 1185.5,1902.2 1189.4,1904.1 1192.9,1906 1196.1,1907.9 1198.8,1909.9 1201.1,1912 1203,1914 1204.5,1916.1 1205.5,1918.2 1206,1920.3 1205.9,1922.4 1205.3,1924.5 1204.1,1926.6 1202.2,1928.7 1199.7,1930.7 1196.5,1932.7 1192.6,1934.5 1188.3,1936.2 1188.1,1936.3 1188,1936.3 1187.7,1936.4 1182.9,1937.9 1177.2,1939.4 1170.9,1940.8 1164.1,1942 1156.9,1943.1 1149.4,1944 1141.6,1944.8 1133.6,1945.4 1125.5,1945.9 1117.2,1946.3 1108.8,1946.5 1100.4,1946.6 1092,1946.7 1083.6,1946.5 1075.1,1946.3 1066.7,1946 1058.3,1945.6 1050,1945.1 1041.7,1944.5 1033.4,1943.8 1025.2,1942.9 1017.1,1942 1009.2,1940.9 1001.4,1939.7 993.9,1938.4 986.6,1937 979.7,1935.5 973.2,1933.8 967.2,1932 961.9,1930.1 957.2,1928 953.2,1925.9 951.3,1924.7 951.1,1924.6 950.9,1924.4 950.1,1923.8 947.7,1921.6 946.2,1919.4 945.5,1917.2 945.6,1915 946.3,1912.9 947.7,1910.8 949.6,1908.8 952.1,1906.9 955,1905 958.3,1903.2 961.9,1901.5 965.8,1899.9 970.1,1898.3 974.6,1896.9 979.3,1895.5 984.3,1894.1 989.5,1892.9 995,1891.7 1000.6,1890.6 1006.5,1889.5 1012.7,1888.5 1019,1887.6 1025.7,1886.8 1032.5,1886.1 1039.6,1885.4 1046.9,1884.9 1054.5,1884.5 1062.2,1884.2 1070.1,1884 1078.1,1884 1086.3,1884.1 1094.4,1884.4 1102.5,1884.9 1104.9,1885 1105.4,1885.1 1105.9,1885.1 1110.6,1885.5 1118.5,1886.2 1126.2,1887.2 1133.6,1888.2 1140.8,1889.4 1147.7,1890.7" fill="#980000"/>
<polygon points="1122.7,1901.2 1126.5,1902.1 1130.1,1903 1133.5,1903.9 1136.7,1904.9 1139.7,1906 1142.4,1907.1 1144.9,1908.2 1147.1,1909.3 1149.1,1910.5 1150.8,1911.7 1152.2,1913 1153.4,1914.2 1154.2,1915.5 1154.7,1916.7 1154.9,1918 1154.8,1919.3 1154.3,1920.6 1153.4,1921.8 1152.2,1923 1150.5,1924.2 1148.6,1925.4 1146.2,1926.5 1143.6,1927.5 1143.5,1927.6 1143.4,1927.6 1143.3,1927.6 1140.4,1928.5 1137,1929.5 1133.3,1930.3 1129.3,1931.1 1125.1,1931.8 1120.7,1932.4 1116.1,1932.9 1111.3,1933.3 1106.4,1933.7 1101.4,1933.9 1096.4,1934.1 1091.3,1934.2 1086.1,1934.3 1080.9,1934.2 1075.7,1934.1 1070.5,1933.9 1065.4,1933.7 1060.2,1933.3 1055.1,1932.9 1050.1,1932.5 1045.2,1931.9 1040.3,1931.3 1035.6,1930.6 1031,1929.8 1026.6,1929 1022.4,1928.1 1018.4,1927.1 1014.7,1926 1011.4,1924.9 1008.4,1923.7 1005.8,1922.5 1003.6,1921.3 1002.6,1920.5 1002.5,1920.5 1002.4,1920.4 1001.9,1920 1000.6,1918.7 999.7,1917.4 999.2,1916.1 999.2,1914.8 999.5,1913.5 1000.2,1912.3 1001.3,1911.1 1002.6,1910 1004.2,1908.8 1006.1,1907.8 1008.2,1906.8 1010.5,1905.8 1013,1904.9 1015.7,1904 1018.5,1903.1 1021.5,1902.3 1024.7,1901.6 1028,1900.9 1031.4,1900.2 1035,1899.6 1038.7,1899.1 1042.6,1898.6 1046.6,1898.1 1050.7,1897.7 1054.9,1897.4 1059.2,1897.1 1063.7,1896.9 1068.2,1896.8 1072.8,1896.7 1077.5,1896.7 1082.3,1896.8 1087,1897 1091.7,1897.2 1093.1,1897.3 1093.4,1897.3 1093.7,1897.4 1096.5,1897.6 1101.1,1898 1105.7,1898.5 1110.1,1899.1 1114.5,1899.7 1118.7,1900.4" fill="#960000"/>
<polygon points="253,1983 300,1966.6 400,1943.5 473,1930 566,1916.4 649,1905.7 780,1897.9 892,1893.1 1078,1887.3 1279,1896.6 1419,1917.8 1559,1949.7 1699,1989.2 1838,2030.4 1920,2061.4 1990,2093 1990,2093 1920,2086.6 1838,2073.6 1699,2046.8 1559,2016.3 1419,1986.2 1279,1961.4 1078,1946.7 892,1948.9 780,1950.1 649,1954.3 566,1959.6 473,1966 400,1970.5 300,1977.4 253,1983" fill="url(#st0)"/>
<polygon points="253,1983 300,1968.1 400,1947.3 473,1935 566,1922.4 649,1912.5 780,1905.2 892,1900.9 1078,1895.6 1279,1905.7 1419,1927.4 1559,1959 1699,1997.3 1838,2036.4 1920,2064.9 1990,2093 1990,2093 1920,2083.1 1838,2067.6 1699,2038.7 1559,2007 1419,1976.6 1279,1952.3 1078,1938.4 892,1941.1 780,1942.8 649,1947.5 566,1953.6 473,1961 400,1966.7 300,1975.9 253,1983" fill="url(#st1)"/>
<polygon points="253,1983 300,1969.7 400,1951.3 473,1940.4 566,1928.9 649,1919.8 780,1913 892,1909.3 1078,1904.5 1279,1915.4 1419,1937.6 1559,1969 1699,2005.9 1838,2042.9 1920,2068.7 1990,2093 1990,2093 1920,2079.3 1838,2061.1 1699,2030.1 1559,1997 1419,1966.4 1279,1942.6 1078,1929.5 892,1932.7 780,1935 649,1940.2 566,1947.1 473,1955.6 400,1962.7 300,1974.3 253,1983" fill="url(#st2)"/>
<ellipse cx="1085" cy="1917" rx="170" ry="19" fill="url(#st3)"/>
<ellipse cx="1082" cy="1917" rx="64" ry="13" fill="#fff"/>
<path d="M228,66.8L252.8,1980.6M250.8,1980.6L1993.4,2093.9" fill="none" stroke="#000" stroke-width="5"/>
<path d="M251.6,1886.9h8M250.9,1830.6h7.5M250.6,1811.8h7.5M250.4,1793h8M250.1,1774.2h7.5M249.9,1755.4h7.5M249.7,1736.6h7.5M249.4,1717.7h7.5M249.2,1698.9h8M247.9,1604.6h8M246.7,1510h8M246.2,1472.2h7.5M246,1453.2h7.5M245.7,1434.3h7.5M245.5,1415.3h8M245.2,1396.3h7.5M245,1377.4h7.5M244.7,1358.4h7.5M244.3,1320.4h8M243,1225.2h8M241.8,1129.8h8M241.5,1110.7h7.5M241.3,1091.6h7.5M241,1072.5h7.5M240.8,1053.4h7.5M240.5,1034.3h8M240.3,1015.1h7.5M239.3,938.5h8M238.1,842.5h8M237.1,765.5h7.5M236.8,746.3h8M236.6,727h7.5M236.3,707.7h7.5M236.1,688.4h7.5M235.8,669.1h7.5M235.6,649.8h8M234.3,553.2h8M233.1,456.4h8M232.6,417.6h7.5M232.3,398.1h7.5M232,378.7h7.5M231.8,359.3h8M231.5,339.8h7.5M231.3,320.4h7.5M231,300.9h7.5M230.5,262h8M229.3,164.5h8M252.8,1982.6v-12M356.3,1989.4v-8M460.4,1996.1v-12M565.2,2002.9v-8M670.7,2009.8v-12M776.9,2016.7v-8M883.8,2023.7v-12M991.4,2030.7v-8M1099.7,2037.7v-12M1208.8,2044.8v-8M1318.6,2052v-12M1429.2,2059.2v-8M1540.5,2066.4v-12M1652.5,2073.7v-8M1765.4,2081v-12M1879,2088.4v-8M1993.4,2095.9v-12" fill="none" stroke="#000" stroke-width="5"/>
<path d="M252.8,1980.6L1278.8,1707.1L1993.4,2093.9" fill="none" stroke="#000" stroke-width="4" stroke-dasharray="6 50"/>
<g stroke="#000" stroke-width="4.3" stroke-linejoin="round" stroke-linecap="round"><path d="M1256.2,1500.8L1278.6,1570.2L1308.2,1514.5Z" fill="#c0c0c0" stroke="none"/><path d="M1256.2,1500.8L1278.6,1570.2M1308.2,1514.5L1256.2,1500.8" fill="none"/><path d="M1233.6,1434.2L1256.2,1500.8L1308.2,1514.5L1285.7,1427Z" fill="#c0c0c0"/><path d="M1210.8,1370.5L1233.6,1434.2L1285.7,1427L1262.9,1343.2Z" fill="#c0c0c0"/><path d="M1285.7,1427L1308.2,1514.5L1338.4,1465.5Z" fill="#c0c0c0" stroke="none"/><path d="M1285.7,1427L1308.2,1514.5M1338.4,1465.5L1285.7,1427" fill="none"/><path d="M1187.8,1309.6L1210.8,1370.5L1262.9,1343.2L1240,1263.2Z" fill="#c0c0c0"/><path d="M1262.9,1343.2L1285.7,1427L1338.4,1465.5L1315.8,1361.7Z" fill="#c0c0c0"/><path d="M1164.6,1251.7L1187.8,1309.6L1240,1263.2L1216.9,1187.1Z" fill="#c0c0c0"/><path d="M1240,1263.2L1262.9,1343.2L1315.8,1361.7L1292.9,1262.6Z" fill="#c0c0c0"/><path d="M1315.8,1361.7L1338.4,1465.5L1369.2,1423.4Z" fill="#c0c0c0" stroke="none"/><path d="M1315.8,1361.7L1338.4,1465.5M1369.2,1423.4L1315.8,1361.7" fill="none"/><path d="M1141.3,1196.7L1164.6,1251.7L1216.9,1187.1L1193.6,1114.8Z" fill="#c0c0c0"/><path d="M1216.9,1187.1L1240,1263.2L1292.9,1262.6L1269.9,1168.1Z" fill="#c0c0c0"/><path d="M1292.9,1262.6L1315.8,1361.7L1369.2,1423.4L1346.5,1305.1Z" fill="#c0c0c0"/><path d="M1117.8,1144.8L1141.3,1196.7L1193.6,1114.8L1170.1,1046.4Z" fill="#c0c0c0"/><path d="M1193.6,1114.8L1216.9,1187.1L1269.9,1168.1L1246.6,1078.5Z" fill="#c0c0c0"/><path d="M1269.9,1168.1L1292.9,1262.6L1346.5,1305.1L1323.6,1192.5Z" fill="#c0c0c0"/><path d="M1346.5,1305.1L1369.2,1423.4L1400.6,1388.4Z" fill="#c0c0c0" stroke="none"/><path d="M1346.5,1305.1L1369.2,1423.4M1400.6,1388.4L1346.5,1305.1" fill="none"/><path d="M1094,1096L1117.8,1144.8L1170.1,1046.4L1146.4,982.1Z" fill="#c0c0c0"/><path d="M1170.1,1046.4L1193.6,1114.8L1246.6,1078.5L1223.2,993.7Z" fill="#c0c0c0"/><path d="M1246.6,1078.5L1269.9,1168.1L1323.6,1192.5L1300.4,1085.6Z" fill="#c0c0c0"/><path d="M1070.1,1050.2L1094,1096L1146.4,982.1L1122.5,921.9Z" fill="#c0c0c0"/><path d="M1323.6,1192.5L1346.5,1305.1L1400.6,1388.4L1377.8,1257.7Z" fill="#c0c0c0"/><path d="M1146.4,982.1L1170.1,1046.4L1223.2,993.7L1199.5,914Z" fill="#c0c0c0"/><path d="M1046.1,1007.6L1070.1,1050.2L1122.5,921.9L1098.4,865.8Z" fill="#c0c0c0"/><path d="M1223.2,993.7L1246.6,1078.5L1300.4,1085.6L1277,984.4Z" fill="#c0c0c0"/><path d="M1300.4,1085.6L1323.6,1192.5L1377.8,1257.7L1354.8,1133.5Z" fill="#c0c0c0"/><path d="M1377.8,1257.7L1400.6,1388.4L1432.6,1360.9Z" fill="#c0c0c0" stroke="none"/><path d="M1377.8,1257.7L1400.6,1388.4M1432.6,1360.9L1377.8,1257.7" fill="none"/><path d="M1122.5,921.9L1146.4,982.1L1199.5,914L1175.7,839.2Z" fill="#c0c0c0"/><path d="M1021.8,968.2L1046.1,1007.6L1098.4,865.8L1074.1,813.9Z" fill="#c0c0c0"/><path d="M1199.5,914L1223.2,993.7L1277,984.4L1253.5,889.2Z" fill="#c0c0c0"/><path d="M1277,984.4L1300.4,1085.6L1354.8,1133.5L1331.6,1016Z" fill="#c0c0c0"/><path d="M1354.8,1133.5L1377.8,1257.7L1432.6,1360.9L1409.8,1219.5Z" fill="#c0c0c0"/><path d="M1098.4,865.8L1122.5,921.9L1175.7,839.2L1151.6,769.6Z" fill="#c0c0c0"/><path d="M997.4,932.1L1021.8,968.2L1074.1,813.9L1049.6,766.2Z" fill="#c0c0c0"/><path d="M1175.7,839.2L1199.5,914L1253.5,889.2L1229.7,800Z" fill="#c0c0c0"/><path d="M1253.5,889.2L1277,984.4L1331.6,1016L1308.1,905.4Z" fill="#c0c0c0"/><path d="M1409.8,1219.5L1432.6,1360.9L1465.3,1340.9Z" fill="#c0c0c0" stroke="none"/><path d="M1409.8,1219.5L1432.6,1360.9M1465.3,1340.9L1409.8,1219.5" fill="none"/><path d="M1331.6,1016L1354.8,1133.5L1409.8,1219.5L1386.7,1085.8Z" fill="#c0c0c0"/><path d="M1074.1,813.9L1098.4,865.8L1151.6,769.6L1127.3,705.2Z" fill="#c0c0c0"/><path d="M972.8,899.2L997.4,932.1L1049.6,766.2L1025,722.9Z" fill="#c0c0c0"/><path d="M1151.6,769.6L1175.7,839.2L1229.7,800L1205.7,716.8Z" fill="#c0c0c0"/><path d="M1229.7,800L1253.5,889.2L1308.1,905.4L1284.4,801.7Z" fill="#c0c0c0"/><path d="M1049.6,766.2L1074.1,813.9L1127.3,705.2L1102.9,646.1Z" fill="#c0c0c0"/><path d="M948,869.6L972.8,899.2L1025,722.9L1000.2,684Z" fill="#c0c0c0"/><path d="M1386.7,1085.8L1409.8,1219.5L1465.3,1340.9L1442.4,1191Z" fill="#c0c0c0"/><path d="M1308.1,905.4L1331.6,1016L1386.7,1085.8L1363.4,959.8Z" fill="#c0c0c0"/><path d="M1127.3,705.2L1151.6,769.6L1205.7,716.8L1181.5,640Z" fill="#c0c0c0"/><path d="M1025,722.9L1049.6,766.2L1102.9,646.1L1078.3,592.3Z" fill="#c0c0c0"/><path d="M923,843.5L948,869.6L1000.2,684L975.2,649.5Z" fill="#c0c0c0"/><path d="M1205.7,716.8L1229.7,800L1284.4,801.7L1260.5,705.1Z" fill="#c0c0c0"/><path d="M1442.4,1191L1465.3,1340.9L1498.6,1328.8Z" fill="#c0c0c0" stroke="none"/><path d="M1442.4,1191L1465.3,1340.9M1498.6,1328.8L1442.4,1191" fill="none"/><path d="M1284.4,801.7L1308.1,905.4L1363.4,959.8L1339.8,841.8Z" fill="#c0c0c0"/><path d="M1363.4,959.8L1386.7,1085.8L1442.4,1191L1419.3,1049.9Z" fill="#c0c0c0"/><path d="M1102.9,646.1L1127.3,705.2L1181.5,640L1157.1,569.4Z" fill="#c0c0c0"/><path d="M1000.2,684L1025,722.9L1078.3,592.3L1053.4,544Z" fill="#c0c0c0"/><path d="M897.8,820.7L923,843.5L975.2,649.5L950,619.5Z" fill="#c0c0c0"/><path d="M1181.5,640L1205.7,716.8L1260.5,705.1L1236.4,615.8Z" fill="#c0c0c0"/><path d="M1260.5,705.1L1284.4,801.7L1339.8,841.8L1316.1,731.9Z" fill="#c0c0c0"/><path d="M1419.3,1049.9L1442.4,1191L1498.6,1328.8L1475.7,1172.5Z" fill="#c0c0c0"/><path d="M1339.8,841.8L1363.4,959.8L1419.3,1049.9L1395.9,917.6Z" fill="#c0c0c0"/><path d="M1078.3,592.3L1102.9,646.1L1157.1,569.4L1132.5,505.3Z" fill="#c0c0c0"/><path d="M872.5,801.4L897.8,820.7L950,619.5L924.6,594.1Z" fill="#c0c0c0"/><path d="M975.2,649.5L1000.2,684L1053.4,544L1028.4,501.2Z" fill="#c0c0c0"/><path d="M1157.1,569.4L1181.5,640L1236.4,615.8L1212.1,533.9Z" fill="#c0c0c0"/><path d="M1236.4,615.8L1260.5,705.1L1316.1,731.9L1292,630.2Z" fill="#c0c0c0"/><path d="M1475.7,1172.5L1498.6,1328.8L1532.6,1324.7Z" fill="#c0c0c0" stroke="none"/><path d="M1475.7,1172.5L1498.6,1328.8M1532.6,1324.7L1475.7,1172.5" fill="none"/><path d="M1053.4,544L1078.3,592.3L1132.5,505.3L1107.7,447.6Z" fill="#c0c0c0"/><path d="M1395.9,917.6L1419.3,1049.9L1475.7,1172.5L1452.5,1026.1Z" fill="#c0c0c0"/><path d="M1316.1,731.9L1339.8,841.8L1395.9,917.6L1372.2,794.4Z" fill="#c0c0c0"/><path d="M847,785.6L872.5,801.4L924.6,594.1L899.1,573.2Z" fill="#c0c0c0"/><path d="M950,619.5L975.2,649.5L1028.4,501.2L1003.2,464.1Z" fill="#c0c0c0"/><path d="M1132.5,505.3L1157.1,569.4L1212.1,533.9L1187.5,459.4Z" fill="#c0c0c0"/><path d="M1028.4,501.2L1053.4,544L1107.7,447.6L1082.7,396.6Z" fill="#c0c0c0"/><path d="M821.4,773.3L847,785.6L899.1,573.2L873.4,557.1Z" fill="#c0c0c0"/><path d="M1212.1,533.9L1236.4,615.8L1292,630.2L1267.8,536.9Z" fill="#c0c0c0"/><path d="M924.6,594.1L950,619.5L1003.2,464.1L977.9,432.6Z" fill="#c0c0c0"/><path d="M1452.5,1026.1L1475.7,1172.5L1532.6,1324.7L1509.6,1164.2Z" fill="#c0c0c0"/><path d="M1292,630.2L1316.1,731.9L1372.2,794.4L1348.4,680.4Z" fill="#c0c0c0"/><path d="M1372.2,794.4L1395.9,917.6L1452.5,1026.1L1429,889.7Z" fill="#c0c0c0"/><path d="M1107.7,447.6L1132.5,505.3L1187.5,459.4L1162.8,392.5Z" fill="#c0c0c0"/><path d="M795.5,764.6L821.4,773.3L873.4,557.1L847.5,545.7Z" fill="#c0c0c0"/><path d="M1003.2,464.1L1028.4,501.2L1082.7,396.6L1057.5,352.4Z" fill="#c0c0c0"/><path d="M899.1,573.2L924.6,594.1L977.9,432.6L952.3,406.9Z" fill="#c0c0c0"/><path d="M1187.5,459.4L1212.1,533.9L1267.8,536.9L1243.4,452.2Z" fill="#c0c0c0"/><path d="M1509.6,1164.2L1532.6,1324.7L1567.2,1329Z" fill="#c0c0c0" stroke="none"/><path d="M1509.6,1164.2L1532.6,1324.7M1567.2,1329L1509.6,1164.2" fill="none"/><path d="M1267.8,536.9L1292,630.2L1348.4,680.4L1324.3,575.9Z" fill="#c0c0c0"/><path d="M1429,889.7L1452.5,1026.1L1509.6,1164.2L1486.3,1014.8Z" fill="#c0c0c0"/><path d="M1348.4,680.4L1372.2,794.4L1429,889.7L1405.3,763.5Z" fill="#c0c0c0"/><path d="M1082.7,396.6L1107.7,447.6L1162.8,392.5L1137.8,333.4Z" fill="#c0c0c0"/><path d="M769.5,759.5L795.5,764.6L847.5,545.7L821.5,539.1Z" fill="#c0c0c0"/><path d="M977.9,432.6L1003.2,464.1L1057.5,352.4L1032.1,314.9Z" fill="#c0c0c0"/><path d="M873.4,557.1L899.1,573.2L952.3,406.9L926.6,387Z" fill="#c0c0c0"/><path d="M1162.8,392.5L1187.5,459.4L1243.4,452.2L1218.7,376.2Z" fill="#c0c0c0"/><path d="M1486.3,1014.8L1509.6,1164.2L1567.2,1329L1544.2,1166.5Z" fill="#c0c0c0"/><path d="M1243.4,452.2L1267.8,536.9L1324.3,575.9L1299.9,481Z" fill="#c0c0c0"/><path d="M1057.5,352.4L1082.7,396.6L1137.8,333.4L1112.7,282.1Z" fill="#c0c0c0"/><path d="M743.3,758.1L769.5,759.5L821.5,539.1L795.3,537.3Z" fill="#c0c0c0"/><path d="M1405.3,763.5L1429,889.7L1486.3,1014.8L1462.8,876.5Z" fill="#c0c0c0"/><path d="M1324.3,575.9L1348.4,680.4L1405.3,763.5L1381.4,647.8Z" fill="#c0c0c0"/><path d="M847.5,545.7L873.4,557.1L926.6,387L900.7,373Z" fill="#c0c0c0"/><path d="M952.3,406.9L977.9,432.6L1032.1,314.9L1006.6,284.4Z" fill="#c0c0c0"/><path d="M1137.8,333.4L1162.8,392.5L1218.7,376.2L1193.8,309Z" fill="#c0c0c0"/><path d="M717,760.4L743.3,758.1L795.3,537.3L768.9,540.4Z" fill="#c0c0c0"/><path d="M1544.2,1166.5L1567.2,1329L1602.4,1341.8Z" fill="#c0c0c0" stroke="none"/><path d="M1544.2,1166.5L1567.2,1329M1602.4,1341.8L1544.2,1166.5" fill="none"/><path d="M1218.7,376.2L1243.4,452.2L1299.9,481L1275.4,395.8Z" fill="#c0c0c0"/><path d="M1032.1,314.9L1057.5,352.4L1112.7,282.1L1087.3,238.8Z" fill="#c0c0c0"/><path d="M1462.8,876.5L1486.3,1014.8L1544.2,1166.5L1520.9,1016.3Z" fill="#c0c0c0"/><path d="M821.5,539.1L847.5,545.7L900.7,373L874.6,365Z" fill="#c0c0c0"/><path d="M926.6,387L952.3,406.9L1006.6,284.4L980.9,260.9Z" fill="#c0c0c0"/><path d="M1299.9,481L1324.3,575.9L1381.4,647.8L1357.2,542.8Z" fill="#c0c0c0"/><path d="M1381.4,647.8L1405.3,763.5L1462.8,876.5L1439.1,749.8Z" fill="#c0c0c0"/><path d="M1112.7,282.1L1137.8,333.4L1193.8,309L1168.7,250.7Z" fill="#c0c0c0"/><path d="M690.5,766.4L717,760.4L768.9,540.4L742.4,548.5Z" fill="#c0c0c0"/><path d="M1006.6,284.4L1032.1,314.9L1087.3,238.8L1061.8,203.5Z" fill="#c0c0c0"/><path d="M795.3,537.3L821.5,539.1L874.6,365L848.4,363Z" fill="#c0c0c0"/><path d="M1193.8,309L1218.7,376.2L1275.4,395.8L1250.6,320.7Z" fill="#c0c0c0"/><path d="M900.7,373L926.6,387L980.9,260.9L955,244.4Z" fill="#c0c0c0"/><path d="M1520.9,1016.3L1544.2,1166.5L1602.4,1341.8L1579.4,1179.7Z" fill="#c0c0c0"/><path d="M1275.4,395.8L1299.9,481L1357.2,542.8L1332.7,448.7Z" fill="#c0c0c0"/><path d="M1439.1,749.8L1462.8,876.5L1520.9,1016.3L1497.3,878.6Z" fill="#c0c0c0"/><path d="M1357.2,542.8L1381.4,647.8L1439.1,749.8L1415,634.8Z" fill="#c0c0c0"/><path d="M663.8,776.2L690.5,766.4L742.4,548.5L715.7,561.6Z" fill="#c0c0c0"/><path d="M1087.3,238.8L1112.7,282.1L1168.7,250.7L1143.5,201.6Z" fill="#c0c0c0"/><path d="M768.9,540.4L795.3,537.3L848.4,363L822,367.1Z" fill="#c0c0c0"/><path d="M980.9,260.9L1006.6,284.4L1061.8,203.5L1036.1,176.5Z" fill="#c0c0c0"/><path d="M874.6,365L900.7,373L955,244.4L928.9,235.2Z" fill="#c0c0c0"/><path d="M1168.7,250.7L1193.8,309L1250.6,320.7L1225.6,255.6Z" fill="#c0c0c0"/><path d="M1579.4,1179.7L1602.4,1341.8L1638.4,1363.4Z" fill="#c0c0c0" stroke="none"/><path d="M1579.4,1179.7L1602.4,1341.8M1638.4,1363.4L1579.4,1179.7" fill="none"/><path d="M1250.6,320.7L1275.4,395.8L1332.7,448.7L1308.1,365.6Z" fill="#c0c0c0"/><path d="M637,789.9L663.8,776.2L715.7,561.6L688.8,579.7Z" fill="#c0c0c0"/><path d="M1497.3,878.6L1520.9,1016.3L1579.4,1179.7L1556.1,1031.2Z" fill="#c0c0c0"/><path d="M1332.7,448.7L1357.2,542.8L1415,634.8L1390.8,531.8Z" fill="#c0c0c0"/><path d="M1061.8,203.5L1087.3,238.8L1143.5,201.6L1118,161.8Z" fill="#c0c0c0"/><path d="M1415,634.8L1439.1,749.8L1497.3,878.6L1473.5,753.7Z" fill="#c0c0c0"/><path d="M742.4,548.5L768.9,540.4L822,367.1L795.5,377.5Z" fill="#c0c0c0"/><path d="M955,244.4L980.9,260.9L1036.1,176.5L1010.3,157.7Z" fill="#c0c0c0"/><path d="M848.4,363L874.6,365L928.9,235.2L902.7,233.2Z" fill="#c0c0c0"/><path d="M1143.5,201.6L1168.7,250.7L1225.6,255.6L1200.4,200.8Z" fill="#c0c0c0"/><path d="M610,807.4L637,789.9L688.8,579.7L661.8,603Z" fill="#c0c0c0"/><path d="M1225.6,255.6L1250.6,320.7L1308.1,365.6L1283.2,293.8Z" fill="#c0c0c0"/><path d="M1556.1,1031.2L1579.4,1179.7L1638.4,1363.4L1615.3,1204.1Z" fill="#c0c0c0"/><path d="M1036.1,176.5L1061.8,203.5L1118,161.8L1092.3,131.3Z" fill="#c0c0c0"/><path d="M715.7,561.6L742.4,548.5L795.5,377.5L768.8,394Z" fill="#c0c0c0"/><path d="M1308.1,365.6L1332.7,448.7L1390.8,531.8L1366.2,440.9Z" fill="#c0c0c0"/><path d="M1473.5,753.7L1497.3,878.6L1556.1,1031.2L1532.5,896.5Z" fill="#c0c0c0"/><path d="M928.9,235.2L955,244.4L1010.3,157.7L984.2,147.4Z" fill="#c0c0c0"/><path d="M822,367.1L848.4,363L902.7,233.2L876.3,238.5Z" fill="#c0c0c0"/><path d="M1390.8,531.8L1415,634.8L1473.5,753.7L1449.4,641.9Z" fill="#c0c0c0"/><path d="M582.8,828.8L610,807.4L661.8,603L634.7,631.4Z" fill="#c0c0c0"/><path d="M1118,161.8L1143.5,201.6L1200.4,200.8L1175,156.5Z" fill="#c0c0c0"/><path d="M688.8,579.7L715.7,561.6L768.8,394L741.9,416.9Z" fill="#c0c0c0"/><path d="M1010.3,157.7L1036.1,176.5L1092.3,131.3L1066.5,110.4Z" fill="#c0c0c0"/><path d="M1200.4,200.8L1225.6,255.6L1283.2,293.8L1258.1,233.5Z" fill="#c0c0c0"/><path d="M1615.3,1204.1L1638.4,1363.4L1675,1394.1Z" fill="#c0c0c0" stroke="none"/><path d="M1615.3,1204.1L1638.4,1363.4M1675,1394.1L1615.3,1204.1" fill="none"/><path d="M795.5,377.5L822,367.1L876.3,238.5L849.8,251.3Z" fill="#c0c0c0"/><path d="M902.7,233.2L928.9,235.2L984.2,147.4L958,145.5Z" fill="#c0c0c0"/><path d="M1532.5,896.5L1556.1,1031.2L1615.3,1204.1L1591.9,1059.7Z" fill="#c0c0c0"/><path d="M1283.2,293.8L1308.1,365.6L1366.2,440.9L1341.5,362.5Z" fill="#c0c0c0"/><path d="M555.5,854.2L582.8,828.8L634.7,631.4L607.4,665Z" fill="#c0c0c0"/><path d="M1449.4,641.9L1473.5,753.7L1532.5,896.5L1508.6,775.9Z" fill="#c0c0c0"/><path d="M1366.2,440.9L1390.8,531.8L1449.4,641.9L1425,543.4Z" fill="#c0c0c0"/><path d="M1092.3,131.3L1118,161.8L1175,156.5L1149.4,122.7Z" fill="#c0c0c0"/><path d="M661.8,603L688.8,579.7L741.9,416.9L715,446.2Z" fill="#c0c0c0"/><path d="M984.2,147.4L1010.3,157.7L1066.5,110.4L1040.5,99.1Z" fill="#c0c0c0"/><path d="M768.8,394L795.5,377.5L849.8,251.3L823.1,271.6Z" fill="#c0c0c0"/><path d="M876.3,238.5L902.7,233.2L958,145.5L931.7,152.2Z" fill="#c0c0c0"/><path d="M1175,156.5L1200.4,200.8L1258.1,233.5L1232.8,184.8Z" fill="#c0c0c0"/><path d="M528,883.5L555.5,854.2L607.4,665L580,703.9Z" fill="#c0c0c0"/><path d="M1591.9,1059.7L1615.3,1204.1L1675,1394.1L1651.9,1240.1Z" fill="#c0c0c0"/><path d="M1258.1,233.5L1283.2,293.8L1341.5,362.5L1316.5,296.6Z" fill="#c0c0c0"/><path d="M1508.6,775.9L1532.5,896.5L1591.9,1059.7L1568.3,930.5Z" fill="#c0c0c0"/><path d="M1066.5,110.4L1092.3,131.3L1149.4,122.7L1123.6,99.7Z" fill="#c0c0c0"/><path d="M634.7,631.4L661.8,603L715,446.2L687.8,481.9Z" fill="#c0c0c0"/><path d="M1341.5,362.5L1366.2,440.9L1425,543.4L1400.4,458.4Z" fill="#c0c0c0"/><path d="M1425,543.4L1449.4,641.9L1508.6,775.9L1484.4,669.8Z" fill="#c0c0c0"/><path d="M741.9,416.9L768.8,394L823.1,271.6L796.3,299.5Z" fill="#c0c0c0"/><path d="M958,145.5L984.2,147.4L1040.5,99.1L1014.3,97.5Z" fill="#c0c0c0"/><path d="M849.8,251.3L876.3,238.5L931.7,152.2L905.2,167.7Z" fill="#c0c0c0"/><path d="M500.4,916.9L528,883.5L580,703.9L552.4,748Z" fill="#c0c0c0"/><path d="M1149.4,122.7L1175,156.5L1232.8,184.8L1207.3,147.8Z" fill="#c0c0c0"/><path d="M1651.9,1240.1L1675,1394.1L1712.4,1434.2Z" fill="#c0c0c0" stroke="none"/><path d="M1651.9,1240.1L1675,1394.1M1712.4,1434.2L1651.9,1240.1" fill="none"/><path d="M607.4,665L634.7,631.4L687.8,481.9L660.6,524.1Z" fill="#c0c0c0"/><path d="M1232.8,184.8L1258.1,233.5L1316.5,296.6L1291.3,243.6Z" fill="#c0c0c0"/><path d="M1040.5,99.1L1066.5,110.4L1123.6,99.7L1097.7,87.6Z" fill="#c0c0c0"/><path d="M1568.3,930.5L1591.9,1059.7L1651.9,1240.1L1628.5,1102.3Z" fill="#c0c0c0"/><path d="M715,446.2L741.9,416.9L796.3,299.5L769.3,335Z" fill="#c0c0c0"/><path d="M1316.5,296.6L1341.5,362.5L1400.4,458.4L1375.6,387.1Z" fill="#c0c0c0"/><path d="M931.7,152.2L958,145.5L1014.3,97.5L988,105.8Z" fill="#c0c0c0"/><path d="M823.1,271.6L849.8,251.3L905.2,167.7L878.5,191.9Z" fill="#c0c0c0"/><path d="M1484.4,669.8L1508.6,775.9L1568.3,930.5L1544.3,816.8Z" fill="#c0c0c0"/><path d="M1400.4,458.4L1425,543.4L1484.4,669.8L1460,578.3Z" fill="#c0c0c0"/><path d="M472.6,954.3L500.4,916.9L552.4,748L524.7,797.6Z" fill="#c0c0c0"/><path d="M1123.6,99.7L1149.4,122.7L1207.3,147.8L1181.6,122.9Z" fill="#c0c0c0"/><path d="M580,703.9L607.4,665L660.6,524.1L633.2,572.8Z" fill="#c0c0c0"/><path d="M1014.3,97.5L1040.5,99.1L1097.7,87.6L1071.6,86.4Z" fill="#c0c0c0"/><path d="M687.8,481.9L715,446.2L769.3,335L742.2,378.3Z" fill="#c0c0c0"/><path d="M1207.3,147.8L1232.8,184.8L1291.3,243.6L1265.9,203.6Z" fill="#c0c0c0"/><path d="M796.3,299.5L823.1,271.6L878.5,191.9L851.7,225Z" fill="#c0c0c0"/><path d="M905.2,167.7L931.7,152.2L988,105.8L961.5,124Z" fill="#c0c0c0"/><path d="M444.7,995.8L472.6,954.3L524.7,797.6L496.8,852.5Z" fill="#c0c0c0"/><path d="M1628.5,1102.3L1651.9,1240.1L1712.4,1434.2L1689.2,1287.9Z" fill="#c0c0c0"/><path d="M1291.3,243.6L1316.5,296.6L1375.6,387.1L1350.5,330Z" fill="#c0c0c0"/><path d="M1544.3,816.8L1568.3,930.5L1628.5,1102.3L1604.8,981.1Z" fill="#c0c0c0"/><path d="M1375.6,387.1L1400.4,458.4L1460,578.3L1435.3,501.8Z" fill="#c0c0c0"/><path d="M1460,578.3L1484.4,669.8L1544.3,816.8L1520.1,719Z" fill="#c0c0c0"/><path d="M552.4,748L580,703.9L633.2,572.8L605.7,628.2Z" fill="#c0c0c0"/><path d="M1097.7,87.6L1123.6,99.7L1181.6,122.9L1155.7,110Z" fill="#c0c0c0"/><path d="M660.6,524.1L687.8,481.9L742.2,378.3L715,429.3Z" fill="#c0c0c0"/><path d="M988,105.8L1014.3,97.5L1071.6,86.4L1045.3,96.5Z" fill="url(#g1)"/><path d="M416.7,1041.5L444.7,995.8L496.8,852.5L468.9,912.8Z" fill="#c0c0c0"/><path d="M769.3,335L796.3,299.5L851.7,225L824.8,267Z" fill="url(#g2)"/><path d="M878.5,191.9L905.2,167.7L961.5,124L934.9,152.4Z" fill="url(#g3)"/><path d="M1181.6,122.9L1207.3,147.8L1265.9,203.6L1240.3,176.9Z" fill="#c0c0c0"/><path d="M1689.2,1287.9L1712.4,1434.2L1750.4,1483.8Z" fill="#c0c0c0" stroke="none"/><path d="M1689.2,1287.9L1712.4,1434.2M1750.4,1483.8L1689.2,1287.9" fill="none"/><path d="M524.7,797.6L552.4,748L605.7,628.2L578,690.2Z" fill="#c0c0c0"/><path d="M1265.9,203.6L1291.3,243.6L1350.5,330L1325.2,287Z" fill="#c0c0c0"/><path d="M1604.8,981.1L1628.5,1102.3L1689.2,1287.9L1665.7,1159.3Z" fill="#c0c0c0"/><path d="M1071.6,86.4L1097.7,87.6L1155.7,110L1129.7,109.5Z" fill="url(#g4)"/><path d="M633.2,572.8L660.6,524.1L715,429.3L687.7,488.2Z" fill="url(#g5)"/><path d="M1350.5,330L1375.6,387.1L1435.3,501.8L1410.4,440.5Z" fill="#c0c0c0"/><path d="M1520.1,719L1544.3,816.8L1604.8,981.1L1580.7,877Z" fill="#c0c0c0"/><path d="M1435.3,501.8L1460,578.3L1520.1,719L1495.6,637.2Z" fill="#c0c0c0"/><path d="M388.5,1091.3L416.7,1041.5L468.9,912.8L440.8,978.6Z" fill="#c0c0c0"/><path d="M961.5,124L988,105.8L1045.3,96.5L1018.9,117.7Z" fill="url(#g6)"/><path d="M742.2,378.3L769.3,335L824.8,267L797.7,318.1Z" fill="url(#g7)"/><path d="M851.7,225L878.5,191.9L934.9,152.4L908.2,190.9Z" fill="url(#g8)"/><path d="M1155.7,110L1181.6,122.9L1240.3,176.9L1214.5,163.4Z" fill="url(#g9)"/><path d="M496.8,852.5L524.7,797.6L578,690.2L550.3,758.9Z" fill="url(#g10)"/><path d="M605.7,628.2L633.2,572.8L687.7,488.2L660.2,555Z" fill="url(#g11)"/><path d="M1240.3,176.9L1265.9,203.6L1325.2,287L1299.7,258.5Z" fill="url(#g12)"/><path d="M1045.3,96.5L1071.6,86.4L1129.7,109.5L1103.4,121.4Z" fill="url(#g13)"/><path d="M360.1,1145.3L388.5,1091.3L440.8,978.6L412.6,1050Z" fill="url(#g14)"/><path d="M1665.7,1159.3L1689.2,1287.9L1750.4,1483.8L1727.2,1347.9Z" fill="#c0c0c0"/><path d="M715,429.3L742.2,378.3L797.7,318.1L770.6,378.3Z" fill="url(#g15)"/><path d="M934.9,152.4L961.5,124L1018.9,117.7L992.3,150.3Z" fill="url(#g16)"/><path d="M1325.2,287L1350.5,330L1410.4,440.5L1385.2,394.7Z" fill="url(#g17)"/><path d="M824.8,267L851.7,225L908.2,190.9L881.3,239.7Z" fill="url(#g18)"/><path d="M1580.7,877L1604.8,981.1L1665.7,1159.3L1641.9,1048.9Z" fill="#c0c0c0"/><path d="M1410.4,440.5L1435.3,501.8L1495.6,637.2L1470.8,571.9Z" fill="#c0c0c0"/><path d="M468.9,912.8L496.8,852.5L550.3,758.9L522.4,834.3Z" fill="url(#g19)"/><path d="M1495.6,637.2L1520.1,719L1580.7,877L1556.4,790.1Z" fill="#c0c0c0"/><path d="M1129.7,109.5L1155.7,110L1214.5,163.4L1188.5,163.6Z" fill="url(#g20)"/><path d="M578,690.2L605.7,628.2L660.2,555L632.7,629.8Z" fill="url(#g21)"/><path d="M331.6,1203.5L360.1,1145.3L412.6,1050L384.2,1126.9Z" fill="url(#g22)"/><path d="M1018.9,117.7L1045.3,96.5L1103.4,121.4L1077.1,145.8Z" fill="url(#g23)"/><path d="M687.7,488.2L715,429.3L770.6,378.3L743.3,447.6Z" fill="url(#g24)"/><path d="M1214.5,163.4L1240.3,176.9L1299.7,258.5L1274,244.6Z" fill="url(#g25)"/><path d="M908.2,190.9L934.9,152.4L992.3,150.3L965.6,194.5Z" fill="url(#g26)"/><path d="M797.7,318.1L824.8,267L881.3,239.7L854.3,298.8Z" fill="url(#g27)"/><path d="M440.8,978.6L468.9,912.8L522.4,834.3L494.5,916.6Z" fill="url(#g28)"/><path d="M1727.2,1347.9L1750.4,1483.8L1789.2,1543.4Z" fill="#c0c0c0" stroke="none"/><path d="M1727.2,1347.9L1750.4,1483.8M1789.2,1543.4L1727.2,1347.9" fill="none"/><path d="M1299.7,258.5L1325.2,287L1385.2,394.7L1359.8,364.5Z" fill="url(#g29)"/><path d="M1641.9,1048.9L1665.7,1159.3L1727.2,1347.9L1703.6,1231.3Z" fill="#c0c0c0"/><path d="M550.3,758.9L578,690.2L632.7,629.8L605,712.7Z" fill="url(#g30)"/><path d="M1103.4,121.4L1129.7,109.5L1188.5,163.6L1162.4,177.4Z" fill="url(#g31)"/><path d="M1385.2,394.7L1410.4,440.5L1470.8,571.9L1445.8,523.3Z" fill="url(#g32)"/><path d="M1556.4,790.1L1580.7,877L1641.9,1048.9L1617.8,957Z" fill="#c0c0c0"/><path d="M1470.8,571.9L1495.6,637.2L1556.4,790.1L1531.8,720.9Z" fill="#c0c0c0"/><path d="M303,1266L331.6,1203.5L384.2,1126.9L355.8,1209.4Z" fill="url(#g33)"/><path d="M660.2,555L687.7,488.2L743.3,447.6L715.9,526.2Z" fill="url(#g34)"/><path d="M992.3,150.3L1018.9,117.7L1077.1,145.8L1050.6,182.9Z" fill="url(#g35)"/><path d="M770.6,378.3L797.7,318.1L854.3,298.8L827.2,368.3Z" fill="url(#g36)"/><path d="M881.3,239.7L908.2,190.9L965.6,194.5L938.8,250.2Z" fill="url(#g37)"/><path d="M412.6,1050L440.8,978.6L494.5,916.6L466.4,1005.7Z" fill="url(#g38)"/><path d="M1188.5,163.6L1214.5,163.4L1274,244.6L1248.1,245.6Z" fill="url(#g39)"/><path d="M522.4,834.3L550.3,758.9L605,712.7L577.2,803.6Z" fill="url(#g40)"/><path d="M1274,244.6L1299.7,258.5L1359.8,364.5L1334.2,350.3Z" fill="url(#g41)"/><path d="M274.2,1332.8L303,1266L355.8,1209.4L327.2,1297.5Z" fill="url(#g42)"/><path d="M1077.1,145.8L1103.4,121.4L1162.4,177.4L1136.1,205.1Z" fill="url(#g43)"/><path d="M632.7,629.8L660.2,555L715.9,526.2L688.4,614.1Z" fill="url(#g44)"/><path d="M1703.6,1231.3L1727.2,1347.9L1789.2,1543.4L1765.9,1420.5Z" fill="#c0c0c0"/><path d="M1359.8,364.5L1385.2,394.7L1445.8,523.3L1420.5,491.6Z" fill="url(#g45)"/><path d="M743.3,447.6L770.6,378.3L827.2,368.3L799.9,448.4Z" fill="url(#g46)"/><path d="M965.6,194.5L992.3,150.3L1050.6,182.9L1023.9,232.7Z" fill="url(#g47)"/><path d="M384.2,1126.9L412.6,1050L466.4,1005.7L438.2,1101.6Z" fill="url(#g48)"/><path d="M854.3,298.8L881.3,239.7L938.8,250.2L911.8,317.5Z" fill="url(#g49)"/><path d="M1617.8,957L1641.9,1048.9L1703.6,1231.3L1679.7,1134.3Z" fill="#c0c0c0"/><path d="M245.3,1403.9L274.2,1332.8L327.2,1297.5Z" fill="url(#g50)" stroke="none"/><path d="M245.3,1403.9L274.2,1332.8M274.2,1332.8L327.2,1297.5" fill="none"/><path d="M1445.8,523.3L1470.8,571.9L1531.8,720.9L1506.9,669.5Z" fill="url(#g51)"/><path d="M1531.8,720.9L1556.4,790.1L1617.8,957L1593.4,883.8Z" fill="#c0c0c0"/><path d="M1162.4,177.4L1188.5,163.6L1248.1,245.6L1222.1,261.5Z" fill="url(#g52)"/><path d="M494.5,916.6L522.4,834.3L577.2,803.6L549.4,902.6Z" fill="url(#g53)"/><path d="M605,712.7L632.7,629.8L688.4,614.1L660.8,711.4Z" fill="url(#g54)"/><path d="M1050.6,182.9L1077.1,145.8L1136.1,205.1L1109.6,246.8Z" fill="url(#g55)"/><path d="M1248.1,245.6L1274,244.6L1334.2,350.3L1308.4,352.2Z" fill="url(#g56)"/><path d="M715.9,526.2L743.3,447.6L799.9,448.4L772.6,539Z" fill="url(#g57)"/><path d="M355.8,1209.4L384.2,1126.9L438.2,1101.6L410,1204.5Z" fill="url(#g58)"/><path d="M938.8,250.2L965.6,194.5L1023.9,232.7L997.1,295.5Z" fill="url(#g59)"/><path d="M827.2,368.3L854.3,298.8L911.8,317.5L884.7,396.6Z" fill="url(#g60)"/><path d="M1334.2,350.3L1359.8,364.5L1420.5,491.6L1395,477.1Z" fill="url(#g61)"/><path d="M466.4,1005.7L494.5,916.6L549.4,902.6L521.5,1009.8Z" fill="url(#g62)"/><path d="M1765.9,1420.5L1789.2,1543.4L1828.7,1613.1Z" fill="#c0c0c0" stroke="none"/><path d="M1765.9,1420.5L1789.2,1543.4M1828.7,1613.1L1765.9,1420.5" fill="none"/><path d="M327.2,1297.5L355.8,1209.4L410,1204.5Z" fill="url(#g63)" stroke="none"/><path d="M327.2,1297.5L355.8,1209.4M355.8,1209.4L410,1204.5" fill="none"/><path d="M1136.1,205.1L1162.4,177.4L1222.1,261.5L1195.8,292.7Z" fill="url(#g64)"/><path d="M1420.5,491.6L1445.8,523.3L1506.9,669.5L1481.8,636.4Z" fill="url(#g65)"/><path d="M1679.7,1134.3L1703.6,1231.3L1765.9,1420.5L1742.2,1318.5Z" fill="#c0c0c0"/><path d="M577.2,803.6L605,712.7L660.8,711.4L633.2,818Z" fill="url(#g66)"/><path d="M1506.9,669.5L1531.8,720.9L1593.4,883.8L1568.7,829.8Z" fill="url(#g67)"/><path d="M1593.4,883.8L1617.8,957L1679.7,1134.3L1655.5,1057.3Z" fill="#c0c0c0"/><path d="M688.4,614.1L715.9,526.2L772.6,539L745.2,640.2Z" fill="url(#g68)"/><path d="M1023.9,232.7L1050.6,182.9L1109.6,246.8L1083,302.7Z" fill="url(#g69)"/><path d="M799.9,448.4L827.2,368.3L884.7,396.6L857.6,487.6Z" fill="url(#g70)"/><path d="M911.8,317.5L938.8,250.2L997.1,295.5L970.2,371.3Z" fill="url(#g71)"/><path d="M1222.1,261.5L1248.1,245.6L1308.4,352.2L1282.4,370.4Z" fill="url(#g72)"/><path d="M438.2,1101.6L466.4,1005.7L521.5,1009.8L493.4,1125.2Z" fill="url(#g73)"/><path d="M549.4,902.6L577.2,803.6L633.2,818L605.5,934.1Z" fill="url(#g74)"/><path d="M1308.4,352.2L1334.2,350.3L1395,477.1L1369.4,480Z" fill="url(#g75)"/><path d="M410,1204.5L438.2,1101.6L493.4,1125.2Z" fill="url(#g76)" stroke="none"/><path d="M410,1204.5L438.2,1101.6M438.2,1101.6L493.4,1125.2" fill="none"/><path d="M1109.6,246.8L1136.1,205.1L1195.8,292.7L1169.4,339.1Z" fill="url(#g77)"/><path d="M660.8,711.4L688.4,614.1L745.2,640.2L717.7,752.2Z" fill="url(#g78)"/><path d="M1395,477.1L1420.5,491.6L1481.8,636.4L1456.5,621.7Z" fill="url(#g79)"/><path d="M997.1,295.5L1023.9,232.7L1083,302.7L1056.3,372.7Z" fill="url(#g80)"/><path d="M772.6,539L799.9,448.4L857.6,487.6L830.3,590.4Z" fill="url(#g81)"/><path d="M1742.2,1318.5L1765.9,1420.5L1828.7,1613.1L1805.3,1506Z" fill="#c0c0c0"/><path d="M884.7,396.6L911.8,317.5L970.2,371.3L943.2,460.2Z" fill="url(#g82)"/><path d="M1481.8,636.4L1506.9,669.5L1568.7,829.8L1543.7,795.2Z" fill="url(#g83)"/><path d="M1655.5,1057.3L1679.7,1134.3L1742.2,1318.5L1718.2,1237.6Z" fill="#c0c0c0"/><path d="M1568.7,829.8L1593.4,883.8L1655.5,1057.3L1631,1000.6Z" fill="url(#g84)"/><path d="M1195.8,292.7L1222.1,261.5L1282.4,370.4L1256.3,405Z" fill="url(#g85)"/><path d="M521.5,1009.8L549.4,902.6L605.5,934.1L577.7,1059.7Z" fill="url(#g86)"/><path d="M633.2,818L660.8,711.4L717.7,752.2L690.2,874.8Z" fill="url(#g87)"/><path d="M1083,302.7L1109.6,246.8L1169.4,339.1L1142.9,401Z" fill="url(#g88)"/><path d="M493.4,1125.2L521.5,1009.8L577.7,1059.7Z" fill="url(#g89)" stroke="none"/><path d="M493.4,1125.2L521.5,1009.8M521.5,1009.8L577.7,1059.7" fill="none"/><path d="M1282.4,370.4L1308.4,352.2L1369.4,480L1343.5,500.5Z" fill="url(#g90)"/><path d="M745.2,640.2L772.6,539L830.3,590.4L803,705.3Z" fill="url(#g91)"/><path d="M970.2,371.3L997.1,295.5L1056.3,372.7L1029.5,457.1Z" fill="url(#g92)"/><path d="M857.6,487.6L884.7,396.6L943.2,460.2L916.1,562.3Z" fill="url(#g93)"/><path d="M1369.4,480L1395,477.1L1456.5,621.7L1430.9,625.7Z" fill="url(#g94)"/><path d="M1169.4,339.1L1195.8,292.7L1256.3,405L1230,456.3Z" fill="url(#g95)"/><path d="M1456.5,621.7L1481.8,636.4L1543.7,795.2L1518.5,780.4Z" fill="url(#g96)"/><path d="M605.5,934.1L633.2,818L690.2,874.8L662.6,1008.2Z" fill="url(#g97)"/><path d="M1805.3,1506L1828.7,1613.1L1868.9,1693.2Z" fill="#c0c0c0" stroke="none"/><path d="M1805.3,1506L1828.7,1613.1M1868.9,1693.2L1805.3,1506" fill="none"/><path d="M1718.2,1237.6L1742.2,1318.5L1805.3,1506L1781.5,1421.3Z" fill="#c0c0c0"/><path d="M1543.7,795.2L1568.7,829.8L1631,1000.6L1606.2,964.7Z" fill="url(#g98)"/><path d="M1631,1000.6L1655.5,1057.3L1718.2,1237.6L1693.9,1178.4Z" fill="url(#g99)"/><path d="M717.7,752.2L745.2,640.2L803,705.3L775.6,832.1Z" fill="url(#g100)"/><path d="M1056.3,372.7L1083,302.7L1142.9,401L1116.3,478.4Z" fill="url(#g101)"/><path d="M577.7,1059.7L605.5,934.1L662.6,1008.2Z" fill="url(#g102)" stroke="none"/><path d="M577.7,1059.7L605.5,934.1M605.5,934.1L662.6,1008.2" fill="none"/><path d="M830.3,590.4L857.6,487.6L916.1,562.3L889,677.5Z" fill="url(#g103)"/><path d="M943.2,460.2L970.2,371.3L1029.5,457.1L1002.5,555.9Z" fill="url(#g104)"/><path d="M1256.3,405L1282.4,370.4L1343.5,500.5L1317.4,538.8Z" fill="url(#g105)"/><path d="M1343.5,500.5L1369.4,480L1430.9,625.7L1405.1,648.5Z" fill="url(#g106)"/><path d="M1142.9,401L1169.4,339.1L1230,456.3L1203.5,524.3Z" fill="url(#g107)"/><path d="M690.2,874.8L717.7,752.2L775.6,832.1L748.2,970.9Z" fill="url(#g108)"/><path d="M803,705.3L830.3,590.4L889,677.5L861.7,806.1Z" fill="url(#g109)"/><path d="M1029.5,457.1L1056.3,372.7L1116.3,478.4L1089.5,571.5Z" fill="url(#g110)"/><path d="M1430.9,625.7L1456.5,621.7L1518.5,780.4L1493.1,785.5Z" fill="url(#g111)"/><path d="M916.1,562.3L943.2,460.2L1002.5,555.9L975.5,669.2Z" fill="url(#g112)"/><path d="M662.6,1008.2L690.2,874.8L748.2,970.9Z" fill="url(#g113)" stroke="none"/><path d="M662.6,1008.2L690.2,874.8M690.2,874.8L748.2,970.9" fill="none"/><path d="M1518.5,780.4L1543.7,795.2L1606.2,964.7L1581.1,949.8Z" fill="url(#g114)"/><path d="M1230,456.3L1256.3,405L1317.4,538.8L1291.2,595Z" fill="url(#g115)"/><path d="M1781.5,1421.3L1805.3,1506L1868.9,1693.2L1845.4,1604.7Z" fill="#c0c0c0"/><path d="M1606.2,964.7L1631,1000.6L1693.9,1178.4L1669.3,1141.1Z" fill="url(#g116)"/><path d="M1693.9,1178.4L1718.2,1237.6L1781.5,1421.3L1757.4,1359.5Z" fill="url(#g117)"/><path d="M1116.3,478.4L1142.9,401L1203.5,524.3L1176.9,609.3Z" fill="url(#g118)"/><path d="M775.6,832.1L803,705.3L861.7,806.1L834.4,948Z" fill="url(#g119)"/><path d="M1317.4,538.8L1343.5,500.5L1405.1,648.5L1379.2,690.5Z" fill="url(#g120)"/><path d="M1002.5,555.9L1029.5,457.1L1089.5,571.5L1062.6,680.4Z" fill="url(#g121)"/><path d="M889,677.5L916.1,562.3L975.5,669.2L948.4,797Z" fill="url(#g122)"/><path d="M748.2,970.9L775.6,832.1L834.4,948Z" fill="url(#g123)" stroke="none"/><path d="M748.2,970.9L775.6,832.1M775.6,832.1L834.4,948" fill="none"/><path d="M1405.1,648.5L1430.9,625.7L1493.1,785.5L1467.4,810.9Z" fill="url(#g124)"/><path d="M1203.5,524.3L1230,456.3L1291.2,595L1264.8,669.4Z" fill="url(#g125)"/><path d="M1493.1,785.5L1518.5,780.4L1581.1,949.8L1555.8,956.1Z" fill="url(#g126)"/><path d="M1089.5,571.5L1116.3,478.4L1176.9,609.3L1150.2,711.2Z" fill="url(#g127)"/><path d="M861.7,806.1L889,677.5L948.4,797L921.2,939.5Z" fill="url(#g128)"/><path d="M975.5,669.2L1002.5,555.9L1062.6,680.4L1035.6,805Z" fill="url(#g129)"/><path d="M1581.1,949.8L1606.2,964.7L1669.3,1141.1L1644.4,1126.1Z" fill="url(#g130)"/><path d="M1845.4,1604.7L1868.9,1693.2L1909.9,1784Z" fill="#c0c0c0" stroke="none"/><path d="M1845.4,1604.7L1868.9,1693.2M1909.9,1784L1845.4,1604.7" fill="none"/><path d="M1669.3,1141.1L1693.9,1178.4L1757.4,1359.5L1732.9,1320.9Z" fill="url(#g131)"/><path d="M1757.4,1359.5L1781.5,1421.3L1845.4,1604.7L1821.4,1540.3Z" fill="url(#g132)"/><path d="M1291.2,595L1317.4,538.8L1379.2,690.5L1353,751.8Z" fill="url(#g133)"/><path d="M834.4,948L861.7,806.1L921.2,939.5Z" fill="url(#g134)" stroke="none"/><path d="M834.4,948L861.7,806.1M861.7,806.1L921.2,939.5" fill="none"/><path d="M1176.9,609.3L1203.5,524.3L1264.8,669.4L1238.2,761.9Z" fill="url(#g135)"/><path d="M1379.2,690.5L1405.1,648.5L1467.4,810.9L1441.5,856.7Z" fill="url(#g136)"/><path d="M1062.6,680.4L1089.5,571.5L1150.2,711.2L1123.4,830.3Z" fill="url(#g137)"/><path d="M948.4,797L975.5,669.2L1035.6,805L1008.6,945.6Z" fill="url(#g138)"/><path d="M1467.4,810.9L1493.1,785.5L1555.8,956.1L1530.2,984Z" fill="url(#g139)"/><path d="M1264.8,669.4L1291.2,595L1353,751.8L1326.7,832.5Z" fill="url(#g140)"/><path d="M921.2,939.5L948.4,797L1008.6,945.6Z" fill="url(#g141)" stroke="none"/><path d="M921.2,939.5L948.4,797M948.4,797L1008.6,945.6" fill="none"/><path d="M1555.8,956.1L1581.1,949.8L1644.4,1126.1L1619.2,1133.7Z" fill="url(#g142)"/><path d="M1150.2,711.2L1176.9,609.3L1238.2,761.9L1211.6,872.8Z" fill="url(#g143)"/><path d="M1644.4,1126.1L1669.3,1141.1L1732.9,1320.9L1708.2,1305.9Z" fill="url(#g144)"/><path d="M1035.6,805L1062.6,680.4L1123.4,830.3L1096.4,966.5Z" fill="url(#g145)"/><path d="M1732.9,1320.9L1757.4,1359.5L1821.4,1540.3L1797.2,1500.3Z" fill="url(#g146)"/><path d="M1821.4,1540.3L1845.4,1604.7L1909.9,1784L1886.2,1717Z" fill="#c0c0c0"/><path d="M1353,751.8L1379.2,690.5L1441.5,856.7L1415.4,923Z" fill="url(#g147)"/><path d="M1008.6,945.6L1035.6,805L1096.4,966.5Z" fill="url(#g148)" stroke="none"/><path d="M1008.6,945.6L1035.6,805M1035.6,805L1096.4,966.5" fill="none"/><path d="M1238.2,761.9L1264.8,669.4L1326.7,832.5L1300.2,932.7Z" fill="url(#g149)"/><path d="M1441.5,856.7L1467.4,810.9L1530.2,984L1504.5,1033.6Z" fill="url(#g150)"/><path d="M1123.4,830.3L1150.2,711.2L1211.6,872.8L1184.8,1002.1Z" fill="url(#g151)"/><path d="M1530.2,984L1555.8,956.1L1619.2,1133.7L1593.7,1164.1Z" fill="url(#g152)"/><path d="M1326.7,832.5L1353,751.8L1415.4,923L1389.2,1010.2Z" fill="url(#g153)"/><path d="M1096.4,966.5L1123.4,830.3L1184.8,1002.1Z" fill="url(#g154)" stroke="none"/><path d="M1096.4,966.5L1123.4,830.3M1123.4,830.3L1184.8,1002.1" fill="none"/><path d="M1619.2,1133.7L1644.4,1126.1L1708.2,1305.9L1683.1,1314.7Z" fill="url(#g155)"/><path d="M1708.2,1305.9L1732.9,1320.9L1797.2,1500.3L1772.6,1485.2Z" fill="url(#g156)"/><path d="M1211.6,872.8L1238.2,761.9L1300.2,932.7L1273.6,1052.7Z" fill="url(#g157)"/><path d="M1797.2,1500.3L1821.4,1540.3L1886.2,1717L1862.1,1675.7Z" fill="url(#g158)"/><path d="M1886.2,1717L1909.9,1784L1951.6,1885.9Z" fill="#c0c0c0" stroke="none"/><path d="M1886.2,1717L1909.9,1784M1951.6,1885.9L1886.2,1717" fill="none"/><path d="M1415.4,923L1441.5,856.7L1504.5,1033.6L1478.4,1105.1Z" fill="url(#g159)"/><path d="M1184.8,1002.1L1211.6,872.8L1273.6,1052.7Z" fill="url(#g160)" stroke="none"/><path d="M1184.8,1002.1L1211.6,872.8M1211.6,872.8L1273.6,1052.7" fill="none"/><path d="M1504.5,1033.6L1530.2,984L1593.7,1164.1L1568,1217.6Z" fill="url(#g161)"/><path d="M1300.2,932.7L1326.7,832.5L1389.2,1010.2L1362.7,1118.2Z" fill="url(#g162)"/><path d="M1593.7,1164.1L1619.2,1133.7L1683.1,1314.7L1657.7,1347.7Z" fill="url(#g163)"/><path d="M1273.6,1052.7L1300.2,932.7L1362.7,1118.2Z" fill="url(#g164)" stroke="none"/><path d="M1273.6,1052.7L1300.2,932.7M1300.2,932.7L1362.7,1118.2" fill="none"/><path d="M1389.2,1010.2L1415.4,923L1478.4,1105.1L1452.2,1198.8Z" fill="url(#g165)"/><path d="M1683.1,1314.7L1708.2,1305.9L1772.6,1485.2L1747.6,1495.4Z" fill="url(#g166)"/><path d="M1772.6,1485.2L1797.2,1500.3L1862.1,1675.7L1837.6,1660.5Z" fill="url(#g167)"/><path d="M1862.1,1675.7L1886.2,1717L1951.6,1885.9L1927.7,1843.2Z" fill="url(#g168)"/><path d="M1478.4,1105.1L1504.5,1033.6L1568,1217.6L1542.1,1294.4Z" fill="url(#g169)"/><path d="M1362.7,1118.2L1389.2,1010.2L1452.2,1198.8Z" fill="url(#g170)" stroke="none"/><path d="M1362.7,1118.2L1389.2,1010.2M1389.2,1010.2L1452.2,1198.8" fill="none"/><path d="M1568,1217.6L1593.7,1164.1L1657.7,1347.7L1632.1,1405.1Z" fill="url(#g171)"/><path d="M1452.2,1198.8L1478.4,1105.1L1542.1,1294.4Z" fill="url(#g172)" stroke="none"/><path d="M1452.2,1198.8L1478.4,1105.1M1478.4,1105.1L1542.1,1294.4" fill="none"/><path d="M1657.7,1347.7L1683.1,1314.7L1747.6,1495.4L1722.4,1531Z" fill="url(#g173)"/><path d="M1542.1,1294.4L1568,1217.6L1632.1,1405.1Z" fill="url(#g174)" stroke="none"/><path d="M1542.1,1294.4L1568,1217.6M1568,1217.6L1632.1,1405.1" fill="none"/><path d="M1747.6,1495.4L1772.6,1485.2L1837.6,1660.5L1812.9,1671.9Z" fill="url(#g175)"/><path d="M1837.6,1660.5L1862.1,1675.7L1927.7,1843.2L1903.4,1828Z" fill="url(#g176)"/><path d="M1632.1,1405.1L1657.7,1347.7L1722.4,1531Z" fill="url(#g177)" stroke="none"/><path d="M1632.1,1405.1L1657.7,1347.7M1657.7,1347.7L1722.4,1531" fill="none"/><path d="M1927.7,1843.2L1951.6,1885.9L1994.1,1999.1Z" fill="url(#g178)" stroke="none"/><path d="M1927.7,1843.2L1951.6,1885.9M1994.1,1999.1L1927.7,1843.2" fill="none"/><path d="M1722.4,1531L1747.6,1495.4L1812.9,1671.9Z" fill="url(#g179)" stroke="none"/><path d="M1722.4,1531L1747.6,1495.4M1747.6,1495.4L1812.9,1671.9" fill="none"/><path d="M1812.9,1671.9L1837.6,1660.5L1903.4,1828Z" fill="url(#g180)" stroke="none"/><path d="M1812.9,1671.9L1837.6,1660.5M1837.6,1660.5L1903.4,1828" fill="none"/><path d="M1903.4,1828L1927.7,1843.2L1994.1,1999.1Z" fill="url(#g181)" stroke="none"/><path d="M1903.4,1828L1927.7,1843.2M1927.7,1843.2L1994.1,1999.1" fill="none"/></g>
<path d="M314.3,1247.3L320.1,1234.5L326,1221.8L332,1209L338,1196.3L344,1183.6L350.1,1170.9L356.1,1158.2L362.2,1145.5L368.2,1132.8L374.2,1120.1L380.3,1107.3L386.3,1094.6L392.2,1081.9L398.2,1069.1L404.2,1056.4L410.2,1043.6L416.1,1030.9L422.1,1018.1L428.1,1005.4L434,992.6L440,979.9L445.9,967.1L451.9,954.4L457.8,941.6L463.8,928.9L469.7,916.1L475.7,903.4L481.6,890.6L487.6,877.9L493.6,865.1L499.6,852.4L505.6,839.7L511.6,826.9L517.6,814.2L523.6,801.5L529.6,788.8L535.7,776.1L541.8,763.4L547.8,750.7L554,738L560.1,725.4L566.2,712.7L572.4,700.1L578.5,687.4L584.7,674.8L590.9,662.1L597.2,649.5L603.4,636.9L609.7,624.4L616.1,611.8L622.5,599.3L628.9,586.8L635.4,574.3L641.9,561.8L648.4,549.4L655,536.9L661.6,524.5L668.2,512.1L674.9,499.8L681.7,487.4L688.5,475.1L695.3,462.9L702.3,450.6L709.2,438.4L716.3,426.3L723.4,414.1L730.6,402L737.8,390L745.1,378L752.5,366.1L760,354.2L767.6,342.4L775.3,330.6L783.1,318.9L791,307.3L799,295.8L807.1,284.3L815.4,273L823.8,261.8L832.3,250.6L841.1,239.7L849.9,228.8L859,218.1L868.2,207.6L877.7,197.3L887.3,187.1L897.2,177.2L907.3,167.6L917.7,158.2L928.3,149.2L939.3,140.5L950.5,132.3L962,124.6L973.9,117.4L986.2,110.9L998.7,105.1L1011.5,100L1024.7,95.8L1038,92.6L1051.6,90.4L1065.2,89.4L1078.9,89.4L1092.6,90.7L1106.1,93L1119.4,96.4L1132.4,100.8L1145.1,106.1L1157.5,112.3L1169.5,119.2L1181.1,126.8L1192.4,134.9L1203.2,143.6L1213.8,152.7L1224,162.2L1233.9,172L1243.5,182.2L1252.8,192.6L1261.9,203.2L1270.7,214.1L1279.4,225.1L1287.8,236.3L1296,247.7L1304,259.2L1311.9,270.8L1319.5,282.6L1327.1,294.4L1334.5,306.3L1341.7,318.3L1348.9,330.4L1355.9,342.6L1362.8,354.8L1369.5,367.1L1376.2,379.5L1382.8,391.9L1389.3,404.4L1395.7,416.9L1402,429.5L1408.2,442.1L1414.4,454.7L1420.5,467.3L1426.5,480L1432.5,492.8L1438.4,505.5L1444.2,518.3L1450,531.1L1455.7,544L1461.4,556.8L1467,569.7L1472.5,582.7L1478.1,595.6L1483.5,608.5L1489,621.5L1494.4,634.5L1499.7,647.5L1505,660.5L1510.3,673.6L1515.5,686.6L1520.7,699.7L1525.9,712.8L1531.1,725.9L1536.2,739L1541.3,752.1L1546.3,765.2L1551.3,778.4L1556.3,791.5L1561.3,804.7L1566.3,817.8L1571.2,831L1576.1,844.2L1581,857.4L1585.9,870.6L1590.7,883.8L1595.6,897L1600.4,910.2L1605.2,923.4L1610,936.7L1614.7,949.9L1619.5,963.2L1624.2,976.4L1629,989.7L1633.7,1002.9L1638.4,1016.2L1643.1,1029.4L1647.7,1042.7L1652.4,1056L1657.1,1069.3L1661.7,1082.6L1666.4,1095.8L1671,1109.1L1675.6,1122.4L1680.3,1135.7L1684.9,1149L1689.5,1162.3L1694.1,1175.6L1698.7,1188.9L1703.3,1202.2L1707.9,1215.5L1712.5,1228.8L1717.1,1242.1L1721.7,1255.4L1726.2,1268.7L1730.8,1282L1735.4,1295.3L1740,1308.6L1744.6,1321.9L1749.2,1335.2L1753.7,1348.6L1758.3,1361.9L1762.9,1375.2L1767.5,1388.5L1772.1,1401.8L1776.7,1415.1L1781.4,1428.4L1786,1441.7L1790.6,1455L1795.2,1468.2L1799.9,1481.5L1804.5,1494.8L1809.2,1508.1L1813.8,1521.4L1818.5,1534.7L1823.2,1547.9L1827.9,1561.2L1832.6,1574.5L1837.3,1587.7L1842,1601L1846.8,1614.2L1851.5,1627.5L1856.3,1640.7L1861.1,1654L1865.9,1667.2L1870.8,1680.4L1875.6,1693.6L1880.4,1706.9" fill="none" stroke="#000" stroke-width="7" stroke-linejoin="round"/>
<rect x="1994" y="1209" width="140" height="632" fill="#fffbf0"/>
<rect x="2129" y="1213" width="165" height="610" fill="#fff"/>
<rect x="2011.5" y="1220.5" width="100" height="62" fill="#990000" stroke="#000" stroke-width="5"/>
<rect x="2011.5" y="1299.5" width="100" height="59" fill="#a50000" stroke="#000" stroke-width="5"/>
<rect x="2011.5" y="1378.5" width="100" height="59" fill="#e40000" stroke="#000" stroke-width="5"/>
<rect x="2011.5" y="1457.5" width="100" height="59" fill="#ff5000" stroke="#000" stroke-width="5"/>
<rect x="2011.5" y="1532.5" width="100" height="59" fill="#ecfc00" stroke="#000" stroke-width="5"/>
<rect x="2011.5" y="1610.5" width="100" height="59" fill="#00f400" stroke="#000" stroke-width="5"/>
<rect x="2011.5" y="1689.5" width="100" height="59" fill="#00aa00" stroke="#000" stroke-width="5"/>
<rect x="2011.5" y="1767.5" width="100" height="59" fill="#006040" stroke="#000" stroke-width="5"/>
<g font-family="'Liberation Serif',serif" font-size="66" fill="#000" stroke="#000" stroke-width="1.4" filter="url(#tb)">
<text x="2123" y="1277" textLength="150" lengthAdjust="spacingAndGlyphs">&gt; 330</text>
<text x="2123" y="1351" textLength="150" lengthAdjust="spacingAndGlyphs">&lt; 330</text>
<text x="2123" y="1430" textLength="150" lengthAdjust="spacingAndGlyphs">&gt; 250</text>
<text x="2123" y="1509" textLength="150" lengthAdjust="spacingAndGlyphs">&lt; 250</text>
<text x="2123" y="1588" textLength="150" lengthAdjust="spacingAndGlyphs">&lt; 200</text>
<text x="2123" y="1665" textLength="150" lengthAdjust="spacingAndGlyphs">&lt; 150</text>
<text x="2123" y="1741" textLength="150" lengthAdjust="spacingAndGlyphs">&lt; 100</text>
<text x="2123" y="1823" textLength="117" lengthAdjust="spacingAndGlyphs">&lt; 50</text>
</g>
<rect x="0" y="0" width="496" height="145" fill="#fff"/>
<g font-family="'Liberation Serif','DejaVu Serif',serif" fill="#181818" filter="url(#tb)">
<text x="56" y="104" font-size="74" textLength="405" lengthAdjust="spacingAndGlyphs" >Q<tspan font-style="italic" font-size="66">x</tspan>, gram·s<tspan font-size="44" dy="-26">-1</tspan></text>
<text x="212" y="272" font-size="80" text-anchor="end" >300.0</text>
<text x="213" y="567" font-size="80" text-anchor="end" >250.0</text>
<text x="216" y="860" font-size="80" text-anchor="end" >200.0</text>
<text x="213" y="1144" font-size="80" text-anchor="end" >150.0</text>
<text x="220" y="1442" font-size="80" text-anchor="end" >100.0</text>
<text x="231" y="1716" font-size="80" text-anchor="end" >50.0</text>
<text x="451" y="1794" font-size="74" textLength="220" lengthAdjust="spacingAndGlyphs" ><tspan font-style="italic">h</tspan>, mm</text>
<text x="547" y="2184" font-size="74" textLength="272" lengthAdjust="spacingAndGlyphs" ><tspan font-style="italic">D</tspan><tspan font-style="italic" font-size="66">x</tspan>, mm</text>
<text x="1418" y="1725" font-size="74" textLength="306" lengthAdjust="spacingAndGlyphs" ><tspan font-style="italic">ω</tspan>, rad·s<tspan font-size="44" dy="-26">-1</tspan></text>
<text x="1284" y="1686" font-size="80" textLength="131" lengthAdjust="spacingAndGlyphs" >1.39</text>
<text x="1541" y="1820" font-size="80" textLength="135" lengthAdjust="spacingAndGlyphs" >1.02</text>
<text x="1952" y="2051" font-size="80" textLength="137" lengthAdjust="spacingAndGlyphs" >0.65</text>
<text x="338" y="1926" font-size="80" transform="rotate(-85.2 338 1926)" textLength="132" lengthAdjust="spacingAndGlyphs" >10.0</text>
<text x="840" y="1799" font-size="80" transform="rotate(-85 840 1799)" textLength="90" lengthAdjust="spacingAndGlyphs" >8.0</text>
<text x="1251" y="1692" font-size="80" transform="rotate(-87.5 1251 1692)" textLength="93" lengthAdjust="spacingAndGlyphs" >6.0</text>
<text x="287" y="2169" font-size="80" transform="rotate(-83.7 287 2169)" textLength="165" lengthAdjust="spacingAndGlyphs" >130.0</text>
<text x="1126" y="2231" font-size="80" transform="rotate(-82.7 1126 2231)" textLength="166" lengthAdjust="spacingAndGlyphs" >150.0</text>
<text x="1979" y="2286" font-size="80" transform="rotate(-81.6 1979 2286)" textLength="172" lengthAdjust="spacingAndGlyphs" >170.0</text>
</g>
</svg></body></html>
